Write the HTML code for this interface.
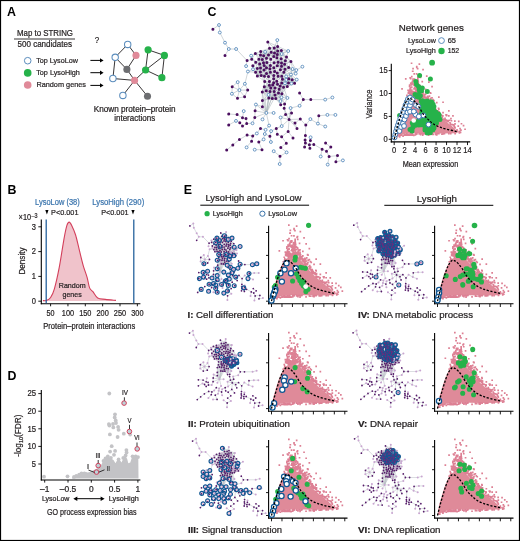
<!DOCTYPE html>
<html><head><meta charset="utf-8"><style>
html,body{margin:0;padding:0;background:#fff;overflow:hidden;width:520px;height:541px;}
svg{display:block;will-change:transform;}
text{font-family:"Liberation Sans", sans-serif;}
</style></head><body>
<svg width="520" height="541" viewBox="0 0 520 541">
<rect x="0" y="0" width="520" height="541" fill="#fff"/>
<defs><g id="pc"><path d="M0.00 0.00 L0.53 -4.58 L1.57 -10.53 L3.15 -16.03 L4.46 -20.61 L5.78 -24.73 L7.35 -29.31 L9.97 -35.72 L12.07 -39.39 L14.18 -42.14 L15.75 -43.05 L18.38 -43.97 L22.57 -44.88 L26.25 -43.51 L29.93 -40.30 L34.12 -35.27 L38.85 -29.77 L43.58 -24.73 L48.83 -20.15 L54.08 -16.03 L58.80 -12.37 L61.95 -8.70 L62.48 -5.95 L47.25 -5.72 L31.50 -5.95 L23.62 -6.18 L11.55 -5.50 L6.30 -4.12 L2.62 -2.06 Z" fill="#df8a99"/><path d="M41.7 -5.3h1.7v1.7h-1.7zM26.7 -52.0h1.7v1.7h-1.7zM19.0 -51.3h1.7v1.7h-1.7zM43.6 -27.3h1.7v1.7h-1.7zM26.3 -47.7h1.7v1.7h-1.7zM30.0 -41.9h1.7v1.7h-1.7zM53.0 -18.4h1.7v1.7h-1.7zM24.5 -54.7h1.7v1.7h-1.7zM22.4 -55.5h1.7v1.7h-1.7zM62.0 -10.2h1.7v1.7h-1.7zM32.7 -39.0h1.7v1.7h-1.7zM20.6 -50.4h1.7v1.7h-1.7zM39.1 -32.1h1.7v1.7h-1.7zM32.5 -43.7h1.7v1.7h-1.7zM39.9 -32.5h1.7v1.7h-1.7zM4.5 -4.4h1.7v1.7h-1.7zM44.1 -27.1h1.7v1.7h-1.7zM21.3 -52.3h1.7v1.7h-1.7zM1.4 -2.2h1.7v1.7h-1.7zM37.4 -33.6h1.7v1.7h-1.7zM35.6 -39.7h1.7v1.7h-1.7zM30.3 -43.1h1.7v1.7h-1.7zM41.1 -5.6h1.7v1.7h-1.7zM61.6 -9.0h1.7v1.7h-1.7zM19.5 -52.8h1.7v1.7h-1.7zM17.5 -58.7h1.7v1.7h-1.7zM18.3 -46.5h1.7v1.7h-1.7zM21.2 -6.5h1.7v1.7h-1.7zM62.6 -8.6h1.7v1.7h-1.7zM31.9 -39.8h1.7v1.7h-1.7zM33.2 -43.0h1.7v1.7h-1.7zM33.3 -36.9h1.7v1.7h-1.7zM31.6 -42.6h1.7v1.7h-1.7zM13.3 -47.9h1.7v1.7h-1.7zM18.1 -59.7h1.7v1.7h-1.7zM8.0 -4.1h1.7v1.7h-1.7zM61.8 -8.5h1.7v1.7h-1.7zM22.2 -51.6h1.7v1.7h-1.7zM23.3 -57.7h1.7v1.7h-1.7zM25.8 -51.0h1.7v1.7h-1.7zM16.0 -45.2h1.7v1.7h-1.7zM60.0 -12.2h1.7v1.7h-1.7zM15.0 -4.9h1.7v1.7h-1.7zM16.1 -6.0h1.7v1.7h-1.7zM15.8 -48.9h1.7v1.7h-1.7zM40.9 -6.5h1.7v1.7h-1.7zM19.0 -59.8h1.7v1.7h-1.7zM26.7 -51.6h1.7v1.7h-1.7zM25.4 -53.2h1.7v1.7h-1.7zM38.3 -34.9h1.7v1.7h-1.7zM40.7 -5.9h1.7v1.7h-1.7zM61.5 -9.3h1.7v1.7h-1.7zM22.5 -48.1h1.7v1.7h-1.7zM39.9 -30.2h1.7v1.7h-1.7zM41.3 -28.3h1.7v1.7h-1.7zM32.2 -40.5h1.7v1.7h-1.7zM20.8 -47.2h1.7v1.7h-1.7zM48.0 -21.1h1.7v1.7h-1.7zM27.5 -45.7h1.7v1.7h-1.7zM22.7 -51.4h1.7v1.7h-1.7zM17.3 -45.1h1.7v1.7h-1.7zM27.5 -48.6h1.7v1.7h-1.7zM55.7 -6.5h1.7v1.7h-1.7zM21.6 -52.3h1.7v1.7h-1.7zM23.7 -55.5h1.7v1.7h-1.7zM57.2 -15.6h1.7v1.7h-1.7zM25.0 -49.8h1.7v1.7h-1.7zM40.5 -29.5h1.7v1.7h-1.7zM25.4 -46.7h1.7v1.7h-1.7zM41.1 -28.9h1.7v1.7h-1.7zM32.5 -40.4h1.7v1.7h-1.7zM12.5 -43.2h1.7v1.7h-1.7zM24.6 -48.0h1.7v1.7h-1.7zM26.4 -44.0h1.7v1.7h-1.7zM13.5 -46.7h1.7v1.7h-1.7zM54.9 -17.4h1.7v1.7h-1.7zM14.1 -48.8h1.7v1.7h-1.7zM21.0 -54.1h1.7v1.7h-1.7zM53.3 -19.0h1.7v1.7h-1.7zM42.7 -29.2h1.7v1.7h-1.7zM46.9 -6.1h1.7v1.7h-1.7zM19.2 -46.0h1.7v1.7h-1.7zM27.6 -42.7h1.7v1.7h-1.7zM24.1 -49.5h1.7v1.7h-1.7zM52.0 -18.4h1.7v1.7h-1.7zM21.6 -6.1h1.7v1.7h-1.7zM15.5 -47.3h1.7v1.7h-1.7zM4.2 -4.0h1.7v1.7h-1.7zM19.7 -56.7h1.7v1.7h-1.7zM59.0 -14.3h1.7v1.7h-1.7zM38.9 -31.5h1.7v1.7h-1.7zM12.0 -4.9h1.7v1.7h-1.7zM23.9 -47.3h1.7v1.7h-1.7zM15.2 -51.4h1.7v1.7h-1.7zM36.8 -33.2h1.7v1.7h-1.7zM50.0 -21.8h1.7v1.7h-1.7zM33.7 -5.1h1.7v1.7h-1.7zM11.9 -44.8h1.7v1.7h-1.7zM39.2 -29.8h1.7v1.7h-1.7zM55.6 -15.6h1.7v1.7h-1.7zM18.2 -48.6h1.7v1.7h-1.7zM9.1 -5.0h1.7v1.7h-1.7zM27.7 -46.3h1.7v1.7h-1.7zM37.1 -6.3h1.7v1.7h-1.7zM44.0 -24.9h1.7v1.7h-1.7zM21.9 -59.5h1.7v1.7h-1.7zM25.8 -49.5h1.7v1.7h-1.7zM49.6 -20.8h1.7v1.7h-1.7zM19.4 -56.4h1.7v1.7h-1.7zM52.6 -19.6h1.7v1.7h-1.7zM19.1 -55.0h1.7v1.7h-1.7zM16.5 -48.6h1.7v1.7h-1.7zM24.4 -6.2h1.7v1.7h-1.7zM18.3 -4.9h1.7v1.7h-1.7zM27.4 -43.2h1.7v1.7h-1.7zM48.2 -6.2h1.7v1.7h-1.7zM44.6 -25.2h1.7v1.7h-1.7zM17.2 -6.4h1.7v1.7h-1.7zM40.2 -28.8h1.7v1.7h-1.7zM18.4 -55.6h1.7v1.7h-1.7zM20.7 -51.3h1.7v1.7h-1.7zM10.9 -40.3h1.7v1.7h-1.7zM23.1 -52.3h1.7v1.7h-1.7zM37.1 -5.8h1.7v1.7h-1.7zM4.6 -3.3h1.7v1.7h-1.7zM11.6 -6.1h1.7v1.7h-1.7zM21.3 -55.6h1.7v1.7h-1.7zM43.5 -28.5h1.7v1.7h-1.7zM37.6 -5.8h1.7v1.7h-1.7zM25.6 -5.4h1.7v1.7h-1.7zM21.2 -48.1h1.7v1.7h-1.7zM43.6 -25.1h1.7v1.7h-1.7zM18.7 -48.0h1.7v1.7h-1.7zM9.8 -5.0h1.7v1.7h-1.7zM22.2 -48.7h1.7v1.7h-1.7zM38.4 -5.8h1.7v1.7h-1.7zM20.2 -47.2h1.7v1.7h-1.7zM20.4 -6.6h1.7v1.7h-1.7zM49.4 -6.4h1.7v1.7h-1.7zM34.3 -37.2h1.7v1.7h-1.7zM50.0 -20.0h1.7v1.7h-1.7zM30.1 -41.4h1.7v1.7h-1.7zM48.7 -6.4h1.7v1.7h-1.7zM20.0 -56.7h1.7v1.7h-1.7zM25.2 -54.3h1.7v1.7h-1.7zM22.5 -49.1h1.7v1.7h-1.7zM43.8 -6.4h1.7v1.7h-1.7zM21.1 -57.6h1.7v1.7h-1.7zM14.1 -49.8h1.7v1.7h-1.7zM19.6 -55.2h1.7v1.7h-1.7zM16.1 -5.1h1.7v1.7h-1.7zM34.6 -34.8h1.7v1.7h-1.7zM19.5 -60.9h1.7v1.7h-1.7zM47.8 -24.3h1.7v1.7h-1.7zM45.7 -25.2h1.7v1.7h-1.7zM33.4 -38.7h1.7v1.7h-1.7zM16.2 -57.0h1.7v1.7h-1.7zM29.9 -45.5h1.7v1.7h-1.7zM23.8 -52.3h1.7v1.7h-1.7zM28.6 -6.3h1.7v1.7h-1.7zM53.8 -6.5h1.7v1.7h-1.7zM59.8 -12.7h1.7v1.7h-1.7zM20.4 -5.2h1.7v1.7h-1.7zM55.3 -16.7h1.7v1.7h-1.7zM16.7 -50.1h1.7v1.7h-1.7zM59.3 -13.6h1.7v1.7h-1.7zM15.7 -56.9h1.7v1.7h-1.7zM60.1 -6.6h1.7v1.7h-1.7zM38.2 -34.3h1.7v1.7h-1.7zM16.6 -56.1h1.7v1.7h-1.7zM21.4 -59.2h1.7v1.7h-1.7zM15.0 -46.7h1.7v1.7h-1.7zM18.4 -5.1h1.7v1.7h-1.7zM20.6 -52.9h1.7v1.7h-1.7zM13.8 -47.2h1.7v1.7h-1.7zM25.6 -6.3h1.7v1.7h-1.7zM14.8 -46.2h1.7v1.7h-1.7zM15.3 -52.7h1.7v1.7h-1.7zM24.6 -49.3h1.7v1.7h-1.7zM25.5 -6.2h1.7v1.7h-1.7zM22.0 -53.1h1.7v1.7h-1.7zM33.2 -42.7h1.7v1.7h-1.7zM28.2 -47.3h1.7v1.7h-1.7zM24.6 -47.1h1.7v1.7h-1.7zM22.6 -57.6h1.7v1.7h-1.7zM22.0 -59.0h1.7v1.7h-1.7zM25.9 -50.8h1.7v1.7h-1.7zM16.7 -53.1h1.7v1.7h-1.7zM16.8 -5.0h1.7v1.7h-1.7zM13.0 -49.9h1.7v1.7h-1.7zM32.5 -37.3h1.7v1.7h-1.7zM28.7 -43.1h1.7v1.7h-1.7zM22.1 -56.4h1.7v1.7h-1.7zM47.1 -24.6h1.7v1.7h-1.7zM30.7 -40.4h1.7v1.7h-1.7zM27.7 -5.0h1.7v1.7h-1.7zM31.9 -39.2h1.7v1.7h-1.7zM21.9 -6.7h1.7v1.7h-1.7zM27.8 -44.5h1.7v1.7h-1.7zM20.4 -48.5h1.7v1.7h-1.7zM33.7 -41.0h1.7v1.7h-1.7zM17.6 -56.9h1.7v1.7h-1.7zM18.7 -4.8h1.7v1.7h-1.7zM16.7 -48.4h1.7v1.7h-1.7zM44.2 -28.4h1.7v1.7h-1.7zM13.4 -4.9h1.7v1.7h-1.7zM22.7 -45.5h1.7v1.7h-1.7zM15.0 -50.1h1.7v1.7h-1.7zM41.1 -30.0h1.7v1.7h-1.7zM29.1 -44.8h1.7v1.7h-1.7zM6.5 -5.0h1.7v1.7h-1.7zM12.2 -41.8h1.7v1.7h-1.7zM33.2 -36.8h1.7v1.7h-1.7zM33.3 -42.7h1.7v1.7h-1.7zM39.9 -30.0h1.7v1.7h-1.7zM58.2 -15.2h1.7v1.7h-1.7zM47.3 -23.1h1.7v1.7h-1.7zM16.2 -44.8h1.7v1.7h-1.7zM16.0 -49.8h1.7v1.7h-1.7zM44.4 -24.7h1.7v1.7h-1.7zM51.2 -20.0h1.7v1.7h-1.7zM19.5 -45.4h1.7v1.7h-1.7zM4.5 -3.9h1.7v1.7h-1.7zM15.8 -46.6h1.7v1.7h-1.7zM29.4 -45.1h1.7v1.7h-1.7zM26.3 -51.7h1.7v1.7h-1.7zM21.1 -49.3h1.7v1.7h-1.7zM19.2 -54.9h1.7v1.7h-1.7zM27.2 -45.2h1.7v1.7h-1.7zM27.0 -6.6h1.7v1.7h-1.7zM13.3 -46.9h1.7v1.7h-1.7zM20.4 -46.1h1.7v1.7h-1.7zM31.7 -42.2h1.7v1.7h-1.7zM22.6 -58.0h1.7v1.7h-1.7zM29.6 -6.6h1.7v1.7h-1.7zM16.7 -52.7h1.7v1.7h-1.7zM20.9 -48.2h1.7v1.7h-1.7zM9.8 -5.4h1.7v1.7h-1.7zM44.3 -25.1h1.7v1.7h-1.7zM21.1 -59.3h1.7v1.7h-1.7zM22.7 -56.2h1.7v1.7h-1.7zM22.6 -57.3h1.7v1.7h-1.7zM20.6 -51.6h1.7v1.7h-1.7zM24.1 -6.6h1.7v1.7h-1.7zM21.8 -46.4h1.7v1.7h-1.7zM27.7 -49.8h1.7v1.7h-1.7zM19.7 -47.7h1.7v1.7h-1.7zM23.1 -57.7h1.7v1.7h-1.7zM15.1 -51.2h1.7v1.7h-1.7zM21.3 -58.5h1.7v1.7h-1.7zM59.0 -14.5h1.7v1.7h-1.7zM18.5 -60.8h1.7v1.7h-1.7zM16.3 -55.3h1.7v1.7h-1.7zM22.4 -56.5h1.7v1.7h-1.7zM36.6 -35.5h1.7v1.7h-1.7zM10.6 -5.1h1.7v1.7h-1.7zM42.9 -27.6h1.7v1.7h-1.7zM42.4 -6.5h1.7v1.7h-1.7zM11.7 -6.3h1.7v1.7h-1.7zM52.1 -18.9h1.7v1.7h-1.7zM22.0 -54.9h1.7v1.7h-1.7zM30.5 -46.1h1.7v1.7h-1.7zM22.4 -47.5h1.7v1.7h-1.7zM14.1 -49.3h1.7v1.7h-1.7zM19.4 -61.1h1.7v1.7h-1.7zM17.2 -57.9h1.7v1.7h-1.7zM23.2 -47.9h1.7v1.7h-1.7zM37.4 -36.4h1.7v1.7h-1.7zM38.4 -32.4h1.7v1.7h-1.7zM22.7 -56.6h1.7v1.7h-1.7zM14.5 -53.8h1.7v1.7h-1.7zM16.4 -48.8h1.7v1.7h-1.7zM15.8 -47.4h1.7v1.7h-1.7zM23.2 -54.1h1.7v1.7h-1.7zM17.4 -6.1h1.7v1.7h-1.7zM20.4 -53.1h1.7v1.7h-1.7zM14.0 -49.7h1.7v1.7h-1.7zM23.4 -46.2h1.7v1.7h-1.7zM27.7 -52.2h1.7v1.7h-1.7zM17.1 -57.7h1.7v1.7h-1.7zM35.2 -38.7h1.7v1.7h-1.7zM17.2 -46.9h1.7v1.7h-1.7zM44.6 -25.3h1.7v1.7h-1.7zM21.6 -46.1h1.7v1.7h-1.7zM22.0 -51.1h1.7v1.7h-1.7zM40.7 -30.7h1.7v1.7h-1.7zM15.4 -52.2h1.7v1.7h-1.7zM35.1 -38.0h1.7v1.7h-1.7zM50.3 -19.8h1.7v1.7h-1.7zM15.1 -6.0h1.7v1.7h-1.7zM15.3 -6.2h1.7v1.7h-1.7zM23.2 -49.6h1.7v1.7h-1.7zM27.5 -48.4h1.7v1.7h-1.7zM23.0 -55.3h1.7v1.7h-1.7zM50.9 -19.8h1.7v1.7h-1.7zM24.6 -47.6h1.7v1.7h-1.7zM27.8 -48.0h1.7v1.7h-1.7zM18.6 -45.1h1.7v1.7h-1.7zM13.3 -5.9h1.7v1.7h-1.7zM5.3 -4.8h1.7v1.7h-1.7zM16.7 -63.5h1.7v1.7h-1.7zM43.5 -31.8h1.7v1.7h-1.7zM38.0 -40.5h1.7v1.7h-1.7zM56.4 -19.4h1.7v1.7h-1.7zM21.6 -66.2h1.7v1.7h-1.7zM38.9 -39.6h1.7v1.7h-1.7zM51.0 -25.3h1.7v1.7h-1.7zM54.4 -19.9h1.7v1.7h-1.7zM18.0 -71.6h1.7v1.7h-1.7zM41.7 -37.6h1.7v1.7h-1.7zM14.6 -55.1h1.7v1.7h-1.7zM35.2 -47.4h1.7v1.7h-1.7zM22.8 -62.7h1.7v1.7h-1.7zM51.5 -24.4h1.7v1.7h-1.7zM15.7 -61.5h1.7v1.7h-1.7zM25.2 -65.4h1.7v1.7h-1.7zM65.0 -11.5h1.7v1.7h-1.7zM24.7 -64.6h1.7v1.7h-1.7zM22.8 -61.1h1.7v1.7h-1.7zM59.8 -19.0h1.7v1.7h-1.7zM35.8 -41.9h1.7v1.7h-1.7zM48.0 -27.6h1.7v1.7h-1.7zM43.8 -31.1h1.7v1.7h-1.7zM23.0 -59.4h1.7v1.7h-1.7zM51.7 -25.1h1.7v1.7h-1.7zM35.7 -46.9h1.7v1.7h-1.7zM17.6 -68.9h1.7v1.7h-1.7zM22.6 -71.5h1.7v1.7h-1.7zM60.0 -16.3h1.7v1.7h-1.7zM64.6 -8.7h1.7v1.7h-1.7zM27.2 -58.6h1.7v1.7h-1.7zM25.4 -62.7h1.7v1.7h-1.7zM64.4 -7.2h1.7v1.7h-1.7zM30.5 -50.7h1.7v1.7h-1.7zM65.9 -10.0h1.7v1.7h-1.7zM34.4 -44.1h1.7v1.7h-1.7zM65.5 -7.8h1.7v1.7h-1.7zM15.1 -62.3h1.7v1.7h-1.7zM21.7 -73.5h1.7v1.7h-1.7zM18.0 -61.0h1.7v1.7h-1.7zM19.2 -66.3h1.7v1.7h-1.7zM21.7 -72.7h1.7v1.7h-1.7zM17.8 -68.9h1.7v1.7h-1.7zM53.8 -24.3h1.7v1.7h-1.7zM37.0 -42.4h1.7v1.7h-1.7zM28.0 -70.5h1.7v1.7h-1.7zM31.7 -64.1h1.7v1.7h-1.7zM37.0 -53.5h1.7v1.7h-1.7zM43.8 -43.0h1.7v1.7h-1.7zM48.0 -37.9h1.7v1.7h-1.7zM53.8 -29.2h1.7v1.7h-1.7zM57.9 -24.2h1.7v1.7h-1.7zM63.7 -18.7h1.7v1.7h-1.7zM68.5 -14.6h1.7v1.7h-1.7zM63.2 -14.1h1.7v1.7h-1.7zM10.7 -61.3h1.7v1.7h-1.7zM7.0 -51.2h1.7v1.7h-1.7zM24.3 -76.0h1.7v1.7h-1.7zM16.5 -76.9h1.7v1.7h-1.7zM33.8 -58.1h1.7v1.7h-1.7zM55.9 -21.5h1.7v1.7h-1.7zM66.4 -16.4h1.7v1.7h-1.7zM70.0 -10.9h1.7v1.7h-1.7z" fill="#dd8094"/></g>
<path id="dl" d="M0.00 0.00 C0.44 -1.76 1.71 -7.10 2.62 -10.53 C3.54 -13.97 4.55 -17.40 5.51 -20.61 C6.48 -23.82 7.48 -27.17 8.40 -29.77 C9.32 -32.37 10.02 -34.35 11.03 -36.18 C12.03 -38.01 13.39 -40.08 14.44 -40.76 C15.49 -41.45 16.27 -40.84 17.32 -40.30 C18.38 -39.77 19.51 -38.85 20.74 -37.56 C21.96 -36.26 23.23 -34.66 24.68 -32.52 C26.12 -30.38 27.82 -26.87 29.40 -24.73 C30.97 -22.59 32.55 -21.22 34.12 -19.69 C35.70 -18.17 37.01 -16.79 38.85 -15.57 C40.69 -14.35 42.88 -13.28 45.15 -12.37 C47.42 -11.45 49.61 -10.84 52.50 -10.08 C55.39 -9.31 60.81 -8.17 62.48 -7.79" fill="none" stroke="#000" stroke-width="1.3" stroke-dasharray="2.2 1.6"/>
<path id="ee" d="M3.4 0.0L0.0 2.3M3.4 0.0L3.9 4.1M3.9 4.1L6.8 9.7M6.8 9.7L8.9 13.2M8.9 13.2L13.0 13.2M8.9 13.2L6.8 16.7M13.0 13.2L19.2 19.6M19.2 19.6L21.8 18.8M19.2 19.6L18.7 22.6M21.5 16.9L23.9 15.6M21.5 16.9L21.8 18.8M21.5 16.9L24.1 20.5M23.9 15.6L21.8 18.8M23.9 15.6L26.9 14.5M23.9 15.6L28.5 16.9M23.9 15.6L25.8 18.8M23.9 15.6L27.8 19.0M23.9 15.6L26.7 16.5M21.8 18.8L24.1 20.5M24.1 20.5L22.4 22.4M24.1 20.5L22.5 24.3M24.1 20.5L25.8 18.8M24.1 20.5L27.8 19.0M24.1 20.5L26.2 21.5M24.1 20.5L28.4 20.8M24.1 20.5L25.0 23.9M24.1 20.5L26.8 23.7M22.4 22.4L22.5 24.3M22.4 22.4L25.0 23.9M22.5 24.3L19.7 25.6M22.5 24.3L25.0 28.1M22.5 24.3L25.0 23.9M22.5 24.3L24.0 26.0M22.5 24.3L26.7 25.8M19.7 25.6L18.0 32.3M19.7 25.6L24.0 26.0M30.9 9.4L31.8 12.7M30.9 9.4L34.5 12.6M30.9 9.4L36.4 11.8M36.2 8.3L34.5 12.6M36.2 8.3L36.4 11.8M31.8 12.7L34.5 12.6M31.8 12.7L36.4 11.8M31.8 12.7L26.9 14.5M31.8 12.7L29.3 14.8M31.8 12.7L32.8 15.0M31.8 12.7L36.4 14.3M31.8 12.7L28.5 16.9M31.8 12.7L31.2 16.5M31.8 12.7L34.2 17.3M31.8 12.7L34.6 15.4M34.5 12.6L36.4 11.8M34.5 12.6L38.7 16.0M34.5 12.6L32.8 15.0M34.5 12.6L36.4 14.3M34.5 12.6L31.2 16.5M34.5 12.6L36.2 16.3M34.5 12.6L34.6 15.4M36.4 11.8L38.5 14.0M36.4 11.8L42.3 14.3M36.4 11.8L38.7 16.0M36.4 11.8L36.4 14.3M36.4 11.8L34.2 17.3M36.4 11.8L36.2 16.3M36.4 11.8L34.6 15.4M26.9 14.5L29.3 14.8M26.9 14.5L28.5 16.9M26.9 14.5L31.2 16.5M26.9 14.5L25.8 18.8M26.9 14.5L27.8 19.0M26.9 14.5L26.7 16.5M29.3 14.8L32.8 15.0M29.3 14.8L28.5 16.9M29.3 14.8L31.2 16.5M29.3 14.8L34.2 17.3M29.3 14.8L25.8 18.8M29.3 14.8L27.8 19.0M29.3 14.8L30.1 18.3M29.3 14.8L32.5 18.8M29.3 14.8L26.7 16.5M38.5 14.0L42.3 14.3M38.5 14.0L38.7 16.0M38.5 14.0L41.4 17.6M38.5 14.0L36.4 14.3M38.5 14.0L34.2 17.3M38.5 14.0L36.2 16.3M38.5 14.0L36.0 18.0M38.5 14.0L34.6 15.4M42.3 14.3L38.7 16.0M42.3 14.3L41.4 17.6M42.3 14.3L36.2 16.3M38.7 16.0L41.4 17.6M38.7 16.0L43.9 20.0M38.7 16.0L36.4 14.3M38.7 16.0L34.2 17.3M38.7 16.0L36.2 16.3M38.7 16.0L36.0 18.0M38.7 16.0L38.4 18.6M38.7 16.0L36.6 20.5M38.7 16.0L34.6 15.4M41.4 17.6L43.9 20.0M41.4 17.6L36.2 16.3M41.4 17.6L38.4 18.6M41.4 17.6L40.7 19.7M41.4 17.6L38.6 21.0M41.4 17.6L40.3 21.6M43.9 20.0L42.6 23.4M43.9 20.0L44.8 24.2M43.9 20.0L46.9 24.8M43.9 20.0L40.7 19.7M43.9 20.0L40.3 21.6M43.9 20.0L38.6 22.7M25.0 28.1L29.1 31.0M25.0 28.1L25.0 23.9M25.0 28.1L26.8 23.7M25.0 28.1L24.0 26.0M25.0 28.1L26.7 25.8M25.0 28.1L28.8 24.8M25.0 28.1L27.1 27.8M25.0 28.1L30.1 26.7M25.0 28.1L29.0 28.2M42.6 23.4L44.8 24.2M42.6 23.4L46.9 24.8M42.6 23.4L40.7 19.7M42.6 23.4L38.6 21.0M42.6 23.4L40.3 21.6M42.6 23.4L38.6 22.7M42.6 23.4L37.9 24.6M42.6 23.4L40.5 24.3M42.6 23.4L39.8 26.0M44.8 24.2L46.9 24.8M44.8 24.2L46.5 26.7M44.8 24.2L43.9 27.3M44.8 24.2L41.2 28.3M44.8 24.2L42.7 29.6M44.8 24.2L40.3 21.6M44.8 24.2L40.5 24.3M44.8 24.2L39.8 26.0M46.9 24.8L50.3 22.9M46.9 24.8L46.5 26.7M46.9 24.8L43.9 27.3M46.5 26.7L43.9 27.3M43.9 27.3L41.2 28.3M43.9 27.3L41.3 30.2M43.9 27.3L47.1 30.0M43.9 27.3L44.2 32.2M43.9 27.3L45.9 32.1M43.9 27.3L42.7 29.6M43.9 27.3L44.6 30.1M43.9 27.3L40.5 24.3M43.9 27.3L39.8 26.0M43.9 27.3L42.5 32.0M41.2 28.3L41.3 30.2M41.2 28.3L40.5 32.0M41.2 28.3L45.9 32.1M41.2 28.3L42.7 29.6M41.2 28.3L40.5 24.3M41.2 28.3L38.7 28.2M41.2 28.3L39.8 26.0M41.2 28.3L42.5 32.0M41.2 28.3L39.1 29.9M41.3 30.2L40.5 32.0M41.3 30.2L44.2 32.2M41.3 30.2L42.7 29.6M41.3 30.2L44.6 30.1M41.3 30.2L39.7 34.2M41.3 30.2L38.7 28.2M41.3 30.2L38.7 31.8M41.3 30.2L41.8 33.8M41.3 30.2L42.5 32.0M41.3 30.2L39.1 29.9M47.1 30.0L44.2 32.2M47.1 30.0L45.9 32.1M47.1 30.0L42.7 29.6M47.1 30.0L44.6 30.1M40.5 32.0L44.2 32.2M40.5 32.0L42.7 29.6M40.5 32.0L44.6 30.1M40.5 32.0L39.7 34.2M40.5 32.0L38.7 28.2M40.5 32.0L36.3 32.6M40.5 32.0L38.7 31.8M40.5 32.0L41.8 33.8M40.5 32.0L42.5 32.0M40.5 32.0L39.1 29.9M40.5 32.0L37.8 33.5M44.2 32.2L45.9 32.1M44.2 32.2L42.7 29.6M44.2 32.2L44.6 30.1M44.2 32.2L41.8 33.8M44.2 32.2L42.5 32.0M45.9 32.1L42.7 29.6M45.9 32.1L44.6 30.1M45.9 32.1L41.8 33.8M45.9 32.1L42.5 32.0M42.7 29.6L44.6 30.1M42.7 29.6L42.5 32.0M42.7 29.6L39.1 29.9M44.6 30.1L42.5 32.0M44.6 30.1L39.1 29.9M18.0 32.3L14.9 35.8M18.0 32.3L19.6 35.8M29.1 31.0L28.9 34.0M29.1 31.0L27.1 27.8M29.1 31.0L31.2 28.4M29.1 31.0L31.8 31.1M29.1 31.0L33.6 33.0M29.1 31.0L32.5 34.7M29.1 31.0L27.8 36.8M29.1 31.0L31.7 33.1M29.1 31.0L29.0 28.2M28.9 34.0L30.0 48.4M28.9 34.0L31.3 38.4M28.9 34.0L31.8 31.1M28.9 34.0L34.1 31.8M28.9 34.0L33.6 33.0M28.9 34.0L32.5 34.7M28.9 34.0L34.9 34.7M28.9 34.0L27.8 36.8M28.9 34.0L32.1 36.6M28.9 34.0L31.7 33.1M28.9 34.0L30.0 36.2M39.7 34.2L38.6 39.8M39.7 34.2L41.9 40.1M39.7 34.2L38.7 31.8M39.7 34.2L34.9 34.7M39.7 34.2L37.3 35.3M39.7 34.2L41.8 33.8M39.7 34.2L36.9 37.5M39.7 34.2L38.8 37.8M39.7 34.2L42.5 32.0M39.7 34.2L39.1 29.9M39.7 34.2L37.8 33.5M13.9 31.4L10.8 33.9M13.9 31.4L14.9 35.8M10.8 33.9L14.9 35.8M10.8 33.9L10.7 37.8M14.9 35.8L19.6 35.8M14.9 35.8L10.7 37.8M14.9 35.8L13.8 40.3M14.9 35.8L17.8 39.4M19.6 35.8L17.8 39.4M10.7 37.8L13.8 40.3M13.8 40.3L17.8 39.4M24.2 43.8L27.8 44.9M24.2 43.8L23.7 47.2M24.2 43.8L30.0 48.4M27.8 41.6L27.8 44.9M27.8 41.6L30.0 48.4M27.8 41.6L31.3 38.4M27.8 41.6L27.8 36.8M27.8 41.6L31.4 40.2M27.8 41.6L33.4 40.4M27.8 44.9L30.0 48.4M23.7 47.2L30.0 48.4M23.7 47.2L23.5 50.9M17.3 47.4L16.6 51.0M30.0 48.4L30.0 48.4M30.0 48.4L34.1 48.4M30.0 48.4L23.5 50.9M30.0 48.4L27.9 51.9M30.0 48.4L31.6 55.3M30.0 48.4L31.3 38.4M30.0 48.4L32.5 34.7M30.0 48.4L34.9 34.7M30.0 48.4L37.3 35.3M30.0 48.4L27.8 36.8M30.0 48.4L32.1 36.6M30.0 48.4L34.5 36.6M8.9 49.0L13.6 49.3M13.6 49.3L16.6 51.0M16.6 51.0L18.6 51.5M18.6 51.5L19.0 54.2M23.5 50.9L22.3 54.1M13.0 52.7L15.1 53.7M13.0 52.7L8.9 55.0M15.1 53.7L16.6 55.6M19.0 54.2L22.3 54.1M19.0 54.2L16.6 55.6M38.0 50.9L38.7 55.6M38.0 50.9L40.9 49.3M38.0 50.9L42.8 52.0M31.6 55.3L29.6 57.6M38.7 55.6L35.6 56.9M38.7 55.6L42.8 52.0M26.8 56.9L29.6 57.6M26.8 56.9L24.7 59.6M29.6 57.6L29.2 60.0M32.7 58.4L35.6 56.9M32.7 58.4L32.0 61.2M35.6 56.9L36.2 60.0M24.7 59.6L22.4 61.1M29.2 60.0L32.0 61.2M29.2 60.0L28.5 62.9M36.2 60.0L38.6 61.4M19.2 60.6L22.4 61.1M19.2 60.6L14.9 63.0M22.4 61.1L21.7 63.9M32.0 61.2L32.6 64.4M38.6 61.4L42.3 58.6M38.6 61.4L41.3 65.0M14.9 63.0L11.2 66.0M28.5 62.9L25.8 64.4M31.3 38.4L32.5 34.7M31.3 38.4L34.9 34.7M31.3 38.4L27.8 36.8M31.3 38.4L32.1 36.6M31.3 38.4L34.5 36.6M31.3 38.4L34.9 38.5M31.3 38.4L31.4 40.2M31.3 38.4L33.4 40.4M31.3 38.4L35.3 40.4M31.3 38.4L30.0 36.2M38.6 39.8L38.0 41.9M38.6 39.8L38.1 43.8M38.6 39.8L41.9 40.1M38.6 39.8L37.3 35.3M38.6 39.8L36.9 37.5M38.6 39.8L38.8 37.8M38.6 39.8L34.9 38.5M38.6 39.8L33.4 40.4M38.6 39.8L35.3 40.4M38.6 39.8L40.3 43.5M38.0 41.9L38.1 43.8M38.0 41.9L41.9 40.1M38.0 41.9L36.9 37.5M38.0 41.9L38.8 37.8M38.0 41.9L33.4 40.4M38.0 41.9L35.3 40.4M38.1 43.8L35.3 40.4M38.1 43.8L40.3 43.5M40.0 45.8L40.9 49.3M40.0 45.8L42.8 52.0M40.0 45.8L40.3 43.5M48.7 37.4L50.8 41.0M50.8 41.0L55.0 41.0M50.8 41.0L48.7 44.4M55.0 41.0L63.1 41.0M63.1 41.0L67.2 39.9M48.7 44.4L43.7 45.7M41.9 40.1L37.3 35.3M41.9 40.1L38.8 37.8M41.9 40.1L40.3 43.5M43.7 45.7L44.2 48.4M43.7 45.7L42.8 52.0M40.9 49.3L44.2 48.4M40.9 49.3L42.8 52.0M44.2 48.4L42.8 52.0M42.8 52.0L42.8 52.0M42.8 52.0L49.1 51.8M42.8 52.0L46.1 53.8M42.8 52.0L47.3 57.0M42.8 52.0L42.3 58.6M49.1 51.8L46.1 53.8M49.1 51.8L52.2 55.0M54.8 51.8L52.2 55.0M54.8 51.8L59.0 54.2M59.5 49.9L64.3 49.4M59.5 49.9L59.0 54.2M64.3 49.4L68.8 49.4M46.1 53.8L47.3 57.0M52.2 55.0L52.0 60.8M59.0 54.2L63.1 55.8M42.3 58.6L45.0 62.1M41.3 65.0L38.2 67.3M38.2 67.3L41.4 70.1M34.2 69.4L37.7 72.2M41.4 70.1L37.7 72.2M37.7 72.2L37.5 76.5M21.7 63.9L18.9 67.3M25.8 64.4L27.6 68.6M11.2 66.0L7.8 68.8M23.5 68.6L27.6 68.6M52.0 60.8L51.8 63.2M54.9 61.8L54.8 63.5M51.8 63.2L52.0 65.0M54.8 63.5L54.2 65.8M52.0 65.0L54.2 65.8M52.0 65.0L51.5 67.2M54.2 65.8L56.7 65.7M54.2 65.8L54.5 67.8M56.7 65.7L61.4 68.3M63.3 65.0L66.3 67.2M66.3 67.2L63.8 69.4M61.4 68.3L63.8 69.4M61.4 68.3L60.6 72.3M63.8 69.4L65.3 72.3M65.3 72.3L70.0 71.8M65.3 72.3L64.5 76.8M70.0 71.8L69.1 75.2M69.1 75.2L73.1 74.5M32.8 15.0L36.4 14.3M32.8 15.0L28.5 16.9M32.8 15.0L31.2 16.5M32.8 15.0L34.2 17.3M32.8 15.0L36.2 16.3M32.8 15.0L30.1 18.3M32.8 15.0L34.6 15.4M36.4 14.3L31.2 16.5M36.4 14.3L34.2 17.3M36.4 14.3L36.2 16.3M36.4 14.3L36.0 18.0M36.4 14.3L38.4 18.6M36.4 14.3L34.6 15.4M28.5 16.9L31.2 16.5M28.5 16.9L25.8 18.8M28.5 16.9L27.8 19.0M28.5 16.9L30.1 18.3M28.5 16.9L32.5 18.8M28.5 16.9L28.4 20.8M28.5 16.9L30.3 20.6M28.5 16.9L26.7 16.5M31.2 16.5L34.2 17.3M31.2 16.5L27.8 19.0M31.2 16.5L30.1 18.3M31.2 16.5L32.5 18.8M31.2 16.5L26.7 16.5M31.2 16.5L34.6 15.4M34.2 17.3L36.2 16.3M34.2 17.3L30.1 18.3M34.2 17.3L32.5 18.8M34.2 17.3L36.0 18.0M34.2 17.3L34.4 20.8M34.2 17.3L36.6 20.5M34.2 17.3L34.6 15.4M36.2 16.3L32.5 18.8M36.2 16.3L36.0 18.0M36.2 16.3L38.4 18.6M36.2 16.3L36.6 20.5M36.2 16.3L34.6 15.4M25.8 18.8L27.8 19.0M25.8 18.8L26.2 21.5M25.8 18.8L28.4 20.8M25.8 18.8L26.7 16.5M27.8 19.0L30.1 18.3M27.8 19.0L26.2 21.5M27.8 19.0L28.4 20.8M27.8 19.0L30.3 20.6M27.8 19.0L26.7 16.5M30.1 18.3L32.5 18.8M30.1 18.3L28.4 20.8M30.1 18.3L30.3 20.6M30.1 18.3L28.8 22.3M32.5 18.8L30.3 20.6M32.5 18.8L34.4 20.8M32.5 18.8L32.3 22.2M32.5 18.8L34.6 15.4M36.0 18.0L38.4 18.6M36.0 18.0L34.4 20.8M36.0 18.0L36.6 20.5M36.0 18.0L38.6 21.0M36.0 18.0L34.6 15.4M38.4 18.6L40.7 19.7M38.4 18.6L34.4 20.8M38.4 18.6L36.6 20.5M38.4 18.6L38.6 21.0M38.4 18.6L40.3 21.6M38.4 18.6L36.2 22.4M38.4 18.6L38.6 22.7M40.7 19.7L36.6 20.5M40.7 19.7L38.6 21.0M40.7 19.7L40.3 21.6M40.7 19.7L38.6 22.7M26.2 21.5L28.4 20.8M26.2 21.5L30.3 20.6M26.2 21.5L28.8 22.3M26.2 21.5L25.0 23.9M26.2 21.5L26.8 23.7M26.2 21.5L30.1 23.5M26.2 21.5L26.7 25.8M26.2 21.5L28.8 24.8M26.2 21.5L26.7 16.5M28.4 20.8L30.3 20.6M28.4 20.8L28.8 22.3M28.4 20.8L32.3 22.2M28.4 20.8L25.0 23.9M28.4 20.8L26.8 23.7M28.4 20.8L30.1 23.5M28.4 20.8L28.8 24.8M28.4 20.8L26.7 16.5M30.3 20.6L34.4 20.8M30.3 20.6L28.8 22.3M30.3 20.6L32.3 22.2M30.3 20.6L30.1 23.5M30.3 20.6L32.0 24.1M34.4 20.8L36.6 20.5M34.4 20.8L38.6 21.0M34.4 20.8L32.3 22.2M34.4 20.8L36.2 22.4M34.4 20.8L34.2 23.5M34.4 20.8L32.0 24.1M36.6 20.5L38.6 21.0M36.6 20.5L36.2 22.4M36.6 20.5L38.6 22.7M36.6 20.5L34.2 23.5M36.6 20.5L37.9 24.6M38.6 21.0L40.3 21.6M38.6 21.0L36.2 22.4M38.6 21.0L38.6 22.7M38.6 21.0L37.9 24.6M38.6 21.0L40.5 24.3M40.3 21.6L36.2 22.4M40.3 21.6L38.6 22.7M40.3 21.6L37.9 24.6M40.3 21.6L40.5 24.3M40.3 21.6L39.8 26.0M28.8 22.3L32.3 22.2M28.8 22.3L25.0 23.9M28.8 22.3L26.8 23.7M28.8 22.3L30.1 23.5M28.8 22.3L28.8 24.8M28.8 22.3L32.0 24.1M32.3 22.2L30.1 23.5M32.3 22.2L34.2 23.5M32.3 22.2L28.8 24.8M32.3 22.2L32.3 26.0M32.3 22.2L32.0 24.1M36.2 22.4L38.6 22.7M36.2 22.4L34.2 23.5M36.2 22.4L37.9 24.6M36.2 22.4L40.5 24.3M36.2 22.4L34.7 25.6M36.2 22.4L32.0 24.1M38.6 22.7L37.9 24.6M38.6 22.7L40.5 24.3M38.6 22.7L39.8 26.0M25.0 23.9L26.8 23.7M25.0 23.9L24.0 26.0M25.0 23.9L26.7 25.8M25.0 23.9L28.8 24.8M26.8 23.7L30.1 23.5M26.8 23.7L24.0 26.0M26.8 23.7L26.7 25.8M26.8 23.7L28.8 24.8M26.8 23.7L30.1 26.7M30.1 23.5L26.7 25.8M30.1 23.5L28.8 24.8M30.1 23.5L32.3 26.0M30.1 23.5L30.1 26.7M30.1 23.5L32.0 24.1M34.2 23.5L37.9 24.6M34.2 23.5L32.3 26.0M34.2 23.5L34.7 25.6M34.2 23.5L36.2 26.5M34.2 23.5L34.2 27.7M34.2 23.5L32.0 24.1M37.9 24.6L40.5 24.3M37.9 24.6L34.7 25.6M37.9 24.6L36.2 26.5M37.9 24.6L36.6 28.2M37.9 24.6L38.7 28.2M37.9 24.6L39.8 26.0M40.5 24.3L38.7 28.2M40.5 24.3L39.8 26.0M24.0 26.0L26.7 25.8M24.0 26.0L28.8 24.8M24.0 26.0L27.1 27.8M26.7 25.8L28.8 24.8M26.7 25.8L27.1 27.8M26.7 25.8L30.1 26.7M26.7 25.8L29.0 28.2M28.8 24.8L32.3 26.0M28.8 24.8L27.1 27.8M28.8 24.8L30.1 26.7M28.8 24.8L32.0 24.1M28.8 24.8L29.0 28.2M32.3 26.0L34.7 25.6M32.3 26.0L27.1 27.8M32.3 26.0L30.1 26.7M32.3 26.0L31.2 28.4M32.3 26.0L34.2 27.7M32.3 26.0L34.1 29.5M32.3 26.0L32.0 24.1M32.3 26.0L29.0 28.2M34.7 25.6L36.2 26.5M34.7 25.6L30.1 26.7M34.7 25.6L31.2 28.4M34.7 25.6L34.2 27.7M34.7 25.6L36.6 28.2M34.7 25.6L32.0 24.1M36.2 26.5L34.2 27.7M36.2 26.5L36.6 28.2M36.2 26.5L38.7 28.2M36.2 26.5L39.8 26.0M36.2 26.5L34.1 29.5M27.1 27.8L30.1 26.7M27.1 27.8L31.2 28.4M27.1 27.8L29.0 28.2M30.1 26.7L31.2 28.4M30.1 26.7L34.2 27.7M30.1 26.7L31.8 31.1M30.1 26.7L32.0 24.1M30.1 26.7L29.0 28.2M31.2 28.4L34.2 27.7M31.2 28.4L31.8 31.1M31.2 28.4L34.1 29.5M31.2 28.4L34.1 31.8M31.2 28.4L32.0 24.1M31.2 28.4L29.0 28.2M34.2 27.7L36.6 28.2M34.2 27.7L34.1 29.5M34.2 27.7L35.9 31.0M36.6 28.2L38.7 28.2M36.6 28.2L39.8 26.0M36.6 28.2L34.1 29.5M36.6 28.2L35.9 31.0M36.6 28.2L34.1 31.8M36.6 28.2L38.7 31.8M36.6 28.2L39.1 29.9M38.7 28.2L39.8 26.0M38.7 28.2L35.9 31.0M38.7 28.2L39.1 29.9M39.8 26.0L39.1 29.9M31.8 31.1L34.1 29.5M31.8 31.1L34.1 31.8M31.8 31.1L33.6 33.0M31.8 31.1L32.5 34.7M31.8 31.1L31.7 33.1M31.8 31.1L29.0 28.2M34.1 29.5L35.9 31.0M34.1 29.5L34.1 31.8M34.1 29.5L36.3 32.6M34.1 29.5L33.6 33.0M35.9 31.0L34.1 31.8M35.9 31.0L36.3 32.6M35.9 31.0L38.7 31.8M35.9 31.0L33.6 33.0M35.9 31.0L37.3 35.3M34.1 31.8L36.3 32.6M34.1 31.8L33.6 33.0M34.1 31.8L32.5 34.7M34.1 31.8L34.9 34.7M34.1 31.8L31.7 33.1M34.1 31.8L37.8 33.5M36.3 32.6L38.7 31.8M36.3 32.6L33.6 33.0M36.3 32.6L32.5 34.7M36.3 32.6L34.9 34.7M36.3 32.6L37.3 35.3M36.3 32.6L31.7 33.1M36.3 32.6L39.1 29.9M36.3 32.6L37.8 33.5M38.7 31.8L37.3 35.3M38.7 31.8L41.8 33.8M38.7 31.8L39.1 29.9M38.7 31.8L37.8 33.5M33.6 33.0L32.5 34.7M33.6 33.0L34.9 34.7M33.6 33.0L37.3 35.3M33.6 33.0L34.5 36.6M33.6 33.0L31.7 33.1M33.6 33.0L30.0 36.2M32.5 34.7L34.9 34.7M32.5 34.7L32.1 36.6M32.5 34.7L34.5 36.6M32.5 34.7L34.9 38.5M32.5 34.7L31.4 40.2M32.5 34.7L31.7 33.1M32.5 34.7L30.0 36.2M34.9 34.7L37.3 35.3M34.9 34.7L32.1 36.6M34.9 34.7L34.5 36.6M34.9 34.7L36.9 37.5M34.9 34.7L34.9 38.5M34.9 34.7L31.7 33.1M34.9 34.7L37.8 33.5M37.3 35.3L41.8 33.8M37.3 35.3L34.5 36.6M37.3 35.3L36.9 37.5M37.3 35.3L38.8 37.8M37.3 35.3L34.9 38.5M37.3 35.3L35.3 40.4M37.3 35.3L37.8 33.5M41.8 33.8L38.8 37.8M41.8 33.8L42.5 32.0M27.8 36.8L32.1 36.6M27.8 36.8L31.4 40.2M27.8 36.8L31.7 33.1M27.8 36.8L30.0 36.2M32.1 36.6L34.5 36.6M32.1 36.6L34.9 38.5M32.1 36.6L31.4 40.2M32.1 36.6L33.4 40.4M32.1 36.6L31.7 33.1M32.1 36.6L30.0 36.2M34.5 36.6L36.9 37.5M34.5 36.6L34.9 38.5M34.5 36.6L33.4 40.4M34.5 36.6L35.3 40.4M34.5 36.6L31.7 33.1M36.9 37.5L38.8 37.8M36.9 37.5L34.9 38.5M36.9 37.5L31.4 40.2M36.9 37.5L33.4 40.4M36.9 37.5L35.3 40.4M36.9 37.5L37.8 33.5M38.8 37.8L34.9 38.5M38.8 37.8L35.3 40.4M38.8 37.8L37.8 33.5M34.9 38.5L31.4 40.2M34.9 38.5L33.4 40.4M34.9 38.5L35.3 40.4M31.4 40.2L33.4 40.4M31.4 40.2L35.3 40.4M31.4 40.2L30.0 36.2M33.4 40.4L35.3 40.4M33.4 40.4L30.0 36.2M42.5 32.0L39.1 29.9M31.7 33.1L30.0 36.2M39.1 29.9L37.8 33.5M32.0 24.1L29.0 28.2" stroke="#b6bdc2" stroke-width="0.5" fill="none"/>
<g id="en"><path d="M2.4 0.0a1.02 1.02 0 1 0 2.04 0a1.02 1.02 0 1 0 -2.04 0zM2.9 4.1a1.02 1.02 0 1 0 2.04 0a1.02 1.02 0 1 0 -2.04 0zM5.8 9.7a1.02 1.02 0 1 0 2.04 0a1.02 1.02 0 1 0 -2.04 0zM7.9 13.2a1.02 1.02 0 1 0 2.04 0a1.02 1.02 0 1 0 -2.04 0zM12.0 13.2a1.02 1.02 0 1 0 2.04 0a1.02 1.02 0 1 0 -2.04 0zM20.4 16.9a1.02 1.02 0 1 0 2.04 0a1.02 1.02 0 1 0 -2.04 0zM17.6 22.6a1.02 1.02 0 1 0 2.04 0a1.02 1.02 0 1 0 -2.04 0zM21.5 24.3a1.02 1.02 0 1 0 2.04 0a1.02 1.02 0 1 0 -2.04 0zM18.7 25.6a1.02 1.02 0 1 0 2.04 0a1.02 1.02 0 1 0 -2.04 0zM35.2 8.3a1.02 1.02 0 1 0 2.04 0a1.02 1.02 0 1 0 -2.04 0zM28.3 14.8a1.02 1.02 0 1 0 2.04 0a1.02 1.02 0 1 0 -2.04 0zM41.3 14.3a1.02 1.02 0 1 0 2.04 0a1.02 1.02 0 1 0 -2.04 0zM37.6 16.0a1.02 1.02 0 1 0 2.04 0a1.02 1.02 0 1 0 -2.04 0zM43.8 24.2a1.02 1.02 0 1 0 2.04 0a1.02 1.02 0 1 0 -2.04 0zM45.9 24.8a1.02 1.02 0 1 0 2.04 0a1.02 1.02 0 1 0 -2.04 0zM49.3 22.9a1.02 1.02 0 1 0 2.04 0a1.02 1.02 0 1 0 -2.04 0zM45.5 26.7a1.02 1.02 0 1 0 2.04 0a1.02 1.02 0 1 0 -2.04 0zM42.8 27.3a1.02 1.02 0 1 0 2.04 0a1.02 1.02 0 1 0 -2.04 0zM40.2 28.3a1.02 1.02 0 1 0 2.04 0a1.02 1.02 0 1 0 -2.04 0zM40.2 30.2a1.02 1.02 0 1 0 2.04 0a1.02 1.02 0 1 0 -2.04 0zM46.1 30.0a1.02 1.02 0 1 0 2.04 0a1.02 1.02 0 1 0 -2.04 0zM39.5 32.0a1.02 1.02 0 1 0 2.04 0a1.02 1.02 0 1 0 -2.04 0zM43.1 32.2a1.02 1.02 0 1 0 2.04 0a1.02 1.02 0 1 0 -2.04 0zM17.0 32.3a1.02 1.02 0 1 0 2.04 0a1.02 1.02 0 1 0 -2.04 0zM12.9 31.4a1.02 1.02 0 1 0 2.04 0a1.02 1.02 0 1 0 -2.04 0zM13.9 35.8a1.02 1.02 0 1 0 2.04 0a1.02 1.02 0 1 0 -2.04 0zM9.7 37.8a1.02 1.02 0 1 0 2.04 0a1.02 1.02 0 1 0 -2.04 0zM23.1 43.8a1.02 1.02 0 1 0 2.04 0a1.02 1.02 0 1 0 -2.04 0zM16.3 47.4a1.02 1.02 0 1 0 2.04 0a1.02 1.02 0 1 0 -2.04 0zM29.0 48.4a1.02 1.02 0 1 0 2.04 0a1.02 1.02 0 1 0 -2.04 0zM33.1 48.4a1.02 1.02 0 1 0 2.04 0a1.02 1.02 0 1 0 -2.04 0zM12.0 52.7a1.02 1.02 0 1 0 2.04 0a1.02 1.02 0 1 0 -2.04 0zM21.2 54.1a1.02 1.02 0 1 0 2.04 0a1.02 1.02 0 1 0 -2.04 0zM26.9 51.9a1.02 1.02 0 1 0 2.04 0a1.02 1.02 0 1 0 -2.04 0zM37.0 50.9a1.02 1.02 0 1 0 2.04 0a1.02 1.02 0 1 0 -2.04 0zM30.6 55.3a1.02 1.02 0 1 0 2.04 0a1.02 1.02 0 1 0 -2.04 0zM37.6 55.6a1.02 1.02 0 1 0 2.04 0a1.02 1.02 0 1 0 -2.04 0zM28.6 57.6a1.02 1.02 0 1 0 2.04 0a1.02 1.02 0 1 0 -2.04 0zM31.7 58.4a1.02 1.02 0 1 0 2.04 0a1.02 1.02 0 1 0 -2.04 0zM23.7 59.6a1.02 1.02 0 1 0 2.04 0a1.02 1.02 0 1 0 -2.04 0zM28.1 60.0a1.02 1.02 0 1 0 2.04 0a1.02 1.02 0 1 0 -2.04 0zM27.5 62.9a1.02 1.02 0 1 0 2.04 0a1.02 1.02 0 1 0 -2.04 0zM30.3 38.4a1.02 1.02 0 1 0 2.04 0a1.02 1.02 0 1 0 -2.04 0zM37.5 39.8a1.02 1.02 0 1 0 2.04 0a1.02 1.02 0 1 0 -2.04 0zM37.0 41.9a1.02 1.02 0 1 0 2.04 0a1.02 1.02 0 1 0 -2.04 0zM62.1 41.0a1.02 1.02 0 1 0 2.04 0a1.02 1.02 0 1 0 -2.04 0zM66.1 39.9a1.02 1.02 0 1 0 2.04 0a1.02 1.02 0 1 0 -2.04 0zM47.7 44.4a1.02 1.02 0 1 0 2.04 0a1.02 1.02 0 1 0 -2.04 0zM40.8 40.1a1.02 1.02 0 1 0 2.04 0a1.02 1.02 0 1 0 -2.04 0zM42.6 45.7a1.02 1.02 0 1 0 2.04 0a1.02 1.02 0 1 0 -2.04 0zM53.8 51.8a1.02 1.02 0 1 0 2.04 0a1.02 1.02 0 1 0 -2.04 0zM63.3 49.4a1.02 1.02 0 1 0 2.04 0a1.02 1.02 0 1 0 -2.04 0zM67.8 49.4a1.02 1.02 0 1 0 2.04 0a1.02 1.02 0 1 0 -2.04 0zM58.0 54.2a1.02 1.02 0 1 0 2.04 0a1.02 1.02 0 1 0 -2.04 0zM62.1 55.8a1.02 1.02 0 1 0 2.04 0a1.02 1.02 0 1 0 -2.04 0zM33.1 69.4a1.02 1.02 0 1 0 2.04 0a1.02 1.02 0 1 0 -2.04 0zM40.4 70.1a1.02 1.02 0 1 0 2.04 0a1.02 1.02 0 1 0 -2.04 0zM36.5 76.5a1.02 1.02 0 1 0 2.04 0a1.02 1.02 0 1 0 -2.04 0zM31.6 64.4a1.02 1.02 0 1 0 2.04 0a1.02 1.02 0 1 0 -2.04 0zM17.9 67.3a1.02 1.02 0 1 0 2.04 0a1.02 1.02 0 1 0 -2.04 0zM22.5 68.6a1.02 1.02 0 1 0 2.04 0a1.02 1.02 0 1 0 -2.04 0zM53.9 61.8a1.02 1.02 0 1 0 2.04 0a1.02 1.02 0 1 0 -2.04 0zM59.6 72.3a1.02 1.02 0 1 0 2.04 0a1.02 1.02 0 1 0 -2.04 0zM72.0 74.5a1.02 1.02 0 1 0 2.04 0a1.02 1.02 0 1 0 -2.04 0zM63.5 76.8a1.02 1.02 0 1 0 2.04 0a1.02 1.02 0 1 0 -2.04 0z" fill="#c9a6d1"/><path d="M-0.9 2.3a0.88 0.88 0 1 0 1.76 0a0.88 0.88 0 1 0 -1.76 0zM5.9 16.7a0.88 0.88 0 1 0 1.76 0a0.88 0.88 0 1 0 -1.76 0zM18.3 19.6a0.88 0.88 0 1 0 1.76 0a0.88 0.88 0 1 0 -1.76 0zM23.0 15.6a0.88 0.88 0 1 0 1.76 0a0.88 0.88 0 1 0 -1.76 0zM20.9 18.8a0.88 0.88 0 1 0 1.76 0a0.88 0.88 0 1 0 -1.76 0zM23.2 20.5a0.88 0.88 0 1 0 1.76 0a0.88 0.88 0 1 0 -1.76 0zM21.5 22.4a0.88 0.88 0 1 0 1.76 0a0.88 0.88 0 1 0 -1.76 0zM30.0 9.4a0.88 0.88 0 1 0 1.76 0a0.88 0.88 0 1 0 -1.76 0zM31.0 12.7a0.88 0.88 0 1 0 1.76 0a0.88 0.88 0 1 0 -1.76 0zM33.6 12.6a0.88 0.88 0 1 0 1.76 0a0.88 0.88 0 1 0 -1.76 0zM35.5 11.8a0.88 0.88 0 1 0 1.76 0a0.88 0.88 0 1 0 -1.76 0zM26.0 14.5a0.88 0.88 0 1 0 1.76 0a0.88 0.88 0 1 0 -1.76 0zM37.6 14.0a0.88 0.88 0 1 0 1.76 0a0.88 0.88 0 1 0 -1.76 0zM40.5 17.6a0.88 0.88 0 1 0 1.76 0a0.88 0.88 0 1 0 -1.76 0zM43.0 20.0a0.88 0.88 0 1 0 1.76 0a0.88 0.88 0 1 0 -1.76 0zM24.1 28.1a0.88 0.88 0 1 0 1.76 0a0.88 0.88 0 1 0 -1.76 0zM41.7 23.4a0.88 0.88 0 1 0 1.76 0a0.88 0.88 0 1 0 -1.76 0zM45.0 32.1a0.88 0.88 0 1 0 1.76 0a0.88 0.88 0 1 0 -1.76 0zM41.8 29.6a0.88 0.88 0 1 0 1.76 0a0.88 0.88 0 1 0 -1.76 0zM43.7 30.1a0.88 0.88 0 1 0 1.76 0a0.88 0.88 0 1 0 -1.76 0zM28.2 31.0a0.88 0.88 0 1 0 1.76 0a0.88 0.88 0 1 0 -1.76 0zM28.0 34.0a0.88 0.88 0 1 0 1.76 0a0.88 0.88 0 1 0 -1.76 0zM38.8 34.2a0.88 0.88 0 1 0 1.76 0a0.88 0.88 0 1 0 -1.76 0zM10.0 33.9a0.88 0.88 0 1 0 1.76 0a0.88 0.88 0 1 0 -1.76 0zM18.7 35.8a0.88 0.88 0 1 0 1.76 0a0.88 0.88 0 1 0 -1.76 0zM12.9 40.3a0.88 0.88 0 1 0 1.76 0a0.88 0.88 0 1 0 -1.76 0zM16.9 39.4a0.88 0.88 0 1 0 1.76 0a0.88 0.88 0 1 0 -1.76 0zM26.9 41.6a0.88 0.88 0 1 0 1.76 0a0.88 0.88 0 1 0 -1.76 0zM26.9 44.9a0.88 0.88 0 1 0 1.76 0a0.88 0.88 0 1 0 -1.76 0zM22.8 47.2a0.88 0.88 0 1 0 1.76 0a0.88 0.88 0 1 0 -1.76 0zM8.0 49.0a0.88 0.88 0 1 0 1.76 0a0.88 0.88 0 1 0 -1.76 0zM12.7 49.3a0.88 0.88 0 1 0 1.76 0a0.88 0.88 0 1 0 -1.76 0zM15.8 51.0a0.88 0.88 0 1 0 1.76 0a0.88 0.88 0 1 0 -1.76 0zM17.7 51.5a0.88 0.88 0 1 0 1.76 0a0.88 0.88 0 1 0 -1.76 0zM22.7 50.9a0.88 0.88 0 1 0 1.76 0a0.88 0.88 0 1 0 -1.76 0zM14.2 53.7a0.88 0.88 0 1 0 1.76 0a0.88 0.88 0 1 0 -1.76 0zM18.1 54.2a0.88 0.88 0 1 0 1.76 0a0.88 0.88 0 1 0 -1.76 0zM8.0 55.0a0.88 0.88 0 1 0 1.76 0a0.88 0.88 0 1 0 -1.76 0zM15.8 55.6a0.88 0.88 0 1 0 1.76 0a0.88 0.88 0 1 0 -1.76 0zM25.9 56.9a0.88 0.88 0 1 0 1.76 0a0.88 0.88 0 1 0 -1.76 0zM34.8 56.9a0.88 0.88 0 1 0 1.76 0a0.88 0.88 0 1 0 -1.76 0zM35.3 60.0a0.88 0.88 0 1 0 1.76 0a0.88 0.88 0 1 0 -1.76 0zM18.3 60.6a0.88 0.88 0 1 0 1.76 0a0.88 0.88 0 1 0 -1.76 0zM21.5 61.1a0.88 0.88 0 1 0 1.76 0a0.88 0.88 0 1 0 -1.76 0zM31.2 61.2a0.88 0.88 0 1 0 1.76 0a0.88 0.88 0 1 0 -1.76 0zM37.8 61.4a0.88 0.88 0 1 0 1.76 0a0.88 0.88 0 1 0 -1.76 0zM14.0 63.0a0.88 0.88 0 1 0 1.76 0a0.88 0.88 0 1 0 -1.76 0zM37.2 43.8a0.88 0.88 0 1 0 1.76 0a0.88 0.88 0 1 0 -1.76 0zM39.2 45.8a0.88 0.88 0 1 0 1.76 0a0.88 0.88 0 1 0 -1.76 0zM47.8 37.4a0.88 0.88 0 1 0 1.76 0a0.88 0.88 0 1 0 -1.76 0zM49.9 41.0a0.88 0.88 0 1 0 1.76 0a0.88 0.88 0 1 0 -1.76 0zM54.1 41.0a0.88 0.88 0 1 0 1.76 0a0.88 0.88 0 1 0 -1.76 0zM40.0 49.3a0.88 0.88 0 1 0 1.76 0a0.88 0.88 0 1 0 -1.76 0zM43.3 48.4a0.88 0.88 0 1 0 1.76 0a0.88 0.88 0 1 0 -1.76 0zM41.9 52.0a0.88 0.88 0 1 0 1.76 0a0.88 0.88 0 1 0 -1.76 0zM48.2 51.8a0.88 0.88 0 1 0 1.76 0a0.88 0.88 0 1 0 -1.76 0zM58.6 49.9a0.88 0.88 0 1 0 1.76 0a0.88 0.88 0 1 0 -1.76 0zM45.3 53.8a0.88 0.88 0 1 0 1.76 0a0.88 0.88 0 1 0 -1.76 0zM51.3 55.0a0.88 0.88 0 1 0 1.76 0a0.88 0.88 0 1 0 -1.76 0zM46.4 57.0a0.88 0.88 0 1 0 1.76 0a0.88 0.88 0 1 0 -1.76 0zM41.4 58.6a0.88 0.88 0 1 0 1.76 0a0.88 0.88 0 1 0 -1.76 0zM44.1 62.1a0.88 0.88 0 1 0 1.76 0a0.88 0.88 0 1 0 -1.76 0zM40.4 65.0a0.88 0.88 0 1 0 1.76 0a0.88 0.88 0 1 0 -1.76 0zM37.3 67.3a0.88 0.88 0 1 0 1.76 0a0.88 0.88 0 1 0 -1.76 0zM36.8 72.2a0.88 0.88 0 1 0 1.76 0a0.88 0.88 0 1 0 -1.76 0zM20.9 63.9a0.88 0.88 0 1 0 1.76 0a0.88 0.88 0 1 0 -1.76 0zM24.9 64.4a0.88 0.88 0 1 0 1.76 0a0.88 0.88 0 1 0 -1.76 0zM10.3 66.0a0.88 0.88 0 1 0 1.76 0a0.88 0.88 0 1 0 -1.76 0zM6.9 68.8a0.88 0.88 0 1 0 1.76 0a0.88 0.88 0 1 0 -1.76 0zM26.7 68.6a0.88 0.88 0 1 0 1.76 0a0.88 0.88 0 1 0 -1.76 0zM51.1 60.8a0.88 0.88 0 1 0 1.76 0a0.88 0.88 0 1 0 -1.76 0zM50.9 63.2a0.88 0.88 0 1 0 1.76 0a0.88 0.88 0 1 0 -1.76 0zM53.9 63.5a0.88 0.88 0 1 0 1.76 0a0.88 0.88 0 1 0 -1.76 0zM51.1 65.0a0.88 0.88 0 1 0 1.76 0a0.88 0.88 0 1 0 -1.76 0zM53.4 65.8a0.88 0.88 0 1 0 1.76 0a0.88 0.88 0 1 0 -1.76 0zM55.8 65.7a0.88 0.88 0 1 0 1.76 0a0.88 0.88 0 1 0 -1.76 0zM50.7 67.2a0.88 0.88 0 1 0 1.76 0a0.88 0.88 0 1 0 -1.76 0zM53.6 67.8a0.88 0.88 0 1 0 1.76 0a0.88 0.88 0 1 0 -1.76 0zM62.5 65.0a0.88 0.88 0 1 0 1.76 0a0.88 0.88 0 1 0 -1.76 0zM65.4 67.2a0.88 0.88 0 1 0 1.76 0a0.88 0.88 0 1 0 -1.76 0zM60.5 68.3a0.88 0.88 0 1 0 1.76 0a0.88 0.88 0 1 0 -1.76 0zM63.0 69.4a0.88 0.88 0 1 0 1.76 0a0.88 0.88 0 1 0 -1.76 0zM64.4 72.3a0.88 0.88 0 1 0 1.76 0a0.88 0.88 0 1 0 -1.76 0zM69.1 71.8a0.88 0.88 0 1 0 1.76 0a0.88 0.88 0 1 0 -1.76 0zM68.2 75.2a0.88 0.88 0 1 0 1.76 0a0.88 0.88 0 1 0 -1.76 0zM31.9 15.0a0.88 0.88 0 1 0 1.76 0a0.88 0.88 0 1 0 -1.76 0zM35.5 14.3a0.88 0.88 0 1 0 1.76 0a0.88 0.88 0 1 0 -1.76 0zM27.6 16.9a0.88 0.88 0 1 0 1.76 0a0.88 0.88 0 1 0 -1.76 0zM30.4 16.5a0.88 0.88 0 1 0 1.76 0a0.88 0.88 0 1 0 -1.76 0zM33.3 17.3a0.88 0.88 0 1 0 1.76 0a0.88 0.88 0 1 0 -1.76 0zM35.3 16.3a0.88 0.88 0 1 0 1.76 0a0.88 0.88 0 1 0 -1.76 0zM24.9 18.8a0.88 0.88 0 1 0 1.76 0a0.88 0.88 0 1 0 -1.76 0zM26.9 19.0a0.88 0.88 0 1 0 1.76 0a0.88 0.88 0 1 0 -1.76 0zM29.2 18.3a0.88 0.88 0 1 0 1.76 0a0.88 0.88 0 1 0 -1.76 0zM31.7 18.8a0.88 0.88 0 1 0 1.76 0a0.88 0.88 0 1 0 -1.76 0zM35.1 18.0a0.88 0.88 0 1 0 1.76 0a0.88 0.88 0 1 0 -1.76 0zM37.5 18.6a0.88 0.88 0 1 0 1.76 0a0.88 0.88 0 1 0 -1.76 0zM39.9 19.7a0.88 0.88 0 1 0 1.76 0a0.88 0.88 0 1 0 -1.76 0zM25.4 21.5a0.88 0.88 0 1 0 1.76 0a0.88 0.88 0 1 0 -1.76 0zM27.6 20.8a0.88 0.88 0 1 0 1.76 0a0.88 0.88 0 1 0 -1.76 0zM29.5 20.6a0.88 0.88 0 1 0 1.76 0a0.88 0.88 0 1 0 -1.76 0zM33.5 20.8a0.88 0.88 0 1 0 1.76 0a0.88 0.88 0 1 0 -1.76 0zM35.8 20.5a0.88 0.88 0 1 0 1.76 0a0.88 0.88 0 1 0 -1.76 0zM37.7 21.0a0.88 0.88 0 1 0 1.76 0a0.88 0.88 0 1 0 -1.76 0zM39.4 21.6a0.88 0.88 0 1 0 1.76 0a0.88 0.88 0 1 0 -1.76 0zM28.0 22.3a0.88 0.88 0 1 0 1.76 0a0.88 0.88 0 1 0 -1.76 0zM31.4 22.2a0.88 0.88 0 1 0 1.76 0a0.88 0.88 0 1 0 -1.76 0zM35.3 22.4a0.88 0.88 0 1 0 1.76 0a0.88 0.88 0 1 0 -1.76 0zM37.7 22.7a0.88 0.88 0 1 0 1.76 0a0.88 0.88 0 1 0 -1.76 0zM24.1 23.9a0.88 0.88 0 1 0 1.76 0a0.88 0.88 0 1 0 -1.76 0zM25.9 23.7a0.88 0.88 0 1 0 1.76 0a0.88 0.88 0 1 0 -1.76 0zM29.2 23.5a0.88 0.88 0 1 0 1.76 0a0.88 0.88 0 1 0 -1.76 0zM33.3 23.5a0.88 0.88 0 1 0 1.76 0a0.88 0.88 0 1 0 -1.76 0zM37.1 24.6a0.88 0.88 0 1 0 1.76 0a0.88 0.88 0 1 0 -1.76 0zM39.6 24.3a0.88 0.88 0 1 0 1.76 0a0.88 0.88 0 1 0 -1.76 0zM23.1 26.0a0.88 0.88 0 1 0 1.76 0a0.88 0.88 0 1 0 -1.76 0zM25.8 25.8a0.88 0.88 0 1 0 1.76 0a0.88 0.88 0 1 0 -1.76 0zM27.9 24.8a0.88 0.88 0 1 0 1.76 0a0.88 0.88 0 1 0 -1.76 0zM31.4 26.0a0.88 0.88 0 1 0 1.76 0a0.88 0.88 0 1 0 -1.76 0zM33.8 25.6a0.88 0.88 0 1 0 1.76 0a0.88 0.88 0 1 0 -1.76 0zM35.3 26.5a0.88 0.88 0 1 0 1.76 0a0.88 0.88 0 1 0 -1.76 0zM26.3 27.8a0.88 0.88 0 1 0 1.76 0a0.88 0.88 0 1 0 -1.76 0zM29.2 26.7a0.88 0.88 0 1 0 1.76 0a0.88 0.88 0 1 0 -1.76 0zM30.4 28.4a0.88 0.88 0 1 0 1.76 0a0.88 0.88 0 1 0 -1.76 0zM33.3 27.7a0.88 0.88 0 1 0 1.76 0a0.88 0.88 0 1 0 -1.76 0zM35.8 28.2a0.88 0.88 0 1 0 1.76 0a0.88 0.88 0 1 0 -1.76 0zM37.8 28.2a0.88 0.88 0 1 0 1.76 0a0.88 0.88 0 1 0 -1.76 0zM39.0 26.0a0.88 0.88 0 1 0 1.76 0a0.88 0.88 0 1 0 -1.76 0zM30.9 31.1a0.88 0.88 0 1 0 1.76 0a0.88 0.88 0 1 0 -1.76 0zM33.3 29.5a0.88 0.88 0 1 0 1.76 0a0.88 0.88 0 1 0 -1.76 0zM35.0 31.0a0.88 0.88 0 1 0 1.76 0a0.88 0.88 0 1 0 -1.76 0zM33.3 31.8a0.88 0.88 0 1 0 1.76 0a0.88 0.88 0 1 0 -1.76 0zM35.4 32.6a0.88 0.88 0 1 0 1.76 0a0.88 0.88 0 1 0 -1.76 0zM37.8 31.8a0.88 0.88 0 1 0 1.76 0a0.88 0.88 0 1 0 -1.76 0zM32.7 33.0a0.88 0.88 0 1 0 1.76 0a0.88 0.88 0 1 0 -1.76 0zM31.7 34.7a0.88 0.88 0 1 0 1.76 0a0.88 0.88 0 1 0 -1.76 0zM34.0 34.7a0.88 0.88 0 1 0 1.76 0a0.88 0.88 0 1 0 -1.76 0zM36.4 35.3a0.88 0.88 0 1 0 1.76 0a0.88 0.88 0 1 0 -1.76 0zM40.9 33.8a0.88 0.88 0 1 0 1.76 0a0.88 0.88 0 1 0 -1.76 0zM26.9 36.8a0.88 0.88 0 1 0 1.76 0a0.88 0.88 0 1 0 -1.76 0zM31.2 36.6a0.88 0.88 0 1 0 1.76 0a0.88 0.88 0 1 0 -1.76 0zM33.6 36.6a0.88 0.88 0 1 0 1.76 0a0.88 0.88 0 1 0 -1.76 0zM36.0 37.5a0.88 0.88 0 1 0 1.76 0a0.88 0.88 0 1 0 -1.76 0zM37.9 37.8a0.88 0.88 0 1 0 1.76 0a0.88 0.88 0 1 0 -1.76 0zM34.0 38.5a0.88 0.88 0 1 0 1.76 0a0.88 0.88 0 1 0 -1.76 0zM30.5 40.2a0.88 0.88 0 1 0 1.76 0a0.88 0.88 0 1 0 -1.76 0zM32.5 40.4a0.88 0.88 0 1 0 1.76 0a0.88 0.88 0 1 0 -1.76 0zM34.5 40.4a0.88 0.88 0 1 0 1.76 0a0.88 0.88 0 1 0 -1.76 0zM39.4 43.5a0.88 0.88 0 1 0 1.76 0a0.88 0.88 0 1 0 -1.76 0zM41.6 32.0a0.88 0.88 0 1 0 1.76 0a0.88 0.88 0 1 0 -1.76 0zM30.8 33.1a0.88 0.88 0 1 0 1.76 0a0.88 0.88 0 1 0 -1.76 0zM29.1 36.2a0.88 0.88 0 1 0 1.76 0a0.88 0.88 0 1 0 -1.76 0zM25.9 16.5a0.88 0.88 0 1 0 1.76 0a0.88 0.88 0 1 0 -1.76 0zM38.2 29.9a0.88 0.88 0 1 0 1.76 0a0.88 0.88 0 1 0 -1.76 0zM31.2 24.1a0.88 0.88 0 1 0 1.76 0a0.88 0.88 0 1 0 -1.76 0zM37.0 33.5a0.88 0.88 0 1 0 1.76 0a0.88 0.88 0 1 0 -1.76 0zM28.1 28.2a0.88 0.88 0 1 0 1.76 0a0.88 0.88 0 1 0 -1.76 0zM33.7 15.4a0.88 0.88 0 1 0 1.76 0a0.88 0.88 0 1 0 -1.76 0z" fill="#561b6a"/></g>
<g id="enp"><path d="M2.4 0.0a1.02 1.02 0 1 0 2.04 0a1.02 1.02 0 1 0 -2.04 0zM2.9 4.1a1.02 1.02 0 1 0 2.04 0a1.02 1.02 0 1 0 -2.04 0zM5.8 9.7a1.02 1.02 0 1 0 2.04 0a1.02 1.02 0 1 0 -2.04 0zM7.9 13.2a1.02 1.02 0 1 0 2.04 0a1.02 1.02 0 1 0 -2.04 0zM12.0 13.2a1.02 1.02 0 1 0 2.04 0a1.02 1.02 0 1 0 -2.04 0zM20.4 16.9a1.02 1.02 0 1 0 2.04 0a1.02 1.02 0 1 0 -2.04 0zM17.6 22.6a1.02 1.02 0 1 0 2.04 0a1.02 1.02 0 1 0 -2.04 0zM21.5 24.3a1.02 1.02 0 1 0 2.04 0a1.02 1.02 0 1 0 -2.04 0zM18.7 25.6a1.02 1.02 0 1 0 2.04 0a1.02 1.02 0 1 0 -2.04 0zM35.2 8.3a1.02 1.02 0 1 0 2.04 0a1.02 1.02 0 1 0 -2.04 0zM28.3 14.8a1.02 1.02 0 1 0 2.04 0a1.02 1.02 0 1 0 -2.04 0zM41.3 14.3a1.02 1.02 0 1 0 2.04 0a1.02 1.02 0 1 0 -2.04 0zM37.6 16.0a1.02 1.02 0 1 0 2.04 0a1.02 1.02 0 1 0 -2.04 0zM43.8 24.2a1.02 1.02 0 1 0 2.04 0a1.02 1.02 0 1 0 -2.04 0zM45.9 24.8a1.02 1.02 0 1 0 2.04 0a1.02 1.02 0 1 0 -2.04 0zM49.3 22.9a1.02 1.02 0 1 0 2.04 0a1.02 1.02 0 1 0 -2.04 0zM45.5 26.7a1.02 1.02 0 1 0 2.04 0a1.02 1.02 0 1 0 -2.04 0zM42.8 27.3a1.02 1.02 0 1 0 2.04 0a1.02 1.02 0 1 0 -2.04 0zM40.2 28.3a1.02 1.02 0 1 0 2.04 0a1.02 1.02 0 1 0 -2.04 0zM40.2 30.2a1.02 1.02 0 1 0 2.04 0a1.02 1.02 0 1 0 -2.04 0zM46.1 30.0a1.02 1.02 0 1 0 2.04 0a1.02 1.02 0 1 0 -2.04 0zM39.5 32.0a1.02 1.02 0 1 0 2.04 0a1.02 1.02 0 1 0 -2.04 0zM43.1 32.2a1.02 1.02 0 1 0 2.04 0a1.02 1.02 0 1 0 -2.04 0zM17.0 32.3a1.02 1.02 0 1 0 2.04 0a1.02 1.02 0 1 0 -2.04 0zM12.9 31.4a1.02 1.02 0 1 0 2.04 0a1.02 1.02 0 1 0 -2.04 0zM13.9 35.8a1.02 1.02 0 1 0 2.04 0a1.02 1.02 0 1 0 -2.04 0zM9.7 37.8a1.02 1.02 0 1 0 2.04 0a1.02 1.02 0 1 0 -2.04 0zM23.1 43.8a1.02 1.02 0 1 0 2.04 0a1.02 1.02 0 1 0 -2.04 0zM16.3 47.4a1.02 1.02 0 1 0 2.04 0a1.02 1.02 0 1 0 -2.04 0zM29.0 48.4a1.02 1.02 0 1 0 2.04 0a1.02 1.02 0 1 0 -2.04 0zM33.1 48.4a1.02 1.02 0 1 0 2.04 0a1.02 1.02 0 1 0 -2.04 0zM12.0 52.7a1.02 1.02 0 1 0 2.04 0a1.02 1.02 0 1 0 -2.04 0zM21.2 54.1a1.02 1.02 0 1 0 2.04 0a1.02 1.02 0 1 0 -2.04 0zM26.9 51.9a1.02 1.02 0 1 0 2.04 0a1.02 1.02 0 1 0 -2.04 0zM37.0 50.9a1.02 1.02 0 1 0 2.04 0a1.02 1.02 0 1 0 -2.04 0zM30.6 55.3a1.02 1.02 0 1 0 2.04 0a1.02 1.02 0 1 0 -2.04 0zM37.6 55.6a1.02 1.02 0 1 0 2.04 0a1.02 1.02 0 1 0 -2.04 0zM28.6 57.6a1.02 1.02 0 1 0 2.04 0a1.02 1.02 0 1 0 -2.04 0zM31.7 58.4a1.02 1.02 0 1 0 2.04 0a1.02 1.02 0 1 0 -2.04 0zM23.7 59.6a1.02 1.02 0 1 0 2.04 0a1.02 1.02 0 1 0 -2.04 0zM28.1 60.0a1.02 1.02 0 1 0 2.04 0a1.02 1.02 0 1 0 -2.04 0zM27.5 62.9a1.02 1.02 0 1 0 2.04 0a1.02 1.02 0 1 0 -2.04 0zM30.3 38.4a1.02 1.02 0 1 0 2.04 0a1.02 1.02 0 1 0 -2.04 0zM37.5 39.8a1.02 1.02 0 1 0 2.04 0a1.02 1.02 0 1 0 -2.04 0zM37.0 41.9a1.02 1.02 0 1 0 2.04 0a1.02 1.02 0 1 0 -2.04 0zM62.1 41.0a1.02 1.02 0 1 0 2.04 0a1.02 1.02 0 1 0 -2.04 0zM66.1 39.9a1.02 1.02 0 1 0 2.04 0a1.02 1.02 0 1 0 -2.04 0zM47.7 44.4a1.02 1.02 0 1 0 2.04 0a1.02 1.02 0 1 0 -2.04 0zM40.8 40.1a1.02 1.02 0 1 0 2.04 0a1.02 1.02 0 1 0 -2.04 0zM42.6 45.7a1.02 1.02 0 1 0 2.04 0a1.02 1.02 0 1 0 -2.04 0zM53.8 51.8a1.02 1.02 0 1 0 2.04 0a1.02 1.02 0 1 0 -2.04 0zM63.3 49.4a1.02 1.02 0 1 0 2.04 0a1.02 1.02 0 1 0 -2.04 0zM67.8 49.4a1.02 1.02 0 1 0 2.04 0a1.02 1.02 0 1 0 -2.04 0zM58.0 54.2a1.02 1.02 0 1 0 2.04 0a1.02 1.02 0 1 0 -2.04 0zM62.1 55.8a1.02 1.02 0 1 0 2.04 0a1.02 1.02 0 1 0 -2.04 0zM33.1 69.4a1.02 1.02 0 1 0 2.04 0a1.02 1.02 0 1 0 -2.04 0zM40.4 70.1a1.02 1.02 0 1 0 2.04 0a1.02 1.02 0 1 0 -2.04 0zM36.5 76.5a1.02 1.02 0 1 0 2.04 0a1.02 1.02 0 1 0 -2.04 0zM31.6 64.4a1.02 1.02 0 1 0 2.04 0a1.02 1.02 0 1 0 -2.04 0zM17.9 67.3a1.02 1.02 0 1 0 2.04 0a1.02 1.02 0 1 0 -2.04 0zM22.5 68.6a1.02 1.02 0 1 0 2.04 0a1.02 1.02 0 1 0 -2.04 0zM53.9 61.8a1.02 1.02 0 1 0 2.04 0a1.02 1.02 0 1 0 -2.04 0zM59.6 72.3a1.02 1.02 0 1 0 2.04 0a1.02 1.02 0 1 0 -2.04 0zM72.0 74.5a1.02 1.02 0 1 0 2.04 0a1.02 1.02 0 1 0 -2.04 0zM63.5 76.8a1.02 1.02 0 1 0 2.04 0a1.02 1.02 0 1 0 -2.04 0z" fill="#e4b8d8"/><path d="M-0.9 2.3a0.88 0.88 0 1 0 1.76 0a0.88 0.88 0 1 0 -1.76 0zM5.9 16.7a0.88 0.88 0 1 0 1.76 0a0.88 0.88 0 1 0 -1.76 0zM18.3 19.6a0.88 0.88 0 1 0 1.76 0a0.88 0.88 0 1 0 -1.76 0zM23.0 15.6a0.88 0.88 0 1 0 1.76 0a0.88 0.88 0 1 0 -1.76 0zM20.9 18.8a0.88 0.88 0 1 0 1.76 0a0.88 0.88 0 1 0 -1.76 0zM23.2 20.5a0.88 0.88 0 1 0 1.76 0a0.88 0.88 0 1 0 -1.76 0zM21.5 22.4a0.88 0.88 0 1 0 1.76 0a0.88 0.88 0 1 0 -1.76 0zM30.0 9.4a0.88 0.88 0 1 0 1.76 0a0.88 0.88 0 1 0 -1.76 0zM31.0 12.7a0.88 0.88 0 1 0 1.76 0a0.88 0.88 0 1 0 -1.76 0zM33.6 12.6a0.88 0.88 0 1 0 1.76 0a0.88 0.88 0 1 0 -1.76 0zM35.5 11.8a0.88 0.88 0 1 0 1.76 0a0.88 0.88 0 1 0 -1.76 0zM26.0 14.5a0.88 0.88 0 1 0 1.76 0a0.88 0.88 0 1 0 -1.76 0zM37.6 14.0a0.88 0.88 0 1 0 1.76 0a0.88 0.88 0 1 0 -1.76 0zM40.5 17.6a0.88 0.88 0 1 0 1.76 0a0.88 0.88 0 1 0 -1.76 0zM43.0 20.0a0.88 0.88 0 1 0 1.76 0a0.88 0.88 0 1 0 -1.76 0zM24.1 28.1a0.88 0.88 0 1 0 1.76 0a0.88 0.88 0 1 0 -1.76 0zM41.7 23.4a0.88 0.88 0 1 0 1.76 0a0.88 0.88 0 1 0 -1.76 0zM45.0 32.1a0.88 0.88 0 1 0 1.76 0a0.88 0.88 0 1 0 -1.76 0zM41.8 29.6a0.88 0.88 0 1 0 1.76 0a0.88 0.88 0 1 0 -1.76 0zM43.7 30.1a0.88 0.88 0 1 0 1.76 0a0.88 0.88 0 1 0 -1.76 0zM28.2 31.0a0.88 0.88 0 1 0 1.76 0a0.88 0.88 0 1 0 -1.76 0zM28.0 34.0a0.88 0.88 0 1 0 1.76 0a0.88 0.88 0 1 0 -1.76 0zM38.8 34.2a0.88 0.88 0 1 0 1.76 0a0.88 0.88 0 1 0 -1.76 0zM10.0 33.9a0.88 0.88 0 1 0 1.76 0a0.88 0.88 0 1 0 -1.76 0zM18.7 35.8a0.88 0.88 0 1 0 1.76 0a0.88 0.88 0 1 0 -1.76 0zM12.9 40.3a0.88 0.88 0 1 0 1.76 0a0.88 0.88 0 1 0 -1.76 0zM16.9 39.4a0.88 0.88 0 1 0 1.76 0a0.88 0.88 0 1 0 -1.76 0zM26.9 41.6a0.88 0.88 0 1 0 1.76 0a0.88 0.88 0 1 0 -1.76 0zM26.9 44.9a0.88 0.88 0 1 0 1.76 0a0.88 0.88 0 1 0 -1.76 0zM22.8 47.2a0.88 0.88 0 1 0 1.76 0a0.88 0.88 0 1 0 -1.76 0zM8.0 49.0a0.88 0.88 0 1 0 1.76 0a0.88 0.88 0 1 0 -1.76 0zM12.7 49.3a0.88 0.88 0 1 0 1.76 0a0.88 0.88 0 1 0 -1.76 0zM15.8 51.0a0.88 0.88 0 1 0 1.76 0a0.88 0.88 0 1 0 -1.76 0zM17.7 51.5a0.88 0.88 0 1 0 1.76 0a0.88 0.88 0 1 0 -1.76 0zM22.7 50.9a0.88 0.88 0 1 0 1.76 0a0.88 0.88 0 1 0 -1.76 0zM14.2 53.7a0.88 0.88 0 1 0 1.76 0a0.88 0.88 0 1 0 -1.76 0zM18.1 54.2a0.88 0.88 0 1 0 1.76 0a0.88 0.88 0 1 0 -1.76 0zM8.0 55.0a0.88 0.88 0 1 0 1.76 0a0.88 0.88 0 1 0 -1.76 0zM15.8 55.6a0.88 0.88 0 1 0 1.76 0a0.88 0.88 0 1 0 -1.76 0zM25.9 56.9a0.88 0.88 0 1 0 1.76 0a0.88 0.88 0 1 0 -1.76 0zM34.8 56.9a0.88 0.88 0 1 0 1.76 0a0.88 0.88 0 1 0 -1.76 0zM35.3 60.0a0.88 0.88 0 1 0 1.76 0a0.88 0.88 0 1 0 -1.76 0zM18.3 60.6a0.88 0.88 0 1 0 1.76 0a0.88 0.88 0 1 0 -1.76 0zM21.5 61.1a0.88 0.88 0 1 0 1.76 0a0.88 0.88 0 1 0 -1.76 0zM31.2 61.2a0.88 0.88 0 1 0 1.76 0a0.88 0.88 0 1 0 -1.76 0zM37.8 61.4a0.88 0.88 0 1 0 1.76 0a0.88 0.88 0 1 0 -1.76 0zM14.0 63.0a0.88 0.88 0 1 0 1.76 0a0.88 0.88 0 1 0 -1.76 0zM37.2 43.8a0.88 0.88 0 1 0 1.76 0a0.88 0.88 0 1 0 -1.76 0zM39.2 45.8a0.88 0.88 0 1 0 1.76 0a0.88 0.88 0 1 0 -1.76 0zM47.8 37.4a0.88 0.88 0 1 0 1.76 0a0.88 0.88 0 1 0 -1.76 0zM49.9 41.0a0.88 0.88 0 1 0 1.76 0a0.88 0.88 0 1 0 -1.76 0zM54.1 41.0a0.88 0.88 0 1 0 1.76 0a0.88 0.88 0 1 0 -1.76 0zM40.0 49.3a0.88 0.88 0 1 0 1.76 0a0.88 0.88 0 1 0 -1.76 0zM43.3 48.4a0.88 0.88 0 1 0 1.76 0a0.88 0.88 0 1 0 -1.76 0zM41.9 52.0a0.88 0.88 0 1 0 1.76 0a0.88 0.88 0 1 0 -1.76 0zM48.2 51.8a0.88 0.88 0 1 0 1.76 0a0.88 0.88 0 1 0 -1.76 0zM58.6 49.9a0.88 0.88 0 1 0 1.76 0a0.88 0.88 0 1 0 -1.76 0zM45.3 53.8a0.88 0.88 0 1 0 1.76 0a0.88 0.88 0 1 0 -1.76 0zM51.3 55.0a0.88 0.88 0 1 0 1.76 0a0.88 0.88 0 1 0 -1.76 0zM46.4 57.0a0.88 0.88 0 1 0 1.76 0a0.88 0.88 0 1 0 -1.76 0zM41.4 58.6a0.88 0.88 0 1 0 1.76 0a0.88 0.88 0 1 0 -1.76 0zM44.1 62.1a0.88 0.88 0 1 0 1.76 0a0.88 0.88 0 1 0 -1.76 0zM40.4 65.0a0.88 0.88 0 1 0 1.76 0a0.88 0.88 0 1 0 -1.76 0zM37.3 67.3a0.88 0.88 0 1 0 1.76 0a0.88 0.88 0 1 0 -1.76 0zM36.8 72.2a0.88 0.88 0 1 0 1.76 0a0.88 0.88 0 1 0 -1.76 0zM20.9 63.9a0.88 0.88 0 1 0 1.76 0a0.88 0.88 0 1 0 -1.76 0zM24.9 64.4a0.88 0.88 0 1 0 1.76 0a0.88 0.88 0 1 0 -1.76 0zM10.3 66.0a0.88 0.88 0 1 0 1.76 0a0.88 0.88 0 1 0 -1.76 0zM6.9 68.8a0.88 0.88 0 1 0 1.76 0a0.88 0.88 0 1 0 -1.76 0zM26.7 68.6a0.88 0.88 0 1 0 1.76 0a0.88 0.88 0 1 0 -1.76 0zM51.1 60.8a0.88 0.88 0 1 0 1.76 0a0.88 0.88 0 1 0 -1.76 0zM50.9 63.2a0.88 0.88 0 1 0 1.76 0a0.88 0.88 0 1 0 -1.76 0zM53.9 63.5a0.88 0.88 0 1 0 1.76 0a0.88 0.88 0 1 0 -1.76 0zM51.1 65.0a0.88 0.88 0 1 0 1.76 0a0.88 0.88 0 1 0 -1.76 0zM53.4 65.8a0.88 0.88 0 1 0 1.76 0a0.88 0.88 0 1 0 -1.76 0zM55.8 65.7a0.88 0.88 0 1 0 1.76 0a0.88 0.88 0 1 0 -1.76 0zM50.7 67.2a0.88 0.88 0 1 0 1.76 0a0.88 0.88 0 1 0 -1.76 0zM53.6 67.8a0.88 0.88 0 1 0 1.76 0a0.88 0.88 0 1 0 -1.76 0zM62.5 65.0a0.88 0.88 0 1 0 1.76 0a0.88 0.88 0 1 0 -1.76 0zM65.4 67.2a0.88 0.88 0 1 0 1.76 0a0.88 0.88 0 1 0 -1.76 0zM60.5 68.3a0.88 0.88 0 1 0 1.76 0a0.88 0.88 0 1 0 -1.76 0zM63.0 69.4a0.88 0.88 0 1 0 1.76 0a0.88 0.88 0 1 0 -1.76 0zM64.4 72.3a0.88 0.88 0 1 0 1.76 0a0.88 0.88 0 1 0 -1.76 0zM69.1 71.8a0.88 0.88 0 1 0 1.76 0a0.88 0.88 0 1 0 -1.76 0zM68.2 75.2a0.88 0.88 0 1 0 1.76 0a0.88 0.88 0 1 0 -1.76 0zM31.9 15.0a0.88 0.88 0 1 0 1.76 0a0.88 0.88 0 1 0 -1.76 0zM35.5 14.3a0.88 0.88 0 1 0 1.76 0a0.88 0.88 0 1 0 -1.76 0zM27.6 16.9a0.88 0.88 0 1 0 1.76 0a0.88 0.88 0 1 0 -1.76 0zM30.4 16.5a0.88 0.88 0 1 0 1.76 0a0.88 0.88 0 1 0 -1.76 0zM33.3 17.3a0.88 0.88 0 1 0 1.76 0a0.88 0.88 0 1 0 -1.76 0zM35.3 16.3a0.88 0.88 0 1 0 1.76 0a0.88 0.88 0 1 0 -1.76 0zM24.9 18.8a0.88 0.88 0 1 0 1.76 0a0.88 0.88 0 1 0 -1.76 0zM26.9 19.0a0.88 0.88 0 1 0 1.76 0a0.88 0.88 0 1 0 -1.76 0zM29.2 18.3a0.88 0.88 0 1 0 1.76 0a0.88 0.88 0 1 0 -1.76 0zM31.7 18.8a0.88 0.88 0 1 0 1.76 0a0.88 0.88 0 1 0 -1.76 0zM35.1 18.0a0.88 0.88 0 1 0 1.76 0a0.88 0.88 0 1 0 -1.76 0zM37.5 18.6a0.88 0.88 0 1 0 1.76 0a0.88 0.88 0 1 0 -1.76 0zM39.9 19.7a0.88 0.88 0 1 0 1.76 0a0.88 0.88 0 1 0 -1.76 0zM25.4 21.5a0.88 0.88 0 1 0 1.76 0a0.88 0.88 0 1 0 -1.76 0zM27.6 20.8a0.88 0.88 0 1 0 1.76 0a0.88 0.88 0 1 0 -1.76 0zM29.5 20.6a0.88 0.88 0 1 0 1.76 0a0.88 0.88 0 1 0 -1.76 0zM33.5 20.8a0.88 0.88 0 1 0 1.76 0a0.88 0.88 0 1 0 -1.76 0zM35.8 20.5a0.88 0.88 0 1 0 1.76 0a0.88 0.88 0 1 0 -1.76 0zM37.7 21.0a0.88 0.88 0 1 0 1.76 0a0.88 0.88 0 1 0 -1.76 0zM39.4 21.6a0.88 0.88 0 1 0 1.76 0a0.88 0.88 0 1 0 -1.76 0zM28.0 22.3a0.88 0.88 0 1 0 1.76 0a0.88 0.88 0 1 0 -1.76 0zM31.4 22.2a0.88 0.88 0 1 0 1.76 0a0.88 0.88 0 1 0 -1.76 0zM35.3 22.4a0.88 0.88 0 1 0 1.76 0a0.88 0.88 0 1 0 -1.76 0zM37.7 22.7a0.88 0.88 0 1 0 1.76 0a0.88 0.88 0 1 0 -1.76 0zM24.1 23.9a0.88 0.88 0 1 0 1.76 0a0.88 0.88 0 1 0 -1.76 0zM25.9 23.7a0.88 0.88 0 1 0 1.76 0a0.88 0.88 0 1 0 -1.76 0zM29.2 23.5a0.88 0.88 0 1 0 1.76 0a0.88 0.88 0 1 0 -1.76 0zM33.3 23.5a0.88 0.88 0 1 0 1.76 0a0.88 0.88 0 1 0 -1.76 0zM37.1 24.6a0.88 0.88 0 1 0 1.76 0a0.88 0.88 0 1 0 -1.76 0zM39.6 24.3a0.88 0.88 0 1 0 1.76 0a0.88 0.88 0 1 0 -1.76 0zM23.1 26.0a0.88 0.88 0 1 0 1.76 0a0.88 0.88 0 1 0 -1.76 0zM25.8 25.8a0.88 0.88 0 1 0 1.76 0a0.88 0.88 0 1 0 -1.76 0zM27.9 24.8a0.88 0.88 0 1 0 1.76 0a0.88 0.88 0 1 0 -1.76 0zM31.4 26.0a0.88 0.88 0 1 0 1.76 0a0.88 0.88 0 1 0 -1.76 0zM33.8 25.6a0.88 0.88 0 1 0 1.76 0a0.88 0.88 0 1 0 -1.76 0zM35.3 26.5a0.88 0.88 0 1 0 1.76 0a0.88 0.88 0 1 0 -1.76 0zM26.3 27.8a0.88 0.88 0 1 0 1.76 0a0.88 0.88 0 1 0 -1.76 0zM29.2 26.7a0.88 0.88 0 1 0 1.76 0a0.88 0.88 0 1 0 -1.76 0zM30.4 28.4a0.88 0.88 0 1 0 1.76 0a0.88 0.88 0 1 0 -1.76 0zM33.3 27.7a0.88 0.88 0 1 0 1.76 0a0.88 0.88 0 1 0 -1.76 0zM35.8 28.2a0.88 0.88 0 1 0 1.76 0a0.88 0.88 0 1 0 -1.76 0zM37.8 28.2a0.88 0.88 0 1 0 1.76 0a0.88 0.88 0 1 0 -1.76 0zM39.0 26.0a0.88 0.88 0 1 0 1.76 0a0.88 0.88 0 1 0 -1.76 0zM30.9 31.1a0.88 0.88 0 1 0 1.76 0a0.88 0.88 0 1 0 -1.76 0zM33.3 29.5a0.88 0.88 0 1 0 1.76 0a0.88 0.88 0 1 0 -1.76 0zM35.0 31.0a0.88 0.88 0 1 0 1.76 0a0.88 0.88 0 1 0 -1.76 0zM33.3 31.8a0.88 0.88 0 1 0 1.76 0a0.88 0.88 0 1 0 -1.76 0zM35.4 32.6a0.88 0.88 0 1 0 1.76 0a0.88 0.88 0 1 0 -1.76 0zM37.8 31.8a0.88 0.88 0 1 0 1.76 0a0.88 0.88 0 1 0 -1.76 0zM32.7 33.0a0.88 0.88 0 1 0 1.76 0a0.88 0.88 0 1 0 -1.76 0zM31.7 34.7a0.88 0.88 0 1 0 1.76 0a0.88 0.88 0 1 0 -1.76 0zM34.0 34.7a0.88 0.88 0 1 0 1.76 0a0.88 0.88 0 1 0 -1.76 0zM36.4 35.3a0.88 0.88 0 1 0 1.76 0a0.88 0.88 0 1 0 -1.76 0zM40.9 33.8a0.88 0.88 0 1 0 1.76 0a0.88 0.88 0 1 0 -1.76 0zM26.9 36.8a0.88 0.88 0 1 0 1.76 0a0.88 0.88 0 1 0 -1.76 0zM31.2 36.6a0.88 0.88 0 1 0 1.76 0a0.88 0.88 0 1 0 -1.76 0zM33.6 36.6a0.88 0.88 0 1 0 1.76 0a0.88 0.88 0 1 0 -1.76 0zM36.0 37.5a0.88 0.88 0 1 0 1.76 0a0.88 0.88 0 1 0 -1.76 0zM37.9 37.8a0.88 0.88 0 1 0 1.76 0a0.88 0.88 0 1 0 -1.76 0zM34.0 38.5a0.88 0.88 0 1 0 1.76 0a0.88 0.88 0 1 0 -1.76 0zM30.5 40.2a0.88 0.88 0 1 0 1.76 0a0.88 0.88 0 1 0 -1.76 0zM32.5 40.4a0.88 0.88 0 1 0 1.76 0a0.88 0.88 0 1 0 -1.76 0zM34.5 40.4a0.88 0.88 0 1 0 1.76 0a0.88 0.88 0 1 0 -1.76 0zM39.4 43.5a0.88 0.88 0 1 0 1.76 0a0.88 0.88 0 1 0 -1.76 0zM41.6 32.0a0.88 0.88 0 1 0 1.76 0a0.88 0.88 0 1 0 -1.76 0zM30.8 33.1a0.88 0.88 0 1 0 1.76 0a0.88 0.88 0 1 0 -1.76 0zM29.1 36.2a0.88 0.88 0 1 0 1.76 0a0.88 0.88 0 1 0 -1.76 0zM25.9 16.5a0.88 0.88 0 1 0 1.76 0a0.88 0.88 0 1 0 -1.76 0zM38.2 29.9a0.88 0.88 0 1 0 1.76 0a0.88 0.88 0 1 0 -1.76 0zM31.2 24.1a0.88 0.88 0 1 0 1.76 0a0.88 0.88 0 1 0 -1.76 0zM37.0 33.5a0.88 0.88 0 1 0 1.76 0a0.88 0.88 0 1 0 -1.76 0zM28.1 28.2a0.88 0.88 0 1 0 1.76 0a0.88 0.88 0 1 0 -1.76 0zM33.7 15.4a0.88 0.88 0 1 0 1.76 0a0.88 0.88 0 1 0 -1.76 0z" fill="#6a2a7c"/></g>
<clipPath id="cp189330"><path d="M225.75 359.20a1.95 1.95 0 1 0 3.9 0a1.95 1.95 0 1 0 -3.9 0zM228.05 358.50a1.95 1.95 0 1 0 3.9 0a1.95 1.95 0 1 0 -3.9 0zM230.35 358.80a1.95 1.95 0 1 0 3.9 0a1.95 1.95 0 1 0 -3.9 0zM232.65 359.20a1.95 1.95 0 1 0 3.9 0a1.95 1.95 0 1 0 -3.9 0zM234.55 360.40a1.95 1.95 0 1 0 3.9 0a1.95 1.95 0 1 0 -3.9 0zM226.55 362.30a1.95 1.95 0 1 0 3.9 0a1.95 1.95 0 1 0 -3.9 0zM228.85 363.10a1.95 1.95 0 1 0 3.9 0a1.95 1.95 0 1 0 -3.9 0zM231.15 362.30a1.95 1.95 0 1 0 3.9 0a1.95 1.95 0 1 0 -3.9 0zM233.45 361.50a1.95 1.95 0 1 0 3.9 0a1.95 1.95 0 1 0 -3.9 0zM234.95 362.70a1.95 1.95 0 1 0 3.9 0a1.95 1.95 0 1 0 -3.9 0zM229.55 366.20a1.95 1.95 0 1 0 3.9 0a1.95 1.95 0 1 0 -3.9 0zM231.85 364.60a1.95 1.95 0 1 0 3.9 0a1.95 1.95 0 1 0 -3.9 0zM223.05 360.40a1.95 1.95 0 1 0 3.9 0a1.95 1.95 0 1 0 -3.9 0z"/></clipPath>
<clipPath id="cp353222"><path d="M375.71 238.55a1.95 1.95 0 1 0 3.9 0a1.95 1.95 0 1 0 -3.9 0zM375.90 243.42a1.95 1.95 0 1 0 3.9 0a1.95 1.95 0 1 0 -3.9 0zM382.70 232.31a1.95 1.95 0 1 0 3.9 0a1.95 1.95 0 1 0 -3.9 0zM388.04 231.21a1.95 1.95 0 1 0 3.9 0a1.95 1.95 0 1 0 -3.9 0zM383.69 235.63a1.95 1.95 0 1 0 3.9 0a1.95 1.95 0 1 0 -3.9 0zM386.33 235.50a1.95 1.95 0 1 0 3.9 0a1.95 1.95 0 1 0 -3.9 0zM378.71 237.42a1.95 1.95 0 1 0 3.9 0a1.95 1.95 0 1 0 -3.9 0zM381.19 237.70a1.95 1.95 0 1 0 3.9 0a1.95 1.95 0 1 0 -3.9 0zM390.35 236.90a1.95 1.95 0 1 0 3.9 0a1.95 1.95 0 1 0 -3.9 0zM394.17 237.23a1.95 1.95 0 1 0 3.9 0a1.95 1.95 0 1 0 -3.9 0zM393.21 240.50a1.95 1.95 0 1 0 3.9 0a1.95 1.95 0 1 0 -3.9 0zM395.71 242.95a1.95 1.95 0 1 0 3.9 0a1.95 1.95 0 1 0 -3.9 0zM376.83 250.99a1.95 1.95 0 1 0 3.9 0a1.95 1.95 0 1 0 -3.9 0zM394.42 246.33a1.95 1.95 0 1 0 3.9 0a1.95 1.95 0 1 0 -3.9 0zM396.64 247.10a1.95 1.95 0 1 0 3.9 0a1.95 1.95 0 1 0 -3.9 0zM398.38 249.63a1.95 1.95 0 1 0 3.9 0a1.95 1.95 0 1 0 -3.9 0zM395.71 250.18a1.95 1.95 0 1 0 3.9 0a1.95 1.95 0 1 0 -3.9 0zM393.03 251.17a1.95 1.95 0 1 0 3.9 0a1.95 1.95 0 1 0 -3.9 0zM392.34 254.94a1.95 1.95 0 1 0 3.9 0a1.95 1.95 0 1 0 -3.9 0zM396.42 252.96a1.95 1.95 0 1 0 3.9 0a1.95 1.95 0 1 0 -3.9 0zM380.96 253.91a1.95 1.95 0 1 0 3.9 0a1.95 1.95 0 1 0 -3.9 0zM384.61 237.91a1.95 1.95 0 1 0 3.9 0a1.95 1.95 0 1 0 -3.9 0zM380.34 239.84a1.95 1.95 0 1 0 3.9 0a1.95 1.95 0 1 0 -3.9 0zM386.08 240.23a1.95 1.95 0 1 0 3.9 0a1.95 1.95 0 1 0 -3.9 0zM377.65 241.71a1.95 1.95 0 1 0 3.9 0a1.95 1.95 0 1 0 -3.9 0zM390.23 241.49a1.95 1.95 0 1 0 3.9 0a1.95 1.95 0 1 0 -3.9 0zM378.10 244.41a1.95 1.95 0 1 0 3.9 0a1.95 1.95 0 1 0 -3.9 0zM380.29 243.69a1.95 1.95 0 1 0 3.9 0a1.95 1.95 0 1 0 -3.9 0zM386.24 243.69a1.95 1.95 0 1 0 3.9 0a1.95 1.95 0 1 0 -3.9 0zM390.40 243.86a1.95 1.95 0 1 0 3.9 0a1.95 1.95 0 1 0 -3.9 0zM384.17 245.12a1.95 1.95 0 1 0 3.9 0a1.95 1.95 0 1 0 -3.9 0zM388.04 245.34a1.95 1.95 0 1 0 3.9 0a1.95 1.95 0 1 0 -3.9 0zM376.80 246.83a1.95 1.95 0 1 0 3.9 0a1.95 1.95 0 1 0 -3.9 0zM381.97 246.39a1.95 1.95 0 1 0 3.9 0a1.95 1.95 0 1 0 -3.9 0zM389.79 247.54a1.95 1.95 0 1 0 3.9 0a1.95 1.95 0 1 0 -3.9 0zM378.55 248.70a1.95 1.95 0 1 0 3.9 0a1.95 1.95 0 1 0 -3.9 0zM384.17 248.92a1.95 1.95 0 1 0 3.9 0a1.95 1.95 0 1 0 -3.9 0zM386.53 248.48a1.95 1.95 0 1 0 3.9 0a1.95 1.95 0 1 0 -3.9 0zM383.10 251.25a1.95 1.95 0 1 0 3.9 0a1.95 1.95 0 1 0 -3.9 0zM388.49 251.14a1.95 1.95 0 1 0 3.9 0a1.95 1.95 0 1 0 -3.9 0zM391.70 248.92a1.95 1.95 0 1 0 3.9 0a1.95 1.95 0 1 0 -3.9 0zM383.60 253.98a1.95 1.95 0 1 0 3.9 0a1.95 1.95 0 1 0 -3.9 0zM385.99 252.41a1.95 1.95 0 1 0 3.9 0a1.95 1.95 0 1 0 -3.9 0zM385.99 254.72a1.95 1.95 0 1 0 3.9 0a1.95 1.95 0 1 0 -3.9 0zM390.93 252.79a1.95 1.95 0 1 0 3.9 0a1.95 1.95 0 1 0 -3.9 0zM389.69 256.43a1.95 1.95 0 1 0 3.9 0a1.95 1.95 0 1 0 -3.9 0z"/></clipPath>
<clipPath id="cp353330"><path d="M382.99 343.23a1.95 1.95 0 1 0 3.9 0a1.95 1.95 0 1 0 -3.9 0zM385.63 343.10a1.95 1.95 0 1 0 3.9 0a1.95 1.95 0 1 0 -3.9 0zM378.01 345.02a1.95 1.95 0 1 0 3.9 0a1.95 1.95 0 1 0 -3.9 0zM380.49 345.30a1.95 1.95 0 1 0 3.9 0a1.95 1.95 0 1 0 -3.9 0zM389.65 344.50a1.95 1.95 0 1 0 3.9 0a1.95 1.95 0 1 0 -3.9 0zM393.47 344.83a1.95 1.95 0 1 0 3.9 0a1.95 1.95 0 1 0 -3.9 0zM392.51 348.10a1.95 1.95 0 1 0 3.9 0a1.95 1.95 0 1 0 -3.9 0zM395.01 350.55a1.95 1.95 0 1 0 3.9 0a1.95 1.95 0 1 0 -3.9 0zM393.72 353.93a1.95 1.95 0 1 0 3.9 0a1.95 1.95 0 1 0 -3.9 0zM395.94 354.70a1.95 1.95 0 1 0 3.9 0a1.95 1.95 0 1 0 -3.9 0zM395.01 357.78a1.95 1.95 0 1 0 3.9 0a1.95 1.95 0 1 0 -3.9 0zM392.33 358.77a1.95 1.95 0 1 0 3.9 0a1.95 1.95 0 1 0 -3.9 0zM383.91 345.51a1.95 1.95 0 1 0 3.9 0a1.95 1.95 0 1 0 -3.9 0zM379.64 347.44a1.95 1.95 0 1 0 3.9 0a1.95 1.95 0 1 0 -3.9 0zM385.38 347.82a1.95 1.95 0 1 0 3.9 0a1.95 1.95 0 1 0 -3.9 0zM376.95 349.31a1.95 1.95 0 1 0 3.9 0a1.95 1.95 0 1 0 -3.9 0zM389.53 349.09a1.95 1.95 0 1 0 3.9 0a1.95 1.95 0 1 0 -3.9 0zM377.40 352.00a1.95 1.95 0 1 0 3.9 0a1.95 1.95 0 1 0 -3.9 0zM379.59 351.29a1.95 1.95 0 1 0 3.9 0a1.95 1.95 0 1 0 -3.9 0zM385.54 351.29a1.95 1.95 0 1 0 3.9 0a1.95 1.95 0 1 0 -3.9 0zM389.70 351.45a1.95 1.95 0 1 0 3.9 0a1.95 1.95 0 1 0 -3.9 0zM383.47 352.72a1.95 1.95 0 1 0 3.9 0a1.95 1.95 0 1 0 -3.9 0zM387.34 352.94a1.95 1.95 0 1 0 3.9 0a1.95 1.95 0 1 0 -3.9 0zM381.27 353.99a1.95 1.95 0 1 0 3.9 0a1.95 1.95 0 1 0 -3.9 0zM389.09 355.14a1.95 1.95 0 1 0 3.9 0a1.95 1.95 0 1 0 -3.9 0zM377.85 356.30a1.95 1.95 0 1 0 3.9 0a1.95 1.95 0 1 0 -3.9 0zM383.47 356.51a1.95 1.95 0 1 0 3.9 0a1.95 1.95 0 1 0 -3.9 0zM385.83 356.07a1.95 1.95 0 1 0 3.9 0a1.95 1.95 0 1 0 -3.9 0zM382.40 358.85a1.95 1.95 0 1 0 3.9 0a1.95 1.95 0 1 0 -3.9 0zM387.79 358.74a1.95 1.95 0 1 0 3.9 0a1.95 1.95 0 1 0 -3.9 0zM391.00 356.51a1.95 1.95 0 1 0 3.9 0a1.95 1.95 0 1 0 -3.9 0zM385.29 360.01a1.95 1.95 0 1 0 3.9 0a1.95 1.95 0 1 0 -3.9 0zM390.23 360.39a1.95 1.95 0 1 0 3.9 0a1.95 1.95 0 1 0 -3.9 0z"/></clipPath>
<clipPath id="cp354436"><path d="M391.15 450.50a1.95 1.95 0 1 0 3.9 0a1.95 1.95 0 1 0 -3.9 0zM394.01 454.10a1.95 1.95 0 1 0 3.9 0a1.95 1.95 0 1 0 -3.9 0zM396.51 456.55a1.95 1.95 0 1 0 3.9 0a1.95 1.95 0 1 0 -3.9 0zM395.22 459.93a1.95 1.95 0 1 0 3.9 0a1.95 1.95 0 1 0 -3.9 0zM385.41 451.51a1.95 1.95 0 1 0 3.9 0a1.95 1.95 0 1 0 -3.9 0zM386.88 453.82a1.95 1.95 0 1 0 3.9 0a1.95 1.95 0 1 0 -3.9 0zM382.77 454.76a1.95 1.95 0 1 0 3.9 0a1.95 1.95 0 1 0 -3.9 0zM391.03 455.09a1.95 1.95 0 1 0 3.9 0a1.95 1.95 0 1 0 -3.9 0zM381.09 457.29a1.95 1.95 0 1 0 3.9 0a1.95 1.95 0 1 0 -3.9 0zM387.04 457.29a1.95 1.95 0 1 0 3.9 0a1.95 1.95 0 1 0 -3.9 0zM391.20 457.45a1.95 1.95 0 1 0 3.9 0a1.95 1.95 0 1 0 -3.9 0zM384.97 458.72a1.95 1.95 0 1 0 3.9 0a1.95 1.95 0 1 0 -3.9 0zM388.84 458.94a1.95 1.95 0 1 0 3.9 0a1.95 1.95 0 1 0 -3.9 0zM382.77 459.99a1.95 1.95 0 1 0 3.9 0a1.95 1.95 0 1 0 -3.9 0zM390.59 461.14a1.95 1.95 0 1 0 3.9 0a1.95 1.95 0 1 0 -3.9 0zM384.97 462.51a1.95 1.95 0 1 0 3.9 0a1.95 1.95 0 1 0 -3.9 0zM387.33 462.07a1.95 1.95 0 1 0 3.9 0a1.95 1.95 0 1 0 -3.9 0zM392.50 462.51a1.95 1.95 0 1 0 3.9 0a1.95 1.95 0 1 0 -3.9 0z"/></clipPath></defs>
<text x="7" y="15.6" font-size="12.4" fill="#000" font-weight="bold" text-anchor="start">A</text>
<text x="207.6" y="15.7" font-size="12.4" fill="#000" font-weight="bold" text-anchor="start">C</text>
<text x="7.6" y="194.2" font-size="12.4" fill="#000" font-weight="bold" text-anchor="start">B</text>
<text x="7.6" y="379.8" font-size="12.4" fill="#000" font-weight="bold" text-anchor="start">D</text>
<text x="183.8" y="194.1" font-size="12.4" fill="#000" font-weight="bold" text-anchor="start">E</text>
<text x="17" y="36" font-size="8.82" fill="#231f20" stroke="#231f20" stroke-width="0.22" font-weight="normal" text-anchor="start" textLength="56" lengthAdjust="spacingAndGlyphs">Map to STRING</text>
<line x1="14.00" y1="39.00" x2="75.00" y2="39.00" stroke="#231f20" stroke-width="0.9"/>
<text x="17.5" y="47" font-size="8.82" fill="#231f20" stroke="#231f20" stroke-width="0.22" font-weight="normal" text-anchor="start" textLength="54.5" lengthAdjust="spacingAndGlyphs">500 candidates</text>
<text x="94.8" y="42.6" font-size="9.2" fill="#231f20" stroke="#231f20" stroke-width="0.22" font-weight="normal" text-anchor="start" textLength="4.4" lengthAdjust="spacingAndGlyphs">?</text>
<circle cx="27.70" cy="60.70" r="3.3" fill="#fff" stroke="#5b8dbd" stroke-width="1"/>
<circle cx="27.70" cy="72.90" r="3.8" fill="#26b24a" stroke="none" stroke-width="1"/>
<circle cx="27.70" cy="85.00" r="3.8" fill="#e08a99" stroke="none" stroke-width="1"/>
<text x="36.2" y="63" font-size="7.98" fill="#231f20" stroke="#231f20" stroke-width="0.22" font-weight="normal" text-anchor="start" textLength="41.7" lengthAdjust="spacingAndGlyphs">Top LysoLow</text>
<text x="36.2" y="75.1" font-size="7.98" fill="#231f20" stroke="#231f20" stroke-width="0.22" font-weight="normal" text-anchor="start" textLength="43.7" lengthAdjust="spacingAndGlyphs">Top LysoHigh</text>
<text x="36.4" y="87.3" font-size="7.98" fill="#231f20" stroke="#231f20" stroke-width="0.22" font-weight="normal" text-anchor="start" textLength="49.6" lengthAdjust="spacingAndGlyphs">Random genes</text>
<line x1="90.40" y1="60.40" x2="101.00" y2="60.40" stroke="#000" stroke-width="1"/>
<path d="M100 58.199999999999996 L103.6 60.4 L100 62.6 Z" fill="#000"/>
<line x1="90.40" y1="72.70" x2="101.00" y2="72.70" stroke="#000" stroke-width="1"/>
<path d="M100 70.5 L103.6 72.7 L100 74.9 Z" fill="#000"/>
<line x1="90.40" y1="85.40" x2="101.00" y2="85.40" stroke="#000" stroke-width="1"/>
<path d="M100 83.2 L103.6 85.4 L100 87.60000000000001 Z" fill="#000"/>
<line x1="127.70" y1="44.40" x2="115.20" y2="57.30" stroke="#231f20" stroke-width="0.9"/>
<line x1="127.70" y1="44.40" x2="136.00" y2="55.40" stroke="#231f20" stroke-width="0.9"/>
<line x1="136.00" y1="55.40" x2="126.90" y2="69.40" stroke="#231f20" stroke-width="0.9"/>
<line x1="115.20" y1="57.30" x2="126.90" y2="69.40" stroke="#231f20" stroke-width="0.9"/>
<line x1="115.20" y1="57.30" x2="112.90" y2="78.50" stroke="#231f20" stroke-width="0.9"/>
<line x1="112.90" y1="78.50" x2="134.60" y2="80.40" stroke="#231f20" stroke-width="0.9"/>
<line x1="126.90" y1="69.40" x2="134.60" y2="80.40" stroke="#231f20" stroke-width="0.9"/>
<line x1="134.60" y1="80.40" x2="145.60" y2="70.00" stroke="#231f20" stroke-width="0.9"/>
<line x1="134.60" y1="80.40" x2="122.90" y2="95.40" stroke="#231f20" stroke-width="0.9"/>
<line x1="134.60" y1="80.40" x2="147.50" y2="96.30" stroke="#231f20" stroke-width="0.9"/>
<line x1="148.10" y1="49.80" x2="164.40" y2="55.40" stroke="#231f20" stroke-width="0.9"/>
<line x1="148.10" y1="49.80" x2="145.60" y2="70.00" stroke="#231f20" stroke-width="0.9"/>
<line x1="145.60" y1="70.00" x2="164.40" y2="55.40" stroke="#231f20" stroke-width="0.9"/>
<line x1="145.60" y1="70.00" x2="161.90" y2="77.70" stroke="#231f20" stroke-width="0.9"/>
<line x1="164.40" y1="55.40" x2="161.90" y2="77.70" stroke="#231f20" stroke-width="0.9"/>
<circle cx="127.70" cy="44.40" r="3.2" fill="#fff" stroke="#5b8dbd" stroke-width="1.05"/>
<circle cx="115.20" cy="57.30" r="3.2" fill="#fff" stroke="#5b8dbd" stroke-width="1.05"/>
<circle cx="136.00" cy="55.40" r="3.55" fill="#e08a99" stroke="none" stroke-width="1"/>
<circle cx="126.90" cy="69.40" r="3.55" fill="#6d6e71" stroke="none" stroke-width="1"/>
<circle cx="112.90" cy="78.50" r="3.2" fill="#fff" stroke="#5b8dbd" stroke-width="1.05"/>
<circle cx="134.60" cy="80.40" r="3.55" fill="#e08a99" stroke="none" stroke-width="1"/>
<circle cx="122.90" cy="95.40" r="3.2" fill="#fff" stroke="#5b8dbd" stroke-width="1.05"/>
<circle cx="147.50" cy="96.30" r="3.55" fill="#6d6e71" stroke="none" stroke-width="1"/>
<circle cx="148.10" cy="49.80" r="3.6" fill="#26b24a" stroke="none" stroke-width="1"/>
<circle cx="164.40" cy="55.40" r="3.6" fill="#26b24a" stroke="none" stroke-width="1"/>
<circle cx="145.60" cy="70.00" r="3.6" fill="#26b24a" stroke="none" stroke-width="1"/>
<circle cx="161.90" cy="77.70" r="3.6" fill="#26b24a" stroke="none" stroke-width="1"/>
<text x="93.7" y="112" font-size="8.29" fill="#231f20" stroke="#231f20" stroke-width="0.22" font-weight="normal" text-anchor="start" textLength="82" lengthAdjust="spacingAndGlyphs">Known protein–protein</text>
<text x="114.2" y="121.3" font-size="8.29" fill="#231f20" stroke="#231f20" stroke-width="0.22" font-weight="normal" text-anchor="start" textLength="41" lengthAdjust="spacingAndGlyphs">interactions</text>
<line x1="41.30" y1="219.40" x2="41.30" y2="304.30" stroke="#000" stroke-width="1.1"/>
<line x1="40.80" y1="303.80" x2="140.40" y2="303.80" stroke="#000" stroke-width="1.1"/>
<line x1="38.30" y1="301.20" x2="41.30" y2="301.20" stroke="#000" stroke-width="0.9"/>
<text x="36" y="304.0" font-size="8.4" fill="#231f20" stroke="#231f20" stroke-width="0.22" font-weight="normal" text-anchor="end" textLength="4.2" lengthAdjust="spacingAndGlyphs">0</text>
<line x1="38.30" y1="276.40" x2="41.30" y2="276.40" stroke="#000" stroke-width="0.9"/>
<text x="36" y="279.2" font-size="8.4" fill="#231f20" stroke="#231f20" stroke-width="0.22" font-weight="normal" text-anchor="end" textLength="4.2" lengthAdjust="spacingAndGlyphs">1</text>
<line x1="38.30" y1="251.60" x2="41.30" y2="251.60" stroke="#000" stroke-width="0.9"/>
<text x="36" y="254.4" font-size="8.4" fill="#231f20" stroke="#231f20" stroke-width="0.22" font-weight="normal" text-anchor="end" textLength="4.2" lengthAdjust="spacingAndGlyphs">2</text>
<line x1="38.30" y1="226.80" x2="41.30" y2="226.80" stroke="#000" stroke-width="0.9"/>
<text x="36" y="229.6" font-size="8.4" fill="#231f20" stroke="#231f20" stroke-width="0.22" font-weight="normal" text-anchor="end" textLength="4.2" lengthAdjust="spacingAndGlyphs">3</text>
<line x1="50.60" y1="303.80" x2="50.60" y2="306.30" stroke="#000" stroke-width="0.9"/>
<text x="50.599999999999994" y="316.2" font-size="8.4" fill="#231f20" stroke="#231f20" stroke-width="0.22" font-weight="normal" text-anchor="middle" textLength="8" lengthAdjust="spacingAndGlyphs">50</text>
<line x1="67.95" y1="303.80" x2="67.95" y2="306.30" stroke="#000" stroke-width="0.9"/>
<text x="67.94999999999999" y="316.2" font-size="8.4" fill="#231f20" stroke="#231f20" stroke-width="0.22" font-weight="normal" text-anchor="middle" textLength="12.3" lengthAdjust="spacingAndGlyphs">100</text>
<line x1="85.30" y1="303.80" x2="85.30" y2="306.30" stroke="#000" stroke-width="0.9"/>
<text x="85.3" y="316.2" font-size="8.4" fill="#231f20" stroke="#231f20" stroke-width="0.22" font-weight="normal" text-anchor="middle" textLength="12.3" lengthAdjust="spacingAndGlyphs">150</text>
<line x1="102.65" y1="303.80" x2="102.65" y2="306.30" stroke="#000" stroke-width="0.9"/>
<text x="102.64999999999999" y="316.2" font-size="8.4" fill="#231f20" stroke="#231f20" stroke-width="0.22" font-weight="normal" text-anchor="middle" textLength="12.3" lengthAdjust="spacingAndGlyphs">200</text>
<line x1="120.00" y1="303.80" x2="120.00" y2="306.30" stroke="#000" stroke-width="0.9"/>
<text x="120.0" y="316.2" font-size="8.4" fill="#231f20" stroke="#231f20" stroke-width="0.22" font-weight="normal" text-anchor="middle" textLength="12.3" lengthAdjust="spacingAndGlyphs">250</text>
<line x1="137.35" y1="303.80" x2="137.35" y2="306.30" stroke="#000" stroke-width="0.9"/>
<text x="137.35" y="316.2" font-size="8.4" fill="#231f20" stroke="#231f20" stroke-width="0.22" font-weight="normal" text-anchor="middle" textLength="12.3" lengthAdjust="spacingAndGlyphs">300</text>
<text x="18.6" y="220.3" font-size="8.61" fill="#231f20" stroke="#231f20" stroke-width="0.22" font-weight="normal" text-anchor="start" textLength="12.5" lengthAdjust="spacingAndGlyphs">×10</text>
<text x="31.6" y="217.6" font-size="6.3" fill="#231f20" stroke="#231f20" stroke-width="0.22" font-weight="normal" text-anchor="start" textLength="6" lengthAdjust="spacingAndGlyphs">–3</text>
<text x="43.3" y="328.8" font-size="8.6" fill="#231f20" stroke="#231f20" stroke-width="0.22" font-weight="normal" text-anchor="start" textLength="92" lengthAdjust="spacingAndGlyphs">Protein–protein interactions</text>
<text transform="translate(24.5,261) rotate(-90)" font-size="8.6" fill="#231f20" stroke="#231f20" stroke-width="0.22" text-anchor="middle" textLength="27" lengthAdjust="spacingAndGlyphs">Density</text>
<path d="M42.90 300.60 C43.53 300.57 45.42 300.92 46.70 300.40 C47.98 299.88 49.32 299.43 50.60 297.50 C51.88 295.57 52.97 293.77 54.40 288.80 C55.83 283.83 57.60 276.03 59.20 267.70 C60.80 259.37 62.72 245.85 64.00 238.80 C65.28 231.75 66.03 228.18 66.90 225.40 C67.77 222.62 68.40 222.10 69.20 222.10 C70.00 222.10 70.63 223.25 71.70 225.40 C72.77 227.55 74.32 230.83 75.60 235.00 C76.88 239.17 78.12 245.27 79.40 250.40 C80.68 255.53 82.02 261.32 83.30 265.80 C84.58 270.28 86.05 273.62 87.10 277.30 C88.15 280.98 88.63 285.50 89.60 287.90 C90.57 290.30 91.55 290.02 92.90 291.70 C94.25 293.38 95.62 296.72 97.70 298.00 C99.78 299.28 102.35 299.00 105.40 299.40 C108.45 299.80 114.23 300.23 116.00 300.40 L116 301 L42.9 301 Z" fill="#f0c3cb"/>
<path d="M42.90 300.60 C43.53 300.57 45.42 300.92 46.70 300.40 C47.98 299.88 49.32 299.43 50.60 297.50 C51.88 295.57 52.97 293.77 54.40 288.80 C55.83 283.83 57.60 276.03 59.20 267.70 C60.80 259.37 62.72 245.85 64.00 238.80 C65.28 231.75 66.03 228.18 66.90 225.40 C67.77 222.62 68.40 222.10 69.20 222.10 C70.00 222.10 70.63 223.25 71.70 225.40 C72.77 227.55 74.32 230.83 75.60 235.00 C76.88 239.17 78.12 245.27 79.40 250.40 C80.68 255.53 82.02 261.32 83.30 265.80 C84.58 270.28 86.05 273.62 87.10 277.30 C88.15 280.98 88.63 285.50 89.60 287.90 C90.57 290.30 91.55 290.02 92.90 291.70 C94.25 293.38 95.62 296.72 97.70 298.00 C99.78 299.28 102.35 299.00 105.40 299.40 C108.45 299.80 114.23 300.23 116.00 300.40" fill="none" stroke="#d33f5b" stroke-width="1.1"/>
<line x1="46.20" y1="219.40" x2="46.20" y2="303.30" stroke="#1e5c99" stroke-width="1.25"/>
<line x1="133.80" y1="219.40" x2="133.80" y2="303.30" stroke="#1e5c99" stroke-width="1.25"/>
<text x="35" y="204.6" font-size="8.4" fill="#3c76ae" stroke="#3c76ae" stroke-width="0.22" font-weight="normal" text-anchor="start" textLength="44.8" lengthAdjust="spacingAndGlyphs">LysoLow (38)</text>
<text x="92.3" y="204.6" font-size="8.4" fill="#3c76ae" stroke="#3c76ae" stroke-width="0.22" font-weight="normal" text-anchor="start" textLength="51.9" lengthAdjust="spacingAndGlyphs">LysoHigh (290)</text>
<path d="M45.3 209.9 L48.5 209.9 L46.9 214.6 Z" fill="#000"/>
<text x="51" y="215" font-size="7.98" fill="#231f20" stroke="#231f20" stroke-width="0.22" font-weight="normal" text-anchor="start" textLength="27.5" lengthAdjust="spacingAndGlyphs">P&lt;0.001</text>
<text x="101.2" y="215" font-size="7.98" fill="#231f20" stroke="#231f20" stroke-width="0.22" font-weight="normal" text-anchor="start" textLength="27.3" lengthAdjust="spacingAndGlyphs">P&lt;0.001</text>
<path d="M131.4 209.9 L134.6 209.9 L133 214.6 Z" fill="#000"/>
<text x="72.2" y="287.9" font-size="7.77" fill="#231f20" stroke="#231f20" stroke-width="0.22" font-weight="normal" text-anchor="middle" textLength="26.9" lengthAdjust="spacingAndGlyphs">Random</text>
<text x="72.1" y="296.5" font-size="7.77" fill="#231f20" stroke="#231f20" stroke-width="0.22" font-weight="normal" text-anchor="middle" textLength="19.2" lengthAdjust="spacingAndGlyphs">genes</text>
<line x1="41.30" y1="390.00" x2="41.30" y2="480.50" stroke="#000" stroke-width="1.1"/>
<line x1="40.80" y1="480.00" x2="140.40" y2="480.00" stroke="#000" stroke-width="1.1"/>
<line x1="38.30" y1="464.00" x2="41.30" y2="464.00" stroke="#000" stroke-width="0.9"/>
<text x="36" y="466.8" font-size="8.4" fill="#231f20" stroke="#231f20" stroke-width="0.22" font-weight="normal" text-anchor="end" textLength="4.2" lengthAdjust="spacingAndGlyphs">5</text>
<line x1="38.30" y1="446.40" x2="41.30" y2="446.40" stroke="#000" stroke-width="0.9"/>
<text x="36" y="449.20000000000005" font-size="8.4" fill="#231f20" stroke="#231f20" stroke-width="0.22" font-weight="normal" text-anchor="end" textLength="8.6" lengthAdjust="spacingAndGlyphs">10</text>
<line x1="38.30" y1="428.80" x2="41.30" y2="428.80" stroke="#000" stroke-width="0.9"/>
<text x="36" y="431.6" font-size="8.4" fill="#231f20" stroke="#231f20" stroke-width="0.22" font-weight="normal" text-anchor="end" textLength="8.6" lengthAdjust="spacingAndGlyphs">15</text>
<line x1="38.30" y1="411.20" x2="41.30" y2="411.20" stroke="#000" stroke-width="0.9"/>
<text x="36" y="414.00000000000006" font-size="8.4" fill="#231f20" stroke="#231f20" stroke-width="0.22" font-weight="normal" text-anchor="end" textLength="8.6" lengthAdjust="spacingAndGlyphs">20</text>
<line x1="38.30" y1="393.60" x2="41.30" y2="393.60" stroke="#000" stroke-width="0.9"/>
<text x="36" y="396.40000000000003" font-size="8.4" fill="#231f20" stroke="#231f20" stroke-width="0.22" font-weight="normal" text-anchor="end" textLength="8.6" lengthAdjust="spacingAndGlyphs">25</text>
<line x1="44.70" y1="480.00" x2="44.70" y2="482.60" stroke="#000" stroke-width="0.9"/>
<text x="44.699999999999996" y="492" font-size="8.4" fill="#231f20" stroke="#231f20" stroke-width="0.22" font-weight="normal" text-anchor="middle">–1</text>
<line x1="68.00" y1="480.00" x2="68.00" y2="482.60" stroke="#000" stroke-width="0.9"/>
<text x="68.0" y="492" font-size="8.4" fill="#231f20" stroke="#231f20" stroke-width="0.22" font-weight="normal" text-anchor="middle">–0.5</text>
<line x1="91.30" y1="480.00" x2="91.30" y2="482.60" stroke="#000" stroke-width="0.9"/>
<text x="91.3" y="492" font-size="8.4" fill="#231f20" stroke="#231f20" stroke-width="0.22" font-weight="normal" text-anchor="middle">0</text>
<line x1="114.60" y1="480.00" x2="114.60" y2="482.60" stroke="#000" stroke-width="0.9"/>
<text x="114.6" y="492" font-size="8.4" fill="#231f20" stroke="#231f20" stroke-width="0.22" font-weight="normal" text-anchor="middle">0.5</text>
<line x1="137.90" y1="480.00" x2="137.90" y2="482.60" stroke="#000" stroke-width="0.9"/>
<text x="137.9" y="492" font-size="8.4" fill="#231f20" stroke="#231f20" stroke-width="0.22" font-weight="normal" text-anchor="middle">1</text>
<text x="41.9" y="500.6" font-size="7.77" fill="#231f20" stroke="#231f20" stroke-width="0.22" font-weight="normal" text-anchor="start" textLength="27.5" lengthAdjust="spacingAndGlyphs">LysoLow</text>
<text x="108.8" y="500.6" font-size="7.77" fill="#231f20" stroke="#231f20" stroke-width="0.22" font-weight="normal" text-anchor="start" textLength="30" lengthAdjust="spacingAndGlyphs">LysoHigh</text>
<line x1="76.00" y1="498.70" x2="102.00" y2="498.70" stroke="#000" stroke-width="1"/>
<path d="M73.3 498.7 L77.3 496.4 L77.3 501 Z" fill="#000"/>
<path d="M104.6 498.7 L100.6 496.4 L100.6 501 Z" fill="#000"/>
<text x="47" y="514.6" font-size="8.6" fill="#231f20" stroke="#231f20" stroke-width="0.22" font-weight="normal" text-anchor="start" textLength="89.5" lengthAdjust="spacingAndGlyphs">GO process expression bias</text>
<g transform="translate(21,435.7) rotate(-90)"><text font-size="8.2" fill="#231f20" stroke="#231f20" stroke-width="0.22" text-anchor="middle">-log<tspan font-size="5.6" dy="1.6">10</tspan><tspan dy="-1.6">(FDR)</tspan></text></g>
<path d="M72 478.6 L72.5 476.8 L77 475.6 L81 474.3 L85 473.5 L89.6 472 L95 469.5 L100 467 L103.1 461.5 L106 458 L107.8 456.8 L110.9 458.4 L113.5 460 L115.5 463.3 L117 460.5 L118.6 459.8 L120.5 461 L121.5 462.5 L123.3 458.4 L125.6 456 L127.2 459 L128.3 463.3 L130.3 462.5 L132 457 L135.7 456.6 L138.3 457.5 L138.5 478.6 Z" fill="#c3c3c6"/>
<circle cx="109.30" cy="393.50" r="1.9" fill="#c3c3c6" stroke="none" stroke-width="1"/>
<circle cx="115.00" cy="414.30" r="1.9" fill="#c3c3c6" stroke="none" stroke-width="1"/>
<circle cx="114.70" cy="417.40" r="1.9" fill="#c3c3c6" stroke="none" stroke-width="1"/>
<circle cx="115.70" cy="420.40" r="1.9" fill="#c3c3c6" stroke="none" stroke-width="1"/>
<circle cx="108.90" cy="424.10" r="1.9" fill="#c3c3c6" stroke="none" stroke-width="1"/>
<circle cx="113.00" cy="424.00" r="1.9" fill="#c3c3c6" stroke="none" stroke-width="1"/>
<circle cx="116.00" cy="423.00" r="1.9" fill="#c3c3c6" stroke="none" stroke-width="1"/>
<circle cx="109.40" cy="425.50" r="1.9" fill="#c3c3c6" stroke="none" stroke-width="1"/>
<circle cx="113.30" cy="427.40" r="1.9" fill="#c3c3c6" stroke="none" stroke-width="1"/>
<circle cx="118.10" cy="426.90" r="1.9" fill="#c3c3c6" stroke="none" stroke-width="1"/>
<circle cx="118.60" cy="429.80" r="1.9" fill="#c3c3c6" stroke="none" stroke-width="1"/>
<circle cx="109.90" cy="434.40" r="1.9" fill="#c3c3c6" stroke="none" stroke-width="1"/>
<circle cx="117.60" cy="437.00" r="1.9" fill="#c3c3c6" stroke="none" stroke-width="1"/>
<circle cx="123.80" cy="433.70" r="1.9" fill="#c3c3c6" stroke="none" stroke-width="1"/>
<circle cx="130.10" cy="434.60" r="1.9" fill="#c3c3c6" stroke="none" stroke-width="1"/>
<circle cx="111.70" cy="446.20" r="1.9" fill="#c3c3c6" stroke="none" stroke-width="1"/>
<circle cx="110.10" cy="451.60" r="1.9" fill="#c3c3c6" stroke="none" stroke-width="1"/>
<circle cx="115.10" cy="450.90" r="1.9" fill="#c3c3c6" stroke="none" stroke-width="1"/>
<circle cx="114.00" cy="454.80" r="1.9" fill="#c3c3c6" stroke="none" stroke-width="1"/>
<circle cx="126.40" cy="450.10" r="1.9" fill="#c3c3c6" stroke="none" stroke-width="1"/>
<circle cx="107.80" cy="456.50" r="1.9" fill="#c3c3c6" stroke="none" stroke-width="1"/>
<circle cx="110.90" cy="457.80" r="1.9" fill="#c3c3c6" stroke="none" stroke-width="1"/>
<circle cx="118.60" cy="459.40" r="1.9" fill="#c3c3c6" stroke="none" stroke-width="1"/>
<circle cx="123.30" cy="457.90" r="1.9" fill="#c3c3c6" stroke="none" stroke-width="1"/>
<circle cx="125.60" cy="455.50" r="1.9" fill="#c3c3c6" stroke="none" stroke-width="1"/>
<circle cx="132.60" cy="456.30" r="1.9" fill="#c3c3c6" stroke="none" stroke-width="1"/>
<circle cx="135.70" cy="456.30" r="1.9" fill="#c3c3c6" stroke="none" stroke-width="1"/>
<circle cx="138.00" cy="457.10" r="1.9" fill="#c3c3c6" stroke="none" stroke-width="1"/>
<circle cx="103.50" cy="461.00" r="1.9" fill="#c3c3c6" stroke="none" stroke-width="1"/>
<circle cx="105.50" cy="458.50" r="1.9" fill="#c3c3c6" stroke="none" stroke-width="1"/>
<circle cx="44.00" cy="476.70" r="1.9" fill="#c3c3c6" stroke="none" stroke-width="1"/>
<circle cx="67.50" cy="476.30" r="1.9" fill="#c3c3c6" stroke="none" stroke-width="1"/>
<circle cx="74.00" cy="476.90" r="1.9" fill="#c3c3c6" stroke="none" stroke-width="1"/>
<circle cx="76.30" cy="475.80" r="1.9" fill="#c3c3c6" stroke="none" stroke-width="1"/>
<circle cx="79.20" cy="474.60" r="1.9" fill="#c3c3c6" stroke="none" stroke-width="1"/>
<circle cx="81.50" cy="473.50" r="1.9" fill="#c3c3c6" stroke="none" stroke-width="1"/>
<circle cx="84.40" cy="473.50" r="1.9" fill="#c3c3c6" stroke="none" stroke-width="1"/>
<circle cx="86.10" cy="474.00" r="1.9" fill="#c3c3c6" stroke="none" stroke-width="1"/>
<circle cx="88.40" cy="474.60" r="1.9" fill="#c3c3c6" stroke="none" stroke-width="1"/>
<circle cx="126.60" cy="452.50" r="1.9" fill="#c3c3c6" stroke="none" stroke-width="1"/>
<circle cx="124.10" cy="403.10" r="2.3" fill="#bcd3d8" stroke="#d33f5b" stroke-width="1.0"/>
<circle cx="129.40" cy="431.50" r="2.3" fill="#bcd3d8" stroke="#d33f5b" stroke-width="1.0"/>
<circle cx="137.20" cy="448.90" r="2.3" fill="#bcd3d8" stroke="#d33f5b" stroke-width="1.0"/>
<circle cx="98.20" cy="465.60" r="2.3" fill="#bcd3d8" stroke="#d33f5b" stroke-width="1.0"/>
<circle cx="96.50" cy="472.10" r="2.3" fill="#bcd3d8" stroke="#d33f5b" stroke-width="1.0"/>
<text x="125.1" y="395.2" font-size="7.14" fill="#231f20" stroke="#231f20" stroke-width="0.22" font-weight="normal" text-anchor="middle" textLength="6.0" lengthAdjust="spacingAndGlyphs">IV</text>
<text x="129.5" y="422.6" font-size="7.14" fill="#231f20" stroke="#231f20" stroke-width="0.22" font-weight="normal" text-anchor="middle" textLength="4.0" lengthAdjust="spacingAndGlyphs">V</text>
<text x="136.8" y="440.4" font-size="7.14" fill="#231f20" stroke="#231f20" stroke-width="0.22" font-weight="normal" text-anchor="middle" textLength="5.3" lengthAdjust="spacingAndGlyphs">VI</text>
<text x="98" y="458.2" font-size="7.14" fill="#231f20" stroke="#231f20" stroke-width="0.22" font-weight="normal" text-anchor="middle" textLength="5.1" lengthAdjust="spacingAndGlyphs">III</text>
<line x1="124.40" y1="397.30" x2="124.40" y2="400.60" stroke="#231f20" stroke-width="0.9"/>
<line x1="129.50" y1="424.80" x2="129.50" y2="429.10" stroke="#231f20" stroke-width="0.9"/>
<line x1="137.00" y1="442.50" x2="137.00" y2="446.40" stroke="#231f20" stroke-width="0.9"/>
<line x1="98.20" y1="460.00" x2="98.20" y2="463.20" stroke="#231f20" stroke-width="0.9"/>
<text x="87.9" y="469.3" font-size="7.35" fill="#231f20" stroke="#231f20" stroke-width="0.22" font-weight="normal" text-anchor="middle">I</text>
<line x1="88.40" y1="470.00" x2="94.50" y2="472.40" stroke="#231f20" stroke-width="0.9"/>
<line x1="98.80" y1="472.20" x2="104.50" y2="469.80" stroke="#231f20" stroke-width="0.9"/>
<text x="108.2" y="471" font-size="7.14" fill="#444" stroke="#444" stroke-width="0.22" font-weight="normal" text-anchor="middle" textLength="3.6" lengthAdjust="spacingAndGlyphs">II</text>
<use href="#pc" x="394.2" y="139.3"/>
<line x1="391.30" y1="63.73" x2="391.30" y2="142.40" stroke="#000" stroke-width="1.1"/>
<line x1="390.80" y1="141.90" x2="470.20" y2="141.90" stroke="#000" stroke-width="1.1"/>
<line x1="388.70" y1="139.30" x2="391.30" y2="139.30" stroke="#000" stroke-width="0.9"/>
<text x="387.7" y="142.10000000000002" font-size="8.4" fill="#231f20" stroke="#231f20" stroke-width="0.22" font-weight="normal" text-anchor="end" textLength="4.2" lengthAdjust="spacingAndGlyphs">0</text>
<line x1="388.70" y1="116.40" x2="391.30" y2="116.40" stroke="#000" stroke-width="0.9"/>
<text x="387.7" y="119.2" font-size="8.4" fill="#231f20" stroke="#231f20" stroke-width="0.22" font-weight="normal" text-anchor="end" textLength="4.2" lengthAdjust="spacingAndGlyphs">5</text>
<line x1="388.70" y1="93.50" x2="391.30" y2="93.50" stroke="#000" stroke-width="0.9"/>
<text x="387.7" y="96.30000000000001" font-size="8.4" fill="#231f20" stroke="#231f20" stroke-width="0.22" font-weight="normal" text-anchor="end" textLength="8.4" lengthAdjust="spacingAndGlyphs">10</text>
<line x1="388.70" y1="70.60" x2="391.30" y2="70.60" stroke="#000" stroke-width="0.9"/>
<text x="387.7" y="73.4" font-size="8.4" fill="#231f20" stroke="#231f20" stroke-width="0.22" font-weight="normal" text-anchor="end" textLength="8.4" lengthAdjust="spacingAndGlyphs">15</text>
<line x1="394.20" y1="141.90" x2="394.20" y2="145.10" stroke="#000" stroke-width="0.9"/>
<text x="394.2" y="153.20000000000002" font-size="8.4" fill="#231f20" stroke="#231f20" stroke-width="0.22" font-weight="normal" text-anchor="middle" textLength="4.2" lengthAdjust="spacingAndGlyphs">0</text>
<line x1="404.67" y1="141.90" x2="404.67" y2="145.10" stroke="#000" stroke-width="0.9"/>
<text x="404.67" y="153.20000000000002" font-size="8.4" fill="#231f20" stroke="#231f20" stroke-width="0.22" font-weight="normal" text-anchor="middle" textLength="4.2" lengthAdjust="spacingAndGlyphs">2</text>
<line x1="415.14" y1="141.90" x2="415.14" y2="145.10" stroke="#000" stroke-width="0.9"/>
<text x="415.14" y="153.20000000000002" font-size="8.4" fill="#231f20" stroke="#231f20" stroke-width="0.22" font-weight="normal" text-anchor="middle" textLength="4.2" lengthAdjust="spacingAndGlyphs">4</text>
<line x1="425.61" y1="141.90" x2="425.61" y2="145.10" stroke="#000" stroke-width="0.9"/>
<text x="425.61" y="153.20000000000002" font-size="8.4" fill="#231f20" stroke="#231f20" stroke-width="0.22" font-weight="normal" text-anchor="middle" textLength="4.2" lengthAdjust="spacingAndGlyphs">6</text>
<line x1="436.08" y1="141.90" x2="436.08" y2="145.10" stroke="#000" stroke-width="0.9"/>
<text x="436.08" y="153.20000000000002" font-size="8.4" fill="#231f20" stroke="#231f20" stroke-width="0.22" font-weight="normal" text-anchor="middle" textLength="4.2" lengthAdjust="spacingAndGlyphs">8</text>
<line x1="446.55" y1="141.90" x2="446.55" y2="145.10" stroke="#000" stroke-width="0.9"/>
<text x="446.55" y="153.20000000000002" font-size="8.4" fill="#231f20" stroke="#231f20" stroke-width="0.22" font-weight="normal" text-anchor="middle" textLength="8.4" lengthAdjust="spacingAndGlyphs">10</text>
<line x1="457.02" y1="141.90" x2="457.02" y2="145.10" stroke="#000" stroke-width="0.9"/>
<text x="457.02" y="153.20000000000002" font-size="8.4" fill="#231f20" stroke="#231f20" stroke-width="0.22" font-weight="normal" text-anchor="middle" textLength="8.4" lengthAdjust="spacingAndGlyphs">12</text>
<line x1="467.49" y1="141.90" x2="467.49" y2="145.10" stroke="#000" stroke-width="0.9"/>
<text x="467.49" y="153.20000000000002" font-size="8.4" fill="#231f20" stroke="#231f20" stroke-width="0.22" font-weight="normal" text-anchor="middle" textLength="8.4" lengthAdjust="spacingAndGlyphs">14</text>
<use href="#pc" x="271.5" y="301.2"/>
<line x1="268.60" y1="225.63" x2="268.60" y2="304.30" stroke="#000" stroke-width="1.1"/>
<line x1="268.10" y1="303.80" x2="347.50" y2="303.80" stroke="#000" stroke-width="1.1"/>
<line x1="266.00" y1="301.20" x2="268.60" y2="301.20" stroke="#000" stroke-width="0.9"/>
<line x1="266.00" y1="278.30" x2="268.60" y2="278.30" stroke="#000" stroke-width="0.9"/>
<line x1="266.00" y1="255.40" x2="268.60" y2="255.40" stroke="#000" stroke-width="0.9"/>
<line x1="266.00" y1="232.50" x2="268.60" y2="232.50" stroke="#000" stroke-width="0.9"/>
<line x1="271.50" y1="303.80" x2="271.50" y2="307.00" stroke="#000" stroke-width="0.9"/>
<line x1="281.97" y1="303.80" x2="281.97" y2="307.00" stroke="#000" stroke-width="0.9"/>
<line x1="292.44" y1="303.80" x2="292.44" y2="307.00" stroke="#000" stroke-width="0.9"/>
<line x1="302.91" y1="303.80" x2="302.91" y2="307.00" stroke="#000" stroke-width="0.9"/>
<line x1="313.38" y1="303.80" x2="313.38" y2="307.00" stroke="#000" stroke-width="0.9"/>
<line x1="323.85" y1="303.80" x2="323.85" y2="307.00" stroke="#000" stroke-width="0.9"/>
<line x1="334.32" y1="303.80" x2="334.32" y2="307.00" stroke="#000" stroke-width="0.9"/>
<line x1="344.79" y1="303.80" x2="344.79" y2="307.00" stroke="#000" stroke-width="0.9"/>
<use href="#pc" x="271.5" y="408.6"/>
<line x1="268.60" y1="333.03" x2="268.60" y2="411.70" stroke="#000" stroke-width="1.1"/>
<line x1="268.10" y1="411.20" x2="347.50" y2="411.20" stroke="#000" stroke-width="1.1"/>
<line x1="266.00" y1="408.60" x2="268.60" y2="408.60" stroke="#000" stroke-width="0.9"/>
<line x1="266.00" y1="385.70" x2="268.60" y2="385.70" stroke="#000" stroke-width="0.9"/>
<line x1="266.00" y1="362.80" x2="268.60" y2="362.80" stroke="#000" stroke-width="0.9"/>
<line x1="266.00" y1="339.90" x2="268.60" y2="339.90" stroke="#000" stroke-width="0.9"/>
<line x1="271.50" y1="411.20" x2="271.50" y2="414.40" stroke="#000" stroke-width="0.9"/>
<line x1="281.97" y1="411.20" x2="281.97" y2="414.40" stroke="#000" stroke-width="0.9"/>
<line x1="292.44" y1="411.20" x2="292.44" y2="414.40" stroke="#000" stroke-width="0.9"/>
<line x1="302.91" y1="411.20" x2="302.91" y2="414.40" stroke="#000" stroke-width="0.9"/>
<line x1="313.38" y1="411.20" x2="313.38" y2="414.40" stroke="#000" stroke-width="0.9"/>
<line x1="323.85" y1="411.20" x2="323.85" y2="414.40" stroke="#000" stroke-width="0.9"/>
<line x1="334.32" y1="411.20" x2="334.32" y2="414.40" stroke="#000" stroke-width="0.9"/>
<line x1="344.79" y1="411.20" x2="344.79" y2="414.40" stroke="#000" stroke-width="0.9"/>
<use href="#pc" x="271.5" y="515.5"/>
<line x1="268.60" y1="439.93" x2="268.60" y2="518.60" stroke="#000" stroke-width="1.1"/>
<line x1="268.10" y1="518.10" x2="347.50" y2="518.10" stroke="#000" stroke-width="1.1"/>
<line x1="266.00" y1="515.50" x2="268.60" y2="515.50" stroke="#000" stroke-width="0.9"/>
<line x1="266.00" y1="492.60" x2="268.60" y2="492.60" stroke="#000" stroke-width="0.9"/>
<line x1="266.00" y1="469.70" x2="268.60" y2="469.70" stroke="#000" stroke-width="0.9"/>
<line x1="266.00" y1="446.80" x2="268.60" y2="446.80" stroke="#000" stroke-width="0.9"/>
<line x1="271.50" y1="518.10" x2="271.50" y2="521.30" stroke="#000" stroke-width="0.9"/>
<line x1="281.97" y1="518.10" x2="281.97" y2="521.30" stroke="#000" stroke-width="0.9"/>
<line x1="292.44" y1="518.10" x2="292.44" y2="521.30" stroke="#000" stroke-width="0.9"/>
<line x1="302.91" y1="518.10" x2="302.91" y2="521.30" stroke="#000" stroke-width="0.9"/>
<line x1="313.38" y1="518.10" x2="313.38" y2="521.30" stroke="#000" stroke-width="0.9"/>
<line x1="323.85" y1="518.10" x2="323.85" y2="521.30" stroke="#000" stroke-width="0.9"/>
<line x1="334.32" y1="518.10" x2="334.32" y2="521.30" stroke="#000" stroke-width="0.9"/>
<line x1="344.79" y1="518.10" x2="344.79" y2="521.30" stroke="#000" stroke-width="0.9"/>
<use href="#pc" x="437.5" y="301.2"/>
<line x1="434.60" y1="225.63" x2="434.60" y2="304.30" stroke="#000" stroke-width="1.1"/>
<line x1="434.10" y1="303.80" x2="513.50" y2="303.80" stroke="#000" stroke-width="1.1"/>
<line x1="432.00" y1="301.20" x2="434.60" y2="301.20" stroke="#000" stroke-width="0.9"/>
<line x1="432.00" y1="278.30" x2="434.60" y2="278.30" stroke="#000" stroke-width="0.9"/>
<line x1="432.00" y1="255.40" x2="434.60" y2="255.40" stroke="#000" stroke-width="0.9"/>
<line x1="432.00" y1="232.50" x2="434.60" y2="232.50" stroke="#000" stroke-width="0.9"/>
<line x1="437.50" y1="303.80" x2="437.50" y2="307.00" stroke="#000" stroke-width="0.9"/>
<line x1="447.97" y1="303.80" x2="447.97" y2="307.00" stroke="#000" stroke-width="0.9"/>
<line x1="458.44" y1="303.80" x2="458.44" y2="307.00" stroke="#000" stroke-width="0.9"/>
<line x1="468.91" y1="303.80" x2="468.91" y2="307.00" stroke="#000" stroke-width="0.9"/>
<line x1="479.38" y1="303.80" x2="479.38" y2="307.00" stroke="#000" stroke-width="0.9"/>
<line x1="489.85" y1="303.80" x2="489.85" y2="307.00" stroke="#000" stroke-width="0.9"/>
<line x1="500.32" y1="303.80" x2="500.32" y2="307.00" stroke="#000" stroke-width="0.9"/>
<line x1="510.79" y1="303.80" x2="510.79" y2="307.00" stroke="#000" stroke-width="0.9"/>
<use href="#pc" x="437.5" y="408.6"/>
<line x1="434.60" y1="333.03" x2="434.60" y2="411.70" stroke="#000" stroke-width="1.1"/>
<line x1="434.10" y1="411.20" x2="513.50" y2="411.20" stroke="#000" stroke-width="1.1"/>
<line x1="432.00" y1="408.60" x2="434.60" y2="408.60" stroke="#000" stroke-width="0.9"/>
<line x1="432.00" y1="385.70" x2="434.60" y2="385.70" stroke="#000" stroke-width="0.9"/>
<line x1="432.00" y1="362.80" x2="434.60" y2="362.80" stroke="#000" stroke-width="0.9"/>
<line x1="432.00" y1="339.90" x2="434.60" y2="339.90" stroke="#000" stroke-width="0.9"/>
<line x1="437.50" y1="411.20" x2="437.50" y2="414.40" stroke="#000" stroke-width="0.9"/>
<line x1="447.97" y1="411.20" x2="447.97" y2="414.40" stroke="#000" stroke-width="0.9"/>
<line x1="458.44" y1="411.20" x2="458.44" y2="414.40" stroke="#000" stroke-width="0.9"/>
<line x1="468.91" y1="411.20" x2="468.91" y2="414.40" stroke="#000" stroke-width="0.9"/>
<line x1="479.38" y1="411.20" x2="479.38" y2="414.40" stroke="#000" stroke-width="0.9"/>
<line x1="489.85" y1="411.20" x2="489.85" y2="414.40" stroke="#000" stroke-width="0.9"/>
<line x1="500.32" y1="411.20" x2="500.32" y2="414.40" stroke="#000" stroke-width="0.9"/>
<line x1="510.79" y1="411.20" x2="510.79" y2="414.40" stroke="#000" stroke-width="0.9"/>
<use href="#pc" x="437.5" y="515.5"/>
<line x1="434.60" y1="439.93" x2="434.60" y2="518.60" stroke="#000" stroke-width="1.1"/>
<line x1="434.10" y1="518.10" x2="513.50" y2="518.10" stroke="#000" stroke-width="1.1"/>
<line x1="432.00" y1="515.50" x2="434.60" y2="515.50" stroke="#000" stroke-width="0.9"/>
<line x1="432.00" y1="492.60" x2="434.60" y2="492.60" stroke="#000" stroke-width="0.9"/>
<line x1="432.00" y1="469.70" x2="434.60" y2="469.70" stroke="#000" stroke-width="0.9"/>
<line x1="432.00" y1="446.80" x2="434.60" y2="446.80" stroke="#000" stroke-width="0.9"/>
<line x1="437.50" y1="518.10" x2="437.50" y2="521.30" stroke="#000" stroke-width="0.9"/>
<line x1="447.97" y1="518.10" x2="447.97" y2="521.30" stroke="#000" stroke-width="0.9"/>
<line x1="458.44" y1="518.10" x2="458.44" y2="521.30" stroke="#000" stroke-width="0.9"/>
<line x1="468.91" y1="518.10" x2="468.91" y2="521.30" stroke="#000" stroke-width="0.9"/>
<line x1="479.38" y1="518.10" x2="479.38" y2="521.30" stroke="#000" stroke-width="0.9"/>
<line x1="489.85" y1="518.10" x2="489.85" y2="521.30" stroke="#000" stroke-width="0.9"/>
<line x1="500.32" y1="518.10" x2="500.32" y2="521.30" stroke="#000" stroke-width="0.9"/>
<line x1="510.79" y1="518.10" x2="510.79" y2="521.30" stroke="#000" stroke-width="0.9"/>
<text x="402.7" y="167" font-size="8.6" fill="#231f20" stroke="#231f20" stroke-width="0.22" font-weight="normal" text-anchor="start" textLength="55.5" lengthAdjust="spacingAndGlyphs">Mean expression</text>
<text transform="translate(371.8,104) rotate(-90)" font-size="8.6" fill="#231f20" stroke="#231f20" stroke-width="0.22" text-anchor="middle" textLength="29" lengthAdjust="spacingAndGlyphs">Variance</text>
<text x="398.8" y="30.8" font-size="9.2" fill="#231f20" stroke="#231f20" stroke-width="0.22" font-weight="normal" text-anchor="start" textLength="65" lengthAdjust="spacingAndGlyphs">Network genes</text>
<text x="407.9" y="42.9" font-size="7.98" fill="#231f20" stroke="#231f20" stroke-width="0.22" font-weight="normal" text-anchor="start" textLength="27.9" lengthAdjust="spacingAndGlyphs">LysoLow</text>
<text x="406" y="53.1" font-size="7.98" fill="#231f20" stroke="#231f20" stroke-width="0.22" font-weight="normal" text-anchor="start" textLength="29.8" lengthAdjust="spacingAndGlyphs">LysoHigh</text>
<circle cx="441.50" cy="40.60" r="2.9" fill="#fff" stroke="#5b8dbd" stroke-width="1"/>
<circle cx="441.50" cy="51.00" r="3.2" fill="#26b24a" stroke="none" stroke-width="1"/>
<text x="447.7" y="42.9" font-size="7.98" fill="#231f20" stroke="#231f20" stroke-width="0.22" font-weight="normal" text-anchor="start" textLength="8.3" lengthAdjust="spacingAndGlyphs">65</text>
<text x="447.7" y="53.1" font-size="7.98" fill="#231f20" stroke="#231f20" stroke-width="0.22" font-weight="normal" text-anchor="start" textLength="11.5" lengthAdjust="spacingAndGlyphs">152</text>
<text x="205.5" y="201.2" font-size="9.2" fill="#231f20" stroke="#231f20" stroke-width="0.22" font-weight="normal" text-anchor="start" textLength="96.1" lengthAdjust="spacingAndGlyphs">LysoHigh and LysoLow</text>
<line x1="200.30" y1="205.20" x2="309.10" y2="205.20" stroke="#000" stroke-width="1"/>
<text x="416.8" y="201.5" font-size="9.2" fill="#231f20" stroke="#231f20" stroke-width="0.22" font-weight="normal" text-anchor="start" textLength="40.2" lengthAdjust="spacingAndGlyphs">LysoHigh</text>
<line x1="384.30" y1="205.30" x2="493.30" y2="205.30" stroke="#000" stroke-width="1"/>
<circle cx="207.10" cy="213.70" r="2.6" fill="#26b24a" stroke="none" stroke-width="1"/>
<text x="212.7" y="216.3" font-size="7.77" fill="#231f20" stroke="#231f20" stroke-width="0.22" font-weight="normal" text-anchor="start" textLength="30" lengthAdjust="spacingAndGlyphs">LysoHigh</text>
<circle cx="262.40" cy="213.70" r="2.6" fill="#fff" stroke="#2f6aa3" stroke-width="0.95"/>
<text x="268.2" y="216.3" font-size="7.77" fill="#231f20" stroke="#231f20" stroke-width="0.22" font-weight="normal" text-anchor="start" textLength="28.8" lengthAdjust="spacingAndGlyphs">LysoLow</text>
<text x="187.5" y="318.1" font-size="9" fill="#231f20" stroke="#231f20" stroke-width="0.22" textLength="86" lengthAdjust="spacingAndGlyphs"><tspan font-weight="bold">I:</tspan> Cell differentiation</text>
<text x="188" y="427" font-size="9" fill="#231f20" stroke="#231f20" stroke-width="0.22" textLength="102" lengthAdjust="spacingAndGlyphs"><tspan font-weight="bold">II:</tspan> Protein ubiquitination</text>
<text x="188" y="533" font-size="9" fill="#231f20" stroke="#231f20" stroke-width="0.22" textLength="94" lengthAdjust="spacingAndGlyphs"><tspan font-weight="bold">III:</tspan> Signal transduction</text>
<text x="358" y="318" font-size="9" fill="#231f20" stroke="#231f20" stroke-width="0.22" textLength="115" lengthAdjust="spacingAndGlyphs"><tspan font-weight="bold">IV:</tspan> DNA metabolic process</text>
<text x="358" y="427" font-size="9" fill="#231f20" stroke="#231f20" stroke-width="0.22" textLength="60" lengthAdjust="spacingAndGlyphs"><tspan font-weight="bold">V:</tspan> DNA repair</text>
<text x="358" y="533" font-size="9" fill="#231f20" stroke="#231f20" stroke-width="0.22" textLength="82.5" lengthAdjust="spacingAndGlyphs"><tspan font-weight="bold">VI:</tspan> DNA replication</text>
<path d="M219.00 25.00L212.90 29.20M219.00 25.00L219.80 32.50M219.80 32.50L225.00 42.70M225.00 42.70L228.80 49.00M228.80 49.00L236.10 49.00M228.80 49.00L225.00 55.40M236.10 49.00L247.10 60.60M247.10 60.60L251.70 59.20M247.10 60.60L246.10 66.10M251.10 55.70L255.35 53.45M251.10 55.70L251.70 59.20M251.10 55.70L255.70 62.30M255.35 53.45L251.70 59.20M255.35 53.45L260.70 51.40M255.35 53.45L263.60 55.80M255.35 53.45L258.80 59.20M255.35 53.45L262.30 59.50M255.35 53.45L260.50 54.99M251.70 59.20L255.70 62.30M255.70 62.30L252.80 65.70M255.70 62.30L253.00 69.20M255.70 62.30L258.80 59.20M255.70 62.30L262.30 59.50M255.70 62.30L259.60 64.10M255.70 62.30L263.50 62.80M255.70 62.30L257.30 68.50M255.70 62.30L260.50 68.10M252.80 65.70L253.00 69.20M252.80 65.70L257.30 68.50M253.00 69.20L247.90 71.50M253.00 69.20L257.35 76.07M253.00 69.20L257.30 68.50M253.00 69.20L255.60 72.30M253.00 69.20L260.40 71.90M247.90 71.50L244.90 83.80M247.90 71.50L255.60 72.30M267.80 42.10L269.55 48.15M267.80 42.10L274.25 47.90M267.80 42.10L277.65 46.40M277.30 40.10L274.25 47.90M277.30 40.10L277.65 46.40M269.55 48.15L274.25 47.90M269.55 48.15L277.65 46.40M269.55 48.15L260.70 51.40M269.55 48.15L265.10 51.90M269.55 48.15L271.20 52.30M269.55 48.15L277.70 51.00M269.55 48.15L263.60 55.80M269.55 48.15L268.50 55.00M269.55 48.15L273.80 56.50M269.55 48.15L274.51 53.02M274.25 47.90L277.65 46.40M274.25 47.90L281.70 54.00M274.25 47.90L271.20 52.30M274.25 47.90L277.70 51.00M274.25 47.90L268.50 55.00M274.25 47.90L277.30 54.60M274.25 47.90L274.51 53.02M277.65 46.40L281.40 50.45M277.65 46.40L288.20 51.05M277.65 46.40L281.70 54.00M277.65 46.40L277.70 51.00M277.65 46.40L273.80 56.50M277.65 46.40L277.30 54.60M277.65 46.40L274.51 53.02M260.70 51.40L265.10 51.90M260.70 51.40L263.60 55.80M260.70 51.40L268.50 55.00M260.70 51.40L258.80 59.20M260.70 51.40L262.30 59.50M260.70 51.40L260.50 54.99M265.10 51.90L271.20 52.30M265.10 51.90L263.60 55.80M265.10 51.90L268.50 55.00M265.10 51.90L273.80 56.50M265.10 51.90L258.80 59.20M265.10 51.90L262.30 59.50M265.10 51.90L266.50 58.20M265.10 51.90L270.80 59.20M265.10 51.90L260.50 54.99M281.40 50.45L288.20 51.05M281.40 50.45L281.70 54.00M281.40 50.45L286.50 57.00M281.40 50.45L277.70 51.00M281.40 50.45L273.80 56.50M281.40 50.45L277.30 54.60M281.40 50.45L276.90 57.70M281.40 50.45L274.51 53.02M288.20 51.05L281.70 54.00M288.20 51.05L286.50 57.00M288.20 51.05L277.30 54.60M281.70 54.00L286.50 57.00M281.70 54.00L290.95 61.45M281.70 54.00L277.70 51.00M281.70 54.00L273.80 56.50M281.70 54.00L277.30 54.60M281.70 54.00L276.90 57.70M281.70 54.00L281.20 58.80M281.70 54.00L278.10 62.30M281.70 54.00L274.51 53.02M286.50 57.00L290.95 61.45M286.50 57.00L277.30 54.60M286.50 57.00L281.20 58.80M286.50 57.00L285.40 60.80M286.50 57.00L281.50 63.10M286.50 57.00L284.60 64.20M290.95 61.45L288.65 67.60M290.95 61.45L292.60 69.00M290.95 61.45L296.30 70.10M290.95 61.45L285.40 60.80M290.95 61.45L284.60 64.20M290.95 61.45L281.50 66.20M257.35 76.07L264.70 81.38M257.35 76.07L257.30 68.50M257.35 76.07L260.50 68.10M257.35 76.07L255.60 72.30M257.35 76.07L260.40 71.90M257.35 76.07L264.10 70.00M257.35 76.07L261.20 75.60M257.35 76.07L266.50 73.50M257.35 76.07L264.43 76.27M288.65 67.60L292.60 69.00M288.65 67.60L296.30 70.10M288.65 67.60L285.40 60.80M288.65 67.60L281.50 63.10M288.65 67.60L284.60 64.20M288.65 67.60L281.50 66.20M288.65 67.60L280.40 69.80M288.65 67.60L285.00 69.20M288.65 67.60L283.80 72.30M292.60 69.00L296.30 70.10M292.60 69.00L295.70 73.60M292.60 69.00L290.95 74.60M292.60 69.00L286.17 76.40M292.60 69.00L288.80 78.80M292.60 69.00L284.60 64.20M292.60 69.00L285.00 69.20M292.60 69.00L283.80 72.30M296.30 70.10L302.40 66.70M296.30 70.10L295.70 73.60M296.30 70.10L290.95 74.60M295.70 73.60L290.95 74.60M290.95 74.60L286.17 76.40M290.95 74.60L286.30 79.85M290.95 74.60L296.70 79.60M290.95 74.60L291.48 83.57M290.95 74.60L294.60 83.30M290.95 74.60L288.80 78.80M290.95 74.60L292.20 79.65M290.95 74.60L285.00 69.20M290.95 74.60L283.80 72.30M290.95 74.60L288.50 83.10M286.17 76.40L286.30 79.85M286.17 76.40L284.95 83.25M286.17 76.40L294.60 83.30M286.17 76.40L288.80 78.80M286.17 76.40L285.00 69.20M286.17 76.40L281.70 76.20M286.17 76.40L283.80 72.30M286.17 76.40L288.50 83.10M286.17 76.40L282.44 79.34M286.30 79.85L284.95 83.25M286.30 79.85L291.48 83.57M286.30 79.85L288.80 78.80M286.30 79.85L292.20 79.65M286.30 79.85L283.55 87.20M286.30 79.85L281.70 76.20M286.30 79.85L281.70 82.90M286.30 79.85L287.30 86.50M286.30 79.85L288.50 83.10M286.30 79.85L282.44 79.34M296.70 79.60L291.48 83.57M296.70 79.60L294.60 83.30M296.70 79.60L288.80 78.80M296.70 79.60L292.20 79.65M284.95 83.25L291.48 83.57M284.95 83.25L288.80 78.80M284.95 83.25L292.20 79.65M284.95 83.25L283.55 87.20M284.95 83.25L281.70 76.20M284.95 83.25L277.50 84.25M284.95 83.25L281.70 82.90M284.95 83.25L287.30 86.50M284.95 83.25L288.50 83.10M284.95 83.25L282.44 79.34M284.95 83.25L280.24 85.97M291.48 83.57L294.60 83.30M291.48 83.57L288.80 78.80M291.48 83.57L292.20 79.65M291.48 83.57L287.30 86.50M291.48 83.57L288.50 83.10M294.60 83.30L288.80 78.80M294.60 83.30L292.20 79.65M294.60 83.30L287.30 86.50M294.60 83.30L288.50 83.10M288.80 78.80L292.20 79.65M288.80 78.80L288.50 83.10M288.80 78.80L282.44 79.34M292.20 79.65L288.50 83.10M292.20 79.65L282.44 79.34M244.90 83.80L239.40 90.10M244.90 83.80L247.70 90.10M264.70 81.38L264.30 86.80M264.70 81.38L261.20 75.60M264.70 81.38L268.50 76.55M264.70 81.38L269.40 81.50M264.70 81.38L272.70 85.00M264.70 81.38L270.80 88.10M264.70 81.38L262.30 91.90M264.70 81.38L269.35 85.16M264.70 81.38L264.43 76.27M264.30 86.80L266.35 112.95M264.30 86.80L268.55 94.90M264.30 86.80L269.40 81.50M264.30 86.80L273.65 82.85M264.30 86.80L272.70 85.00M264.30 86.80L270.80 88.10M264.30 86.80L275.00 88.10M264.30 86.80L262.30 91.90M264.30 86.80L270.00 91.50M264.30 86.80L269.35 85.16M264.30 86.80L266.25 90.77M283.55 87.20L281.50 97.30M283.55 87.20L287.40 97.95M283.55 87.20L281.70 82.90M283.55 87.20L275.00 88.10M283.55 87.20L279.20 89.20M283.55 87.20L287.30 86.50M283.55 87.20L278.50 93.10M283.55 87.20L281.90 93.80M283.55 87.20L288.50 83.10M283.55 87.20L282.44 79.34M283.55 87.20L280.24 85.97M237.70 82.10L232.20 86.70M237.70 82.10L239.40 90.10M232.20 86.70L239.40 90.10M232.20 86.70L231.90 93.80M239.40 90.10L247.70 90.10M239.40 90.10L231.90 93.80M239.40 90.10L237.50 98.20M239.40 90.10L244.60 96.70M247.70 90.10L244.60 96.70M231.90 93.80L237.50 98.20M237.50 98.20L244.60 96.70M255.90 104.55L262.40 106.65M255.90 104.55L255.10 110.85M255.90 104.55L266.35 112.95M262.40 100.60L262.40 106.65M262.40 100.60L266.35 112.95M262.40 100.60L268.55 94.90M262.40 100.60L262.30 91.90M262.40 100.60L268.80 98.10M262.40 100.60L272.30 98.50M262.40 106.65L266.35 112.95M255.10 110.85L266.35 112.95M255.10 110.85L254.80 117.50M243.70 111.10L242.50 117.80M266.35 112.95L266.35 112.95M266.35 112.95L273.60 112.95M266.35 112.95L254.80 117.50M266.35 112.95L262.50 119.40M266.35 112.95L269.10 125.60M266.35 112.95L268.55 94.90M266.35 112.95L270.80 88.10M266.35 112.95L275.00 88.10M266.35 112.95L279.20 89.20M266.35 112.95L262.30 91.90M266.35 112.95L270.00 91.50M266.35 112.95L274.20 91.50M228.70 114.00L237.10 114.60M237.10 114.60L242.50 117.80M242.50 117.80L246.00 118.60M246.00 118.60L246.70 123.60M254.80 117.50L252.50 123.30M236.00 120.90L239.80 122.70M236.00 120.90L228.70 125.00M239.80 122.70L242.50 126.10M246.70 123.60L252.50 123.30M246.70 123.60L242.50 126.10M280.60 117.50L281.70 126.10M280.60 117.50L285.60 114.60M280.60 117.50L289.10 119.50M269.10 125.60L265.60 129.80M281.70 126.10L276.30 128.40M281.70 126.10L289.10 119.50M260.50 128.40L265.60 129.80M260.50 128.40L256.85 133.45M265.60 129.80L264.80 134.00M271.10 131.10L276.30 128.40M271.10 131.10L269.90 136.25M276.30 128.40L277.30 134.15M256.85 133.45L252.70 136.00M264.80 134.00L269.90 136.25M264.80 134.00L263.60 139.40M277.30 134.15L281.65 136.70M247.10 135.10L252.70 136.00M247.10 135.10L239.45 139.50M252.70 136.00L251.60 141.20M269.90 136.25L270.90 142.00M281.65 136.70L288.15 131.55M281.65 136.70L286.30 143.20M239.45 139.50L232.80 145.00M263.60 139.40L258.80 142.00M268.55 94.90L270.80 88.10M268.55 94.90L275.00 88.10M268.55 94.90L262.30 91.90M268.55 94.90L270.00 91.50M268.55 94.90L274.20 91.50M268.55 94.90L275.00 95.00M268.55 94.90L268.80 98.10M268.55 94.90L272.30 98.50M268.55 94.90L275.80 98.50M268.55 94.90L266.25 90.77M281.50 97.30L280.50 101.10M281.50 97.30L280.70 104.70M281.50 97.30L287.40 97.95M281.50 97.30L279.20 89.20M281.50 97.30L278.50 93.10M281.50 97.30L281.90 93.80M281.50 97.30L275.00 95.00M281.50 97.30L272.30 98.50M281.50 97.30L275.80 98.50M281.50 97.30L284.60 104.10M280.50 101.10L280.70 104.70M280.50 101.10L287.40 97.95M280.50 101.10L278.50 93.10M280.50 101.10L281.90 93.80M280.50 101.10L272.30 98.50M280.50 101.10L275.80 98.50M280.70 104.70L275.80 98.50M280.70 104.70L284.60 104.10M284.15 108.32L285.60 114.60M284.15 108.32L289.10 119.50M284.15 108.32L284.60 104.10M299.60 93.00L303.30 99.60M303.30 99.60L310.80 99.60M303.30 99.60L299.60 105.80M310.80 99.60L325.20 99.60M325.20 99.60L332.40 97.50M299.60 105.80L290.60 108.05M287.40 97.95L279.20 89.20M287.40 97.95L281.90 93.80M287.40 97.95L284.60 104.10M290.60 108.05L291.55 113.00M290.60 108.05L289.10 119.50M285.60 114.60L291.55 113.00M285.60 114.60L289.10 119.50M291.55 113.00L289.10 119.50M289.10 119.50L289.10 119.50M289.10 119.50L300.30 119.10M289.10 119.50L295.00 122.90M289.10 119.50L297.00 128.60M289.10 119.50L288.15 131.55M300.30 119.10L295.00 122.90M300.30 119.10L305.80 125.05M310.40 119.10L305.80 125.05M310.40 119.10L317.90 123.60M318.80 115.80L327.40 114.90M318.80 115.80L317.90 123.60M327.40 114.90L335.40 114.90M295.00 122.90L297.00 128.60M305.80 125.05L305.40 135.60M317.90 123.60L325.25 126.50M288.15 131.55L293.00 137.90M286.30 143.20L280.80 147.40M280.80 147.40L286.60 152.40M273.70 151.20L280.00 156.20M286.60 152.40L280.00 156.20M280.00 156.20L279.70 164.00M251.60 141.20L246.60 147.40M258.80 142.00L262.00 149.70M232.80 145.00L226.70 150.10M254.70 149.70L262.00 149.70M305.40 135.60L305.10 139.90M310.60 137.30L310.40 140.40M305.10 139.90L305.40 143.10M310.40 140.40L309.40 144.70M305.40 143.10L309.40 144.70M305.40 143.10L304.60 147.10M309.40 144.70L313.80 144.40M309.40 144.70L309.90 148.30M313.80 144.40L322.10 149.20M325.60 143.10L330.80 147.10M330.80 147.10L326.50 151.20M322.10 149.20L326.50 151.20M322.10 149.20L320.70 156.50M326.50 151.20L329.10 156.50M329.10 156.50L337.50 155.60M329.10 156.50L327.70 164.60M337.50 155.60L335.90 161.70M335.90 161.70L342.90 160.40M271.20 52.30L277.70 51.00M271.20 52.30L263.60 55.80M271.20 52.30L268.50 55.00M271.20 52.30L273.80 56.50M271.20 52.30L277.30 54.60M271.20 52.30L266.50 58.20M271.20 52.30L274.51 53.02M277.70 51.00L268.50 55.00M277.70 51.00L273.80 56.50M277.70 51.00L277.30 54.60M277.70 51.00L276.90 57.70M277.70 51.00L281.20 58.80M277.70 51.00L274.51 53.02M263.60 55.80L268.50 55.00M263.60 55.80L258.80 59.20M263.60 55.80L262.30 59.50M263.60 55.80L266.50 58.20M263.60 55.80L270.80 59.20M263.60 55.80L263.50 62.80M263.60 55.80L266.90 62.50M263.60 55.80L260.50 54.99M268.50 55.00L273.80 56.50M268.50 55.00L262.30 59.50M268.50 55.00L266.50 58.20M268.50 55.00L270.80 59.20M268.50 55.00L260.50 54.99M268.50 55.00L274.51 53.02M273.80 56.50L277.30 54.60M273.80 56.50L266.50 58.20M273.80 56.50L270.80 59.20M273.80 56.50L276.90 57.70M273.80 56.50L274.10 62.80M273.80 56.50L278.10 62.30M273.80 56.50L274.51 53.02M277.30 54.60L270.80 59.20M277.30 54.60L276.90 57.70M277.30 54.60L281.20 58.80M277.30 54.60L278.10 62.30M277.30 54.60L274.51 53.02M258.80 59.20L262.30 59.50M258.80 59.20L259.60 64.10M258.80 59.20L263.50 62.80M258.80 59.20L260.50 54.99M262.30 59.50L266.50 58.20M262.30 59.50L259.60 64.10M262.30 59.50L263.50 62.80M262.30 59.50L266.90 62.50M262.30 59.50L260.50 54.99M266.50 58.20L270.80 59.20M266.50 58.20L263.50 62.80M266.50 58.20L266.90 62.50M266.50 58.20L264.20 65.60M270.80 59.20L266.90 62.50M270.80 59.20L274.10 62.80M270.80 59.20L270.40 65.40M270.80 59.20L274.51 53.02M276.90 57.70L281.20 58.80M276.90 57.70L274.10 62.80M276.90 57.70L278.10 62.30M276.90 57.70L281.50 63.10M276.90 57.70L274.51 53.02M281.20 58.80L285.40 60.80M281.20 58.80L274.10 62.80M281.20 58.80L278.10 62.30M281.20 58.80L281.50 63.10M281.20 58.80L284.60 64.20M281.20 58.80L277.30 65.80M281.20 58.80L281.50 66.20M285.40 60.80L278.10 62.30M285.40 60.80L281.50 63.10M285.40 60.80L284.60 64.20M285.40 60.80L281.50 66.20M259.60 64.10L263.50 62.80M259.60 64.10L266.90 62.50M259.60 64.10L264.20 65.60M259.60 64.10L257.30 68.50M259.60 64.10L260.50 68.10M259.60 64.10L266.50 67.70M259.60 64.10L260.40 71.90M259.60 64.10L264.10 70.00M259.60 64.10L260.50 54.99M263.50 62.80L266.90 62.50M263.50 62.80L264.20 65.60M263.50 62.80L270.40 65.40M263.50 62.80L257.30 68.50M263.50 62.80L260.50 68.10M263.50 62.80L266.50 67.70M263.50 62.80L264.10 70.00M263.50 62.80L260.50 54.99M266.90 62.50L274.10 62.80M266.90 62.50L264.20 65.60M266.90 62.50L270.40 65.40M266.90 62.50L266.50 67.70M266.90 62.50L269.91 68.76M274.10 62.80L278.10 62.30M274.10 62.80L281.50 63.10M274.10 62.80L270.40 65.40M274.10 62.80L277.30 65.80M274.10 62.80L273.80 67.70M274.10 62.80L269.91 68.76M278.10 62.30L281.50 63.10M278.10 62.30L277.30 65.80M278.10 62.30L281.50 66.20M278.10 62.30L273.80 67.70M278.10 62.30L280.40 69.80M281.50 63.10L284.60 64.20M281.50 63.10L277.30 65.80M281.50 63.10L281.50 66.20M281.50 63.10L280.40 69.80M281.50 63.10L285.00 69.20M284.60 64.20L277.30 65.80M284.60 64.20L281.50 66.20M284.60 64.20L280.40 69.80M284.60 64.20L285.00 69.20M284.60 64.20L283.80 72.30M264.20 65.60L270.40 65.40M264.20 65.60L257.30 68.50M264.20 65.60L260.50 68.10M264.20 65.60L266.50 67.70M264.20 65.60L264.10 70.00M264.20 65.60L269.91 68.76M270.40 65.40L266.50 67.70M270.40 65.40L273.80 67.70M270.40 65.40L264.10 70.00M270.40 65.40L270.40 72.30M270.40 65.40L269.91 68.76M277.30 65.80L281.50 66.20M277.30 65.80L273.80 67.70M277.30 65.80L280.40 69.80M277.30 65.80L285.00 69.20M277.30 65.80L274.60 71.50M277.30 65.80L269.91 68.76M281.50 66.20L280.40 69.80M281.50 66.20L285.00 69.20M281.50 66.20L283.80 72.30M257.30 68.50L260.50 68.10M257.30 68.50L255.60 72.30M257.30 68.50L260.40 71.90M257.30 68.50L264.10 70.00M260.50 68.10L266.50 67.70M260.50 68.10L255.60 72.30M260.50 68.10L260.40 71.90M260.50 68.10L264.10 70.00M260.50 68.10L266.50 73.50M266.50 67.70L260.40 71.90M266.50 67.70L264.10 70.00M266.50 67.70L270.40 72.30M266.50 67.70L266.50 73.50M266.50 67.70L269.91 68.76M273.80 67.70L280.40 69.80M273.80 67.70L270.40 72.30M273.80 67.70L274.60 71.50M273.80 67.70L277.30 73.10M273.80 67.70L273.80 75.40M273.80 67.70L269.91 68.76M280.40 69.80L285.00 69.20M280.40 69.80L274.60 71.50M280.40 69.80L277.30 73.10M280.40 69.80L278.10 76.35M280.40 69.80L281.70 76.20M280.40 69.80L283.80 72.30M285.00 69.20L281.70 76.20M285.00 69.20L283.80 72.30M255.60 72.30L260.40 71.90M255.60 72.30L264.10 70.00M255.60 72.30L261.20 75.60M260.40 71.90L264.10 70.00M260.40 71.90L261.20 75.60M260.40 71.90L266.50 73.50M260.40 71.90L264.43 76.27M264.10 70.00L270.40 72.30M264.10 70.00L261.20 75.60M264.10 70.00L266.50 73.50M264.10 70.00L269.91 68.76M264.10 70.00L264.43 76.27M270.40 72.30L274.60 71.50M270.40 72.30L261.20 75.60M270.40 72.30L266.50 73.50M270.40 72.30L268.50 76.55M270.40 72.30L273.80 75.40M270.40 72.30L273.65 78.65M270.40 72.30L269.91 68.76M270.40 72.30L264.43 76.27M274.60 71.50L277.30 73.10M274.60 71.50L266.50 73.50M274.60 71.50L268.50 76.55M274.60 71.50L273.80 75.40M274.60 71.50L278.10 76.35M274.60 71.50L269.91 68.76M277.30 73.10L273.80 75.40M277.30 73.10L278.10 76.35M277.30 73.10L281.70 76.20M277.30 73.10L283.80 72.30M277.30 73.10L273.65 78.65M261.20 75.60L266.50 73.50M261.20 75.60L268.50 76.55M261.20 75.60L264.43 76.27M266.50 73.50L268.50 76.55M266.50 73.50L273.80 75.40M266.50 73.50L269.40 81.50M266.50 73.50L269.91 68.76M266.50 73.50L264.43 76.27M268.50 76.55L273.80 75.40M268.50 76.55L269.40 81.50M268.50 76.55L273.65 78.65M268.50 76.55L273.65 82.85M268.50 76.55L269.91 68.76M268.50 76.55L264.43 76.27M273.80 75.40L278.10 76.35M273.80 75.40L273.65 78.65M273.80 75.40L276.75 81.35M278.10 76.35L281.70 76.20M278.10 76.35L283.80 72.30M278.10 76.35L273.65 78.65M278.10 76.35L276.75 81.35M278.10 76.35L273.65 82.85M278.10 76.35L281.70 82.90M278.10 76.35L282.44 79.34M281.70 76.20L283.80 72.30M281.70 76.20L276.75 81.35M281.70 76.20L282.44 79.34M283.80 72.30L282.44 79.34M269.40 81.50L273.65 78.65M269.40 81.50L273.65 82.85M269.40 81.50L272.70 85.00M269.40 81.50L270.80 88.10M269.40 81.50L269.35 85.16M269.40 81.50L264.43 76.27M273.65 78.65L276.75 81.35M273.65 78.65L273.65 82.85M273.65 78.65L277.50 84.25M273.65 78.65L272.70 85.00M276.75 81.35L273.65 82.85M276.75 81.35L277.50 84.25M276.75 81.35L281.70 82.90M276.75 81.35L272.70 85.00M276.75 81.35L279.20 89.20M273.65 82.85L277.50 84.25M273.65 82.85L272.70 85.00M273.65 82.85L270.80 88.10M273.65 82.85L275.00 88.10M273.65 82.85L269.35 85.16M273.65 82.85L280.24 85.97M277.50 84.25L281.70 82.90M277.50 84.25L272.70 85.00M277.50 84.25L270.80 88.10M277.50 84.25L275.00 88.10M277.50 84.25L279.20 89.20M277.50 84.25L269.35 85.16M277.50 84.25L282.44 79.34M277.50 84.25L280.24 85.97M281.70 82.90L279.20 89.20M281.70 82.90L287.30 86.50M281.70 82.90L282.44 79.34M281.70 82.90L280.24 85.97M272.70 85.00L270.80 88.10M272.70 85.00L275.00 88.10M272.70 85.00L279.20 89.20M272.70 85.00L274.20 91.50M272.70 85.00L269.35 85.16M272.70 85.00L266.25 90.77M270.80 88.10L275.00 88.10M270.80 88.10L270.00 91.50M270.80 88.10L274.20 91.50M270.80 88.10L275.00 95.00M270.80 88.10L268.80 98.10M270.80 88.10L269.35 85.16M270.80 88.10L266.25 90.77M275.00 88.10L279.20 89.20M275.00 88.10L270.00 91.50M275.00 88.10L274.20 91.50M275.00 88.10L278.50 93.10M275.00 88.10L275.00 95.00M275.00 88.10L269.35 85.16M275.00 88.10L280.24 85.97M279.20 89.20L287.30 86.50M279.20 89.20L274.20 91.50M279.20 89.20L278.50 93.10M279.20 89.20L281.90 93.80M279.20 89.20L275.00 95.00M279.20 89.20L275.80 98.50M279.20 89.20L280.24 85.97M287.30 86.50L281.90 93.80M287.30 86.50L288.50 83.10M262.30 91.90L270.00 91.50M262.30 91.90L268.80 98.10M262.30 91.90L269.35 85.16M262.30 91.90L266.25 90.77M270.00 91.50L274.20 91.50M270.00 91.50L275.00 95.00M270.00 91.50L268.80 98.10M270.00 91.50L272.30 98.50M270.00 91.50L269.35 85.16M270.00 91.50L266.25 90.77M274.20 91.50L278.50 93.10M274.20 91.50L275.00 95.00M274.20 91.50L272.30 98.50M274.20 91.50L275.80 98.50M274.20 91.50L269.35 85.16M278.50 93.10L281.90 93.80M278.50 93.10L275.00 95.00M278.50 93.10L268.80 98.10M278.50 93.10L272.30 98.50M278.50 93.10L275.80 98.50M278.50 93.10L280.24 85.97M281.90 93.80L275.00 95.00M281.90 93.80L275.80 98.50M281.90 93.80L280.24 85.97M275.00 95.00L268.80 98.10M275.00 95.00L272.30 98.50M275.00 95.00L275.80 98.50M268.80 98.10L272.30 98.50M268.80 98.10L275.80 98.50M268.80 98.10L266.25 90.77M272.30 98.50L275.80 98.50M272.30 98.50L266.25 90.77M288.50 83.10L282.44 79.34M269.35 85.16L266.25 90.77M282.44 79.34L280.24 85.97M269.91 68.76L264.43 76.27" stroke="#a9b4ba" stroke-width="0.55" fill="none"/>
<path d="M217.55 25.00a1.45 1.45 0 1 0 2.9 0a1.45 1.45 0 1 0 -2.9 0zM218.35 32.50a1.45 1.45 0 1 0 2.9 0a1.45 1.45 0 1 0 -2.9 0zM223.55 42.70a1.45 1.45 0 1 0 2.9 0a1.45 1.45 0 1 0 -2.9 0zM227.35 49.00a1.45 1.45 0 1 0 2.9 0a1.45 1.45 0 1 0 -2.9 0zM234.65 49.00a1.45 1.45 0 1 0 2.9 0a1.45 1.45 0 1 0 -2.9 0zM249.65 55.70a1.45 1.45 0 1 0 2.9 0a1.45 1.45 0 1 0 -2.9 0zM244.65 66.10a1.45 1.45 0 1 0 2.9 0a1.45 1.45 0 1 0 -2.9 0zM251.55 69.20a1.45 1.45 0 1 0 2.9 0a1.45 1.45 0 1 0 -2.9 0zM246.45 71.50a1.45 1.45 0 1 0 2.9 0a1.45 1.45 0 1 0 -2.9 0zM275.85 40.10a1.45 1.45 0 1 0 2.9 0a1.45 1.45 0 1 0 -2.9 0zM263.65 51.90a1.45 1.45 0 1 0 2.9 0a1.45 1.45 0 1 0 -2.9 0zM286.75 51.05a1.45 1.45 0 1 0 2.9 0a1.45 1.45 0 1 0 -2.9 0zM280.25 54.00a1.45 1.45 0 1 0 2.9 0a1.45 1.45 0 1 0 -2.9 0zM291.15 69.00a1.45 1.45 0 1 0 2.9 0a1.45 1.45 0 1 0 -2.9 0zM294.85 70.10a1.45 1.45 0 1 0 2.9 0a1.45 1.45 0 1 0 -2.9 0zM300.95 66.70a1.45 1.45 0 1 0 2.9 0a1.45 1.45 0 1 0 -2.9 0zM294.25 73.60a1.45 1.45 0 1 0 2.9 0a1.45 1.45 0 1 0 -2.9 0zM289.50 74.60a1.45 1.45 0 1 0 2.9 0a1.45 1.45 0 1 0 -2.9 0zM284.72 76.40a1.45 1.45 0 1 0 2.9 0a1.45 1.45 0 1 0 -2.9 0zM284.85 79.85a1.45 1.45 0 1 0 2.9 0a1.45 1.45 0 1 0 -2.9 0zM295.25 79.60a1.45 1.45 0 1 0 2.9 0a1.45 1.45 0 1 0 -2.9 0zM283.50 83.25a1.45 1.45 0 1 0 2.9 0a1.45 1.45 0 1 0 -2.9 0zM290.03 83.57a1.45 1.45 0 1 0 2.9 0a1.45 1.45 0 1 0 -2.9 0zM243.45 83.80a1.45 1.45 0 1 0 2.9 0a1.45 1.45 0 1 0 -2.9 0zM236.25 82.10a1.45 1.45 0 1 0 2.9 0a1.45 1.45 0 1 0 -2.9 0zM237.95 90.10a1.45 1.45 0 1 0 2.9 0a1.45 1.45 0 1 0 -2.9 0zM230.45 93.80a1.45 1.45 0 1 0 2.9 0a1.45 1.45 0 1 0 -2.9 0zM254.45 104.55a1.45 1.45 0 1 0 2.9 0a1.45 1.45 0 1 0 -2.9 0zM242.25 111.10a1.45 1.45 0 1 0 2.9 0a1.45 1.45 0 1 0 -2.9 0zM264.90 112.95a1.45 1.45 0 1 0 2.9 0a1.45 1.45 0 1 0 -2.9 0zM272.15 112.95a1.45 1.45 0 1 0 2.9 0a1.45 1.45 0 1 0 -2.9 0zM234.55 120.90a1.45 1.45 0 1 0 2.9 0a1.45 1.45 0 1 0 -2.9 0zM251.05 123.30a1.45 1.45 0 1 0 2.9 0a1.45 1.45 0 1 0 -2.9 0zM261.05 119.40a1.45 1.45 0 1 0 2.9 0a1.45 1.45 0 1 0 -2.9 0zM279.15 117.50a1.45 1.45 0 1 0 2.9 0a1.45 1.45 0 1 0 -2.9 0zM267.65 125.60a1.45 1.45 0 1 0 2.9 0a1.45 1.45 0 1 0 -2.9 0zM280.25 126.10a1.45 1.45 0 1 0 2.9 0a1.45 1.45 0 1 0 -2.9 0zM264.15 129.80a1.45 1.45 0 1 0 2.9 0a1.45 1.45 0 1 0 -2.9 0zM269.65 131.10a1.45 1.45 0 1 0 2.9 0a1.45 1.45 0 1 0 -2.9 0zM255.40 133.45a1.45 1.45 0 1 0 2.9 0a1.45 1.45 0 1 0 -2.9 0zM263.35 134.00a1.45 1.45 0 1 0 2.9 0a1.45 1.45 0 1 0 -2.9 0zM262.15 139.40a1.45 1.45 0 1 0 2.9 0a1.45 1.45 0 1 0 -2.9 0zM267.10 94.90a1.45 1.45 0 1 0 2.9 0a1.45 1.45 0 1 0 -2.9 0zM280.05 97.30a1.45 1.45 0 1 0 2.9 0a1.45 1.45 0 1 0 -2.9 0zM279.05 101.10a1.45 1.45 0 1 0 2.9 0a1.45 1.45 0 1 0 -2.9 0zM323.75 99.60a1.45 1.45 0 1 0 2.9 0a1.45 1.45 0 1 0 -2.9 0zM330.95 97.50a1.45 1.45 0 1 0 2.9 0a1.45 1.45 0 1 0 -2.9 0zM298.15 105.80a1.45 1.45 0 1 0 2.9 0a1.45 1.45 0 1 0 -2.9 0zM285.95 97.95a1.45 1.45 0 1 0 2.9 0a1.45 1.45 0 1 0 -2.9 0zM289.15 108.05a1.45 1.45 0 1 0 2.9 0a1.45 1.45 0 1 0 -2.9 0zM308.95 119.10a1.45 1.45 0 1 0 2.9 0a1.45 1.45 0 1 0 -2.9 0zM325.95 114.90a1.45 1.45 0 1 0 2.9 0a1.45 1.45 0 1 0 -2.9 0zM333.95 114.90a1.45 1.45 0 1 0 2.9 0a1.45 1.45 0 1 0 -2.9 0zM316.45 123.60a1.45 1.45 0 1 0 2.9 0a1.45 1.45 0 1 0 -2.9 0zM323.80 126.50a1.45 1.45 0 1 0 2.9 0a1.45 1.45 0 1 0 -2.9 0zM272.25 151.20a1.45 1.45 0 1 0 2.9 0a1.45 1.45 0 1 0 -2.9 0zM285.15 152.40a1.45 1.45 0 1 0 2.9 0a1.45 1.45 0 1 0 -2.9 0zM278.25 164.00a1.45 1.45 0 1 0 2.9 0a1.45 1.45 0 1 0 -2.9 0zM269.45 142.00a1.45 1.45 0 1 0 2.9 0a1.45 1.45 0 1 0 -2.9 0zM245.15 147.40a1.45 1.45 0 1 0 2.9 0a1.45 1.45 0 1 0 -2.9 0zM253.25 149.70a1.45 1.45 0 1 0 2.9 0a1.45 1.45 0 1 0 -2.9 0zM309.15 137.30a1.45 1.45 0 1 0 2.9 0a1.45 1.45 0 1 0 -2.9 0zM319.25 156.50a1.45 1.45 0 1 0 2.9 0a1.45 1.45 0 1 0 -2.9 0zM341.45 160.40a1.45 1.45 0 1 0 2.9 0a1.45 1.45 0 1 0 -2.9 0zM326.25 164.60a1.45 1.45 0 1 0 2.9 0a1.45 1.45 0 1 0 -2.9 0z" fill="#fff" stroke="#5b8dbd" stroke-width="0.9"/>
<path d="M211.40 29.20a1.5 1.5 0 1 0 3 0a1.5 1.5 0 1 0 -3 0zM223.50 55.40a1.5 1.5 0 1 0 3 0a1.5 1.5 0 1 0 -3 0zM245.60 60.60a1.5 1.5 0 1 0 3 0a1.5 1.5 0 1 0 -3 0zM253.85 53.45a1.5 1.5 0 1 0 3 0a1.5 1.5 0 1 0 -3 0zM250.20 59.20a1.5 1.5 0 1 0 3 0a1.5 1.5 0 1 0 -3 0zM254.20 62.30a1.5 1.5 0 1 0 3 0a1.5 1.5 0 1 0 -3 0zM251.30 65.70a1.5 1.5 0 1 0 3 0a1.5 1.5 0 1 0 -3 0zM266.30 42.10a1.5 1.5 0 1 0 3 0a1.5 1.5 0 1 0 -3 0zM268.05 48.15a1.5 1.5 0 1 0 3 0a1.5 1.5 0 1 0 -3 0zM272.75 47.90a1.5 1.5 0 1 0 3 0a1.5 1.5 0 1 0 -3 0zM276.15 46.40a1.5 1.5 0 1 0 3 0a1.5 1.5 0 1 0 -3 0zM259.20 51.40a1.5 1.5 0 1 0 3 0a1.5 1.5 0 1 0 -3 0zM279.90 50.45a1.5 1.5 0 1 0 3 0a1.5 1.5 0 1 0 -3 0zM285.00 57.00a1.5 1.5 0 1 0 3 0a1.5 1.5 0 1 0 -3 0zM289.45 61.45a1.5 1.5 0 1 0 3 0a1.5 1.5 0 1 0 -3 0zM255.85 76.07a1.5 1.5 0 1 0 3 0a1.5 1.5 0 1 0 -3 0zM287.15 67.60a1.5 1.5 0 1 0 3 0a1.5 1.5 0 1 0 -3 0zM293.10 83.30a1.5 1.5 0 1 0 3 0a1.5 1.5 0 1 0 -3 0zM287.30 78.80a1.5 1.5 0 1 0 3 0a1.5 1.5 0 1 0 -3 0zM290.70 79.65a1.5 1.5 0 1 0 3 0a1.5 1.5 0 1 0 -3 0zM263.20 81.38a1.5 1.5 0 1 0 3 0a1.5 1.5 0 1 0 -3 0zM262.80 86.80a1.5 1.5 0 1 0 3 0a1.5 1.5 0 1 0 -3 0zM282.05 87.20a1.5 1.5 0 1 0 3 0a1.5 1.5 0 1 0 -3 0zM230.70 86.70a1.5 1.5 0 1 0 3 0a1.5 1.5 0 1 0 -3 0zM246.20 90.10a1.5 1.5 0 1 0 3 0a1.5 1.5 0 1 0 -3 0zM236.00 98.20a1.5 1.5 0 1 0 3 0a1.5 1.5 0 1 0 -3 0zM243.10 96.70a1.5 1.5 0 1 0 3 0a1.5 1.5 0 1 0 -3 0zM260.90 100.60a1.5 1.5 0 1 0 3 0a1.5 1.5 0 1 0 -3 0zM260.90 106.65a1.5 1.5 0 1 0 3 0a1.5 1.5 0 1 0 -3 0zM253.60 110.85a1.5 1.5 0 1 0 3 0a1.5 1.5 0 1 0 -3 0zM227.20 114.00a1.5 1.5 0 1 0 3 0a1.5 1.5 0 1 0 -3 0zM235.60 114.60a1.5 1.5 0 1 0 3 0a1.5 1.5 0 1 0 -3 0zM241.00 117.80a1.5 1.5 0 1 0 3 0a1.5 1.5 0 1 0 -3 0zM244.50 118.60a1.5 1.5 0 1 0 3 0a1.5 1.5 0 1 0 -3 0zM253.30 117.50a1.5 1.5 0 1 0 3 0a1.5 1.5 0 1 0 -3 0zM238.30 122.70a1.5 1.5 0 1 0 3 0a1.5 1.5 0 1 0 -3 0zM245.20 123.60a1.5 1.5 0 1 0 3 0a1.5 1.5 0 1 0 -3 0zM227.20 125.00a1.5 1.5 0 1 0 3 0a1.5 1.5 0 1 0 -3 0zM241.00 126.10a1.5 1.5 0 1 0 3 0a1.5 1.5 0 1 0 -3 0zM259.00 128.40a1.5 1.5 0 1 0 3 0a1.5 1.5 0 1 0 -3 0zM274.80 128.40a1.5 1.5 0 1 0 3 0a1.5 1.5 0 1 0 -3 0zM275.80 134.15a1.5 1.5 0 1 0 3 0a1.5 1.5 0 1 0 -3 0zM245.60 135.10a1.5 1.5 0 1 0 3 0a1.5 1.5 0 1 0 -3 0zM251.20 136.00a1.5 1.5 0 1 0 3 0a1.5 1.5 0 1 0 -3 0zM268.40 136.25a1.5 1.5 0 1 0 3 0a1.5 1.5 0 1 0 -3 0zM280.15 136.70a1.5 1.5 0 1 0 3 0a1.5 1.5 0 1 0 -3 0zM237.95 139.50a1.5 1.5 0 1 0 3 0a1.5 1.5 0 1 0 -3 0zM279.20 104.70a1.5 1.5 0 1 0 3 0a1.5 1.5 0 1 0 -3 0zM282.65 108.32a1.5 1.5 0 1 0 3 0a1.5 1.5 0 1 0 -3 0zM298.10 93.00a1.5 1.5 0 1 0 3 0a1.5 1.5 0 1 0 -3 0zM301.80 99.60a1.5 1.5 0 1 0 3 0a1.5 1.5 0 1 0 -3 0zM309.30 99.60a1.5 1.5 0 1 0 3 0a1.5 1.5 0 1 0 -3 0zM284.10 114.60a1.5 1.5 0 1 0 3 0a1.5 1.5 0 1 0 -3 0zM290.05 113.00a1.5 1.5 0 1 0 3 0a1.5 1.5 0 1 0 -3 0zM287.60 119.50a1.5 1.5 0 1 0 3 0a1.5 1.5 0 1 0 -3 0zM298.80 119.10a1.5 1.5 0 1 0 3 0a1.5 1.5 0 1 0 -3 0zM317.30 115.80a1.5 1.5 0 1 0 3 0a1.5 1.5 0 1 0 -3 0zM293.50 122.90a1.5 1.5 0 1 0 3 0a1.5 1.5 0 1 0 -3 0zM304.30 125.05a1.5 1.5 0 1 0 3 0a1.5 1.5 0 1 0 -3 0zM295.50 128.60a1.5 1.5 0 1 0 3 0a1.5 1.5 0 1 0 -3 0zM286.65 131.55a1.5 1.5 0 1 0 3 0a1.5 1.5 0 1 0 -3 0zM291.50 137.90a1.5 1.5 0 1 0 3 0a1.5 1.5 0 1 0 -3 0zM284.80 143.20a1.5 1.5 0 1 0 3 0a1.5 1.5 0 1 0 -3 0zM279.30 147.40a1.5 1.5 0 1 0 3 0a1.5 1.5 0 1 0 -3 0zM278.50 156.20a1.5 1.5 0 1 0 3 0a1.5 1.5 0 1 0 -3 0zM250.10 141.20a1.5 1.5 0 1 0 3 0a1.5 1.5 0 1 0 -3 0zM257.30 142.00a1.5 1.5 0 1 0 3 0a1.5 1.5 0 1 0 -3 0zM231.30 145.00a1.5 1.5 0 1 0 3 0a1.5 1.5 0 1 0 -3 0zM225.20 150.10a1.5 1.5 0 1 0 3 0a1.5 1.5 0 1 0 -3 0zM260.50 149.70a1.5 1.5 0 1 0 3 0a1.5 1.5 0 1 0 -3 0zM303.90 135.60a1.5 1.5 0 1 0 3 0a1.5 1.5 0 1 0 -3 0zM303.60 139.90a1.5 1.5 0 1 0 3 0a1.5 1.5 0 1 0 -3 0zM308.90 140.40a1.5 1.5 0 1 0 3 0a1.5 1.5 0 1 0 -3 0zM303.90 143.10a1.5 1.5 0 1 0 3 0a1.5 1.5 0 1 0 -3 0zM307.90 144.70a1.5 1.5 0 1 0 3 0a1.5 1.5 0 1 0 -3 0zM312.30 144.40a1.5 1.5 0 1 0 3 0a1.5 1.5 0 1 0 -3 0zM303.10 147.10a1.5 1.5 0 1 0 3 0a1.5 1.5 0 1 0 -3 0zM308.40 148.30a1.5 1.5 0 1 0 3 0a1.5 1.5 0 1 0 -3 0zM324.10 143.10a1.5 1.5 0 1 0 3 0a1.5 1.5 0 1 0 -3 0zM329.30 147.10a1.5 1.5 0 1 0 3 0a1.5 1.5 0 1 0 -3 0zM320.60 149.20a1.5 1.5 0 1 0 3 0a1.5 1.5 0 1 0 -3 0zM325.00 151.20a1.5 1.5 0 1 0 3 0a1.5 1.5 0 1 0 -3 0zM327.60 156.50a1.5 1.5 0 1 0 3 0a1.5 1.5 0 1 0 -3 0zM336.00 155.60a1.5 1.5 0 1 0 3 0a1.5 1.5 0 1 0 -3 0zM334.40 161.70a1.5 1.5 0 1 0 3 0a1.5 1.5 0 1 0 -3 0zM269.70 52.30a1.5 1.5 0 1 0 3 0a1.5 1.5 0 1 0 -3 0zM276.20 51.00a1.5 1.5 0 1 0 3 0a1.5 1.5 0 1 0 -3 0zM262.10 55.80a1.5 1.5 0 1 0 3 0a1.5 1.5 0 1 0 -3 0zM267.00 55.00a1.5 1.5 0 1 0 3 0a1.5 1.5 0 1 0 -3 0zM272.30 56.50a1.5 1.5 0 1 0 3 0a1.5 1.5 0 1 0 -3 0zM275.80 54.60a1.5 1.5 0 1 0 3 0a1.5 1.5 0 1 0 -3 0zM257.30 59.20a1.5 1.5 0 1 0 3 0a1.5 1.5 0 1 0 -3 0zM260.80 59.50a1.5 1.5 0 1 0 3 0a1.5 1.5 0 1 0 -3 0zM265.00 58.20a1.5 1.5 0 1 0 3 0a1.5 1.5 0 1 0 -3 0zM269.30 59.20a1.5 1.5 0 1 0 3 0a1.5 1.5 0 1 0 -3 0zM275.40 57.70a1.5 1.5 0 1 0 3 0a1.5 1.5 0 1 0 -3 0zM279.70 58.80a1.5 1.5 0 1 0 3 0a1.5 1.5 0 1 0 -3 0zM283.90 60.80a1.5 1.5 0 1 0 3 0a1.5 1.5 0 1 0 -3 0zM258.10 64.10a1.5 1.5 0 1 0 3 0a1.5 1.5 0 1 0 -3 0zM262.00 62.80a1.5 1.5 0 1 0 3 0a1.5 1.5 0 1 0 -3 0zM265.40 62.50a1.5 1.5 0 1 0 3 0a1.5 1.5 0 1 0 -3 0zM272.60 62.80a1.5 1.5 0 1 0 3 0a1.5 1.5 0 1 0 -3 0zM276.60 62.30a1.5 1.5 0 1 0 3 0a1.5 1.5 0 1 0 -3 0zM280.00 63.10a1.5 1.5 0 1 0 3 0a1.5 1.5 0 1 0 -3 0zM283.10 64.20a1.5 1.5 0 1 0 3 0a1.5 1.5 0 1 0 -3 0zM262.70 65.60a1.5 1.5 0 1 0 3 0a1.5 1.5 0 1 0 -3 0zM268.90 65.40a1.5 1.5 0 1 0 3 0a1.5 1.5 0 1 0 -3 0zM275.80 65.80a1.5 1.5 0 1 0 3 0a1.5 1.5 0 1 0 -3 0zM280.00 66.20a1.5 1.5 0 1 0 3 0a1.5 1.5 0 1 0 -3 0zM255.80 68.50a1.5 1.5 0 1 0 3 0a1.5 1.5 0 1 0 -3 0zM259.00 68.10a1.5 1.5 0 1 0 3 0a1.5 1.5 0 1 0 -3 0zM265.00 67.70a1.5 1.5 0 1 0 3 0a1.5 1.5 0 1 0 -3 0zM272.30 67.70a1.5 1.5 0 1 0 3 0a1.5 1.5 0 1 0 -3 0zM278.90 69.80a1.5 1.5 0 1 0 3 0a1.5 1.5 0 1 0 -3 0zM283.50 69.20a1.5 1.5 0 1 0 3 0a1.5 1.5 0 1 0 -3 0zM254.10 72.30a1.5 1.5 0 1 0 3 0a1.5 1.5 0 1 0 -3 0zM258.90 71.90a1.5 1.5 0 1 0 3 0a1.5 1.5 0 1 0 -3 0zM262.60 70.00a1.5 1.5 0 1 0 3 0a1.5 1.5 0 1 0 -3 0zM268.90 72.30a1.5 1.5 0 1 0 3 0a1.5 1.5 0 1 0 -3 0zM273.10 71.50a1.5 1.5 0 1 0 3 0a1.5 1.5 0 1 0 -3 0zM275.80 73.10a1.5 1.5 0 1 0 3 0a1.5 1.5 0 1 0 -3 0zM259.70 75.60a1.5 1.5 0 1 0 3 0a1.5 1.5 0 1 0 -3 0zM265.00 73.50a1.5 1.5 0 1 0 3 0a1.5 1.5 0 1 0 -3 0zM267.00 76.55a1.5 1.5 0 1 0 3 0a1.5 1.5 0 1 0 -3 0zM272.30 75.40a1.5 1.5 0 1 0 3 0a1.5 1.5 0 1 0 -3 0zM276.60 76.35a1.5 1.5 0 1 0 3 0a1.5 1.5 0 1 0 -3 0zM280.20 76.20a1.5 1.5 0 1 0 3 0a1.5 1.5 0 1 0 -3 0zM282.30 72.30a1.5 1.5 0 1 0 3 0a1.5 1.5 0 1 0 -3 0zM267.90 81.50a1.5 1.5 0 1 0 3 0a1.5 1.5 0 1 0 -3 0zM272.15 78.65a1.5 1.5 0 1 0 3 0a1.5 1.5 0 1 0 -3 0zM275.25 81.35a1.5 1.5 0 1 0 3 0a1.5 1.5 0 1 0 -3 0zM272.15 82.85a1.5 1.5 0 1 0 3 0a1.5 1.5 0 1 0 -3 0zM276.00 84.25a1.5 1.5 0 1 0 3 0a1.5 1.5 0 1 0 -3 0zM280.20 82.90a1.5 1.5 0 1 0 3 0a1.5 1.5 0 1 0 -3 0zM271.20 85.00a1.5 1.5 0 1 0 3 0a1.5 1.5 0 1 0 -3 0zM269.30 88.10a1.5 1.5 0 1 0 3 0a1.5 1.5 0 1 0 -3 0zM273.50 88.10a1.5 1.5 0 1 0 3 0a1.5 1.5 0 1 0 -3 0zM277.70 89.20a1.5 1.5 0 1 0 3 0a1.5 1.5 0 1 0 -3 0zM285.80 86.50a1.5 1.5 0 1 0 3 0a1.5 1.5 0 1 0 -3 0zM260.80 91.90a1.5 1.5 0 1 0 3 0a1.5 1.5 0 1 0 -3 0zM268.50 91.50a1.5 1.5 0 1 0 3 0a1.5 1.5 0 1 0 -3 0zM272.70 91.50a1.5 1.5 0 1 0 3 0a1.5 1.5 0 1 0 -3 0zM277.00 93.10a1.5 1.5 0 1 0 3 0a1.5 1.5 0 1 0 -3 0zM280.40 93.80a1.5 1.5 0 1 0 3 0a1.5 1.5 0 1 0 -3 0zM273.50 95.00a1.5 1.5 0 1 0 3 0a1.5 1.5 0 1 0 -3 0zM267.30 98.10a1.5 1.5 0 1 0 3 0a1.5 1.5 0 1 0 -3 0zM270.80 98.50a1.5 1.5 0 1 0 3 0a1.5 1.5 0 1 0 -3 0zM274.30 98.50a1.5 1.5 0 1 0 3 0a1.5 1.5 0 1 0 -3 0zM283.10 104.10a1.5 1.5 0 1 0 3 0a1.5 1.5 0 1 0 -3 0zM287.00 83.10a1.5 1.5 0 1 0 3 0a1.5 1.5 0 1 0 -3 0zM267.85 85.16a1.5 1.5 0 1 0 3 0a1.5 1.5 0 1 0 -3 0zM264.75 90.77a1.5 1.5 0 1 0 3 0a1.5 1.5 0 1 0 -3 0zM259.00 54.99a1.5 1.5 0 1 0 3 0a1.5 1.5 0 1 0 -3 0zM280.94 79.34a1.5 1.5 0 1 0 3 0a1.5 1.5 0 1 0 -3 0zM268.41 68.76a1.5 1.5 0 1 0 3 0a1.5 1.5 0 1 0 -3 0zM278.74 85.97a1.5 1.5 0 1 0 3 0a1.5 1.5 0 1 0 -3 0zM262.93 76.27a1.5 1.5 0 1 0 3 0a1.5 1.5 0 1 0 -3 0zM273.01 53.02a1.5 1.5 0 1 0 3 0a1.5 1.5 0 1 0 -3 0z" fill="#4b0f5f"/>
<use href="#ee" x="189.9" y="223.6"/>
<path d="M214.95 238.10a1.95 1.95 0 1 0 3.9 0a1.95 1.95 0 1 0 -3.9 0zM222.35 235.70a1.95 1.95 0 1 0 3.9 0a1.95 1.95 0 1 0 -3.9 0zM230.05 238.10a1.95 1.95 0 1 0 3.9 0a1.95 1.95 0 1 0 -3.9 0zM226.35 239.50a1.95 1.95 0 1 0 3.9 0a1.95 1.95 0 1 0 -3.9 0zM213.75 242.80a1.95 1.95 0 1 0 3.9 0a1.95 1.95 0 1 0 -3.9 0zM217.45 240.60a1.95 1.95 0 1 0 3.9 0a1.95 1.95 0 1 0 -3.9 0zM217.95 246.50a1.95 1.95 0 1 0 3.9 0a1.95 1.95 0 1 0 -3.9 0zM232.25 247.20a1.95 1.95 0 1 0 3.9 0a1.95 1.95 0 1 0 -3.9 0zM238.15 246.50a1.95 1.95 0 1 0 3.9 0a1.95 1.95 0 1 0 -3.9 0zM216.75 254.60a1.95 1.95 0 1 0 3.9 0a1.95 1.95 0 1 0 -3.9 0zM224.15 254.60a1.95 1.95 0 1 0 3.9 0a1.95 1.95 0 1 0 -3.9 0zM227.85 256.10a1.95 1.95 0 1 0 3.9 0a1.95 1.95 0 1 0 -3.9 0zM231.85 255.80a1.95 1.95 0 1 0 3.9 0a1.95 1.95 0 1 0 -3.9 0zM215.25 260.20a1.95 1.95 0 1 0 3.9 0a1.95 1.95 0 1 0 -3.9 0zM227.35 259.10a1.95 1.95 0 1 0 3.9 0a1.95 1.95 0 1 0 -3.9 0zM201.95 263.80a1.95 1.95 0 1 0 3.9 0a1.95 1.95 0 1 0 -3.9 0zM238.15 264.20a1.95 1.95 0 1 0 3.9 0a1.95 1.95 0 1 0 -3.9 0zM250.45 264.70a1.95 1.95 0 1 0 3.9 0a1.95 1.95 0 1 0 -3.9 0zM254.85 263.80a1.95 1.95 0 1 0 3.9 0a1.95 1.95 0 1 0 -3.9 0zM215.25 268.70a1.95 1.95 0 1 0 3.9 0a1.95 1.95 0 1 0 -3.9 0zM225.25 265.30a1.95 1.95 0 1 0 3.9 0a1.95 1.95 0 1 0 -3.9 0zM228.55 267.20a1.95 1.95 0 1 0 3.9 0a1.95 1.95 0 1 0 -3.9 0zM231.55 269.40a1.95 1.95 0 1 0 3.9 0a1.95 1.95 0 1 0 -3.9 0zM235.95 268.20a1.95 1.95 0 1 0 3.9 0a1.95 1.95 0 1 0 -3.9 0zM201.15 272.40a1.95 1.95 0 1 0 3.9 0a1.95 1.95 0 1 0 -3.9 0zM205.65 271.20a1.95 1.95 0 1 0 3.9 0a1.95 1.95 0 1 0 -3.9 0zM221.85 272.10a1.95 1.95 0 1 0 3.9 0a1.95 1.95 0 1 0 -3.9 0zM226.35 275.00a1.95 1.95 0 1 0 3.9 0a1.95 1.95 0 1 0 -3.9 0zM230.05 272.70a1.95 1.95 0 1 0 3.9 0a1.95 1.95 0 1 0 -3.9 0zM247.05 273.60a1.95 1.95 0 1 0 3.9 0a1.95 1.95 0 1 0 -3.9 0zM215.25 275.60a1.95 1.95 0 1 0 3.9 0a1.95 1.95 0 1 0 -3.9 0zM197.45 278.60a1.95 1.95 0 1 0 3.9 0a1.95 1.95 0 1 0 -3.9 0zM210.05 278.00a1.95 1.95 0 1 0 3.9 0a1.95 1.95 0 1 0 -3.9 0zM201.65 277.10a1.95 1.95 0 1 0 3.9 0a1.95 1.95 0 1 0 -3.9 0zM215.25 279.80a1.95 1.95 0 1 0 3.9 0a1.95 1.95 0 1 0 -3.9 0zM224.15 280.50a1.95 1.95 0 1 0 3.9 0a1.95 1.95 0 1 0 -3.9 0zM227.35 279.00a1.95 1.95 0 1 0 3.9 0a1.95 1.95 0 1 0 -3.9 0zM233.75 277.10a1.95 1.95 0 1 0 3.9 0a1.95 1.95 0 1 0 -3.9 0zM246.05 278.60a1.95 1.95 0 1 0 3.9 0a1.95 1.95 0 1 0 -3.9 0zM207.15 284.20a1.95 1.95 0 1 0 3.9 0a1.95 1.95 0 1 0 -3.9 0zM211.55 283.50a1.95 1.95 0 1 0 3.9 0a1.95 1.95 0 1 0 -3.9 0zM213.75 285.00a1.95 1.95 0 1 0 3.9 0a1.95 1.95 0 1 0 -3.9 0zM219.65 284.50a1.95 1.95 0 1 0 3.9 0a1.95 1.95 0 1 0 -3.9 0zM226.35 285.40a1.95 1.95 0 1 0 3.9 0a1.95 1.95 0 1 0 -3.9 0zM232.25 285.70a1.95 1.95 0 1 0 3.9 0a1.95 1.95 0 1 0 -3.9 0zM223.35 281.00a1.95 1.95 0 1 0 3.9 0a1.95 1.95 0 1 0 -3.9 0zM241.85 287.90a1.95 1.95 0 1 0 3.9 0a1.95 1.95 0 1 0 -3.9 0zM199.25 289.40a1.95 1.95 0 1 0 3.9 0a1.95 1.95 0 1 0 -3.9 0zM206.65 291.30a1.95 1.95 0 1 0 3.9 0a1.95 1.95 0 1 0 -3.9 0zM213.75 288.40a1.95 1.95 0 1 0 3.9 0a1.95 1.95 0 1 0 -3.9 0zM215.25 292.30a1.95 1.95 0 1 0 3.9 0a1.95 1.95 0 1 0 -3.9 0zM221.85 293.10a1.95 1.95 0 1 0 3.9 0a1.95 1.95 0 1 0 -3.9 0zM225.55 290.90a1.95 1.95 0 1 0 3.9 0a1.95 1.95 0 1 0 -3.9 0z" fill="#f2cfe0"/>
<use href="#en" x="189.9" y="223.6"/>
<path d="M214.95 238.10a1.95 1.95 0 1 0 3.9 0a1.95 1.95 0 1 0 -3.9 0zM222.35 235.70a1.95 1.95 0 1 0 3.9 0a1.95 1.95 0 1 0 -3.9 0zM230.05 238.10a1.95 1.95 0 1 0 3.9 0a1.95 1.95 0 1 0 -3.9 0zM226.35 239.50a1.95 1.95 0 1 0 3.9 0a1.95 1.95 0 1 0 -3.9 0zM213.75 242.80a1.95 1.95 0 1 0 3.9 0a1.95 1.95 0 1 0 -3.9 0zM217.45 240.60a1.95 1.95 0 1 0 3.9 0a1.95 1.95 0 1 0 -3.9 0zM217.95 246.50a1.95 1.95 0 1 0 3.9 0a1.95 1.95 0 1 0 -3.9 0zM232.25 247.20a1.95 1.95 0 1 0 3.9 0a1.95 1.95 0 1 0 -3.9 0zM238.15 246.50a1.95 1.95 0 1 0 3.9 0a1.95 1.95 0 1 0 -3.9 0zM216.75 254.60a1.95 1.95 0 1 0 3.9 0a1.95 1.95 0 1 0 -3.9 0zM224.15 254.60a1.95 1.95 0 1 0 3.9 0a1.95 1.95 0 1 0 -3.9 0zM227.85 256.10a1.95 1.95 0 1 0 3.9 0a1.95 1.95 0 1 0 -3.9 0zM231.85 255.80a1.95 1.95 0 1 0 3.9 0a1.95 1.95 0 1 0 -3.9 0zM215.25 260.20a1.95 1.95 0 1 0 3.9 0a1.95 1.95 0 1 0 -3.9 0zM227.35 259.10a1.95 1.95 0 1 0 3.9 0a1.95 1.95 0 1 0 -3.9 0zM201.95 263.80a1.95 1.95 0 1 0 3.9 0a1.95 1.95 0 1 0 -3.9 0zM238.15 264.20a1.95 1.95 0 1 0 3.9 0a1.95 1.95 0 1 0 -3.9 0zM250.45 264.70a1.95 1.95 0 1 0 3.9 0a1.95 1.95 0 1 0 -3.9 0zM254.85 263.80a1.95 1.95 0 1 0 3.9 0a1.95 1.95 0 1 0 -3.9 0zM215.25 268.70a1.95 1.95 0 1 0 3.9 0a1.95 1.95 0 1 0 -3.9 0zM225.25 265.30a1.95 1.95 0 1 0 3.9 0a1.95 1.95 0 1 0 -3.9 0zM228.55 267.20a1.95 1.95 0 1 0 3.9 0a1.95 1.95 0 1 0 -3.9 0zM231.55 269.40a1.95 1.95 0 1 0 3.9 0a1.95 1.95 0 1 0 -3.9 0zM235.95 268.20a1.95 1.95 0 1 0 3.9 0a1.95 1.95 0 1 0 -3.9 0zM201.15 272.40a1.95 1.95 0 1 0 3.9 0a1.95 1.95 0 1 0 -3.9 0zM205.65 271.20a1.95 1.95 0 1 0 3.9 0a1.95 1.95 0 1 0 -3.9 0zM221.85 272.10a1.95 1.95 0 1 0 3.9 0a1.95 1.95 0 1 0 -3.9 0zM226.35 275.00a1.95 1.95 0 1 0 3.9 0a1.95 1.95 0 1 0 -3.9 0zM230.05 272.70a1.95 1.95 0 1 0 3.9 0a1.95 1.95 0 1 0 -3.9 0zM247.05 273.60a1.95 1.95 0 1 0 3.9 0a1.95 1.95 0 1 0 -3.9 0zM215.25 275.60a1.95 1.95 0 1 0 3.9 0a1.95 1.95 0 1 0 -3.9 0zM197.45 278.60a1.95 1.95 0 1 0 3.9 0a1.95 1.95 0 1 0 -3.9 0zM210.05 278.00a1.95 1.95 0 1 0 3.9 0a1.95 1.95 0 1 0 -3.9 0zM201.65 277.10a1.95 1.95 0 1 0 3.9 0a1.95 1.95 0 1 0 -3.9 0zM215.25 279.80a1.95 1.95 0 1 0 3.9 0a1.95 1.95 0 1 0 -3.9 0zM224.15 280.50a1.95 1.95 0 1 0 3.9 0a1.95 1.95 0 1 0 -3.9 0zM227.35 279.00a1.95 1.95 0 1 0 3.9 0a1.95 1.95 0 1 0 -3.9 0zM233.75 277.10a1.95 1.95 0 1 0 3.9 0a1.95 1.95 0 1 0 -3.9 0zM246.05 278.60a1.95 1.95 0 1 0 3.9 0a1.95 1.95 0 1 0 -3.9 0zM207.15 284.20a1.95 1.95 0 1 0 3.9 0a1.95 1.95 0 1 0 -3.9 0zM211.55 283.50a1.95 1.95 0 1 0 3.9 0a1.95 1.95 0 1 0 -3.9 0zM213.75 285.00a1.95 1.95 0 1 0 3.9 0a1.95 1.95 0 1 0 -3.9 0zM219.65 284.50a1.95 1.95 0 1 0 3.9 0a1.95 1.95 0 1 0 -3.9 0zM226.35 285.40a1.95 1.95 0 1 0 3.9 0a1.95 1.95 0 1 0 -3.9 0zM232.25 285.70a1.95 1.95 0 1 0 3.9 0a1.95 1.95 0 1 0 -3.9 0zM223.35 281.00a1.95 1.95 0 1 0 3.9 0a1.95 1.95 0 1 0 -3.9 0zM241.85 287.90a1.95 1.95 0 1 0 3.9 0a1.95 1.95 0 1 0 -3.9 0zM199.25 289.40a1.95 1.95 0 1 0 3.9 0a1.95 1.95 0 1 0 -3.9 0zM206.65 291.30a1.95 1.95 0 1 0 3.9 0a1.95 1.95 0 1 0 -3.9 0zM213.75 288.40a1.95 1.95 0 1 0 3.9 0a1.95 1.95 0 1 0 -3.9 0zM215.25 292.30a1.95 1.95 0 1 0 3.9 0a1.95 1.95 0 1 0 -3.9 0zM221.85 293.10a1.95 1.95 0 1 0 3.9 0a1.95 1.95 0 1 0 -3.9 0zM225.55 290.90a1.95 1.95 0 1 0 3.9 0a1.95 1.95 0 1 0 -3.9 0z" fill="none" stroke="#0f5692" stroke-width="1.15"/>
<use href="#ee" x="189.5" y="330.8"/>
<use href="#en" x="189.5" y="330.8"/>
<path d="M225.75 359.20a1.95 1.95 0 1 0 3.9 0a1.95 1.95 0 1 0 -3.9 0zM228.05 358.50a1.95 1.95 0 1 0 3.9 0a1.95 1.95 0 1 0 -3.9 0zM230.35 358.80a1.95 1.95 0 1 0 3.9 0a1.95 1.95 0 1 0 -3.9 0zM232.65 359.20a1.95 1.95 0 1 0 3.9 0a1.95 1.95 0 1 0 -3.9 0zM234.55 360.40a1.95 1.95 0 1 0 3.9 0a1.95 1.95 0 1 0 -3.9 0zM226.55 362.30a1.95 1.95 0 1 0 3.9 0a1.95 1.95 0 1 0 -3.9 0zM228.85 363.10a1.95 1.95 0 1 0 3.9 0a1.95 1.95 0 1 0 -3.9 0zM231.15 362.30a1.95 1.95 0 1 0 3.9 0a1.95 1.95 0 1 0 -3.9 0zM233.45 361.50a1.95 1.95 0 1 0 3.9 0a1.95 1.95 0 1 0 -3.9 0zM234.95 362.70a1.95 1.95 0 1 0 3.9 0a1.95 1.95 0 1 0 -3.9 0zM229.55 366.20a1.95 1.95 0 1 0 3.9 0a1.95 1.95 0 1 0 -3.9 0zM231.85 364.60a1.95 1.95 0 1 0 3.9 0a1.95 1.95 0 1 0 -3.9 0zM223.05 360.40a1.95 1.95 0 1 0 3.9 0a1.95 1.95 0 1 0 -3.9 0z" fill="#2a6394" stroke="#0f5692" stroke-width="1.15"/>
<g clip-path="url(#cp189330)"><use href="#enp" x="189.5" y="330.8"/></g>
<circle cx="217.30" cy="350.40" r="2.0" fill="#f2cfe0" stroke="#0f5692" stroke-width="1.05"/>
<circle cx="217.30" cy="350.40" r="0.65" fill="#8a3d8f" stroke="none" stroke-width="1"/>
<circle cx="240.00" cy="354.20" r="2.0" fill="#f2cfe0" stroke="#0f5692" stroke-width="1.05"/>
<circle cx="240.00" cy="354.20" r="0.65" fill="#8a3d8f" stroke="none" stroke-width="1"/>
<circle cx="221.50" cy="357.30" r="2.0" fill="#f2cfe0" stroke="#0f5692" stroke-width="1.05"/>
<circle cx="221.50" cy="357.30" r="0.65" fill="#8a3d8f" stroke="none" stroke-width="1"/>
<use href="#ee" x="192.6" y="438.8"/>
<path d="M220.45 448.30a1.95 1.95 0 1 0 3.9 0a1.95 1.95 0 1 0 -3.9 0zM209.05 461.30a1.95 1.95 0 1 0 3.9 0a1.95 1.95 0 1 0 -3.9 0zM219.65 462.40a1.95 1.95 0 1 0 3.9 0a1.95 1.95 0 1 0 -3.9 0zM224.85 461.30a1.95 1.95 0 1 0 3.9 0a1.95 1.95 0 1 0 -3.9 0zM228.55 463.80a1.95 1.95 0 1 0 3.9 0a1.95 1.95 0 1 0 -3.9 0zM235.95 463.40a1.95 1.95 0 1 0 3.9 0a1.95 1.95 0 1 0 -3.9 0zM235.25 466.10a1.95 1.95 0 1 0 3.9 0a1.95 1.95 0 1 0 -3.9 0zM218.95 469.80a1.95 1.95 0 1 0 3.9 0a1.95 1.95 0 1 0 -3.9 0zM222.65 467.50a1.95 1.95 0 1 0 3.9 0a1.95 1.95 0 1 0 -3.9 0zM226.35 469.80a1.95 1.95 0 1 0 3.9 0a1.95 1.95 0 1 0 -3.9 0zM201.15 472.00a1.95 1.95 0 1 0 3.9 0a1.95 1.95 0 1 0 -3.9 0zM207.85 470.50a1.95 1.95 0 1 0 3.9 0a1.95 1.95 0 1 0 -3.9 0zM204.85 474.20a1.95 1.95 0 1 0 3.9 0a1.95 1.95 0 1 0 -3.9 0zM201.15 476.40a1.95 1.95 0 1 0 3.9 0a1.95 1.95 0 1 0 -3.9 0zM204.15 478.60a1.95 1.95 0 1 0 3.9 0a1.95 1.95 0 1 0 -3.9 0zM207.85 477.90a1.95 1.95 0 1 0 3.9 0a1.95 1.95 0 1 0 -3.9 0zM221.15 478.60a1.95 1.95 0 1 0 3.9 0a1.95 1.95 0 1 0 -3.9 0zM227.05 479.40a1.95 1.95 0 1 0 3.9 0a1.95 1.95 0 1 0 -3.9 0zM217.45 483.10a1.95 1.95 0 1 0 3.9 0a1.95 1.95 0 1 0 -3.9 0zM229.25 483.10a1.95 1.95 0 1 0 3.9 0a1.95 1.95 0 1 0 -3.9 0zM233.05 483.80a1.95 1.95 0 1 0 3.9 0a1.95 1.95 0 1 0 -3.9 0zM203.45 486.80a1.95 1.95 0 1 0 3.9 0a1.95 1.95 0 1 0 -3.9 0zM207.85 486.00a1.95 1.95 0 1 0 3.9 0a1.95 1.95 0 1 0 -3.9 0zM219.65 486.80a1.95 1.95 0 1 0 3.9 0a1.95 1.95 0 1 0 -3.9 0zM224.15 486.80a1.95 1.95 0 1 0 3.9 0a1.95 1.95 0 1 0 -3.9 0zM232.25 487.50a1.95 1.95 0 1 0 3.9 0a1.95 1.95 0 1 0 -3.9 0zM199.75 493.40a1.95 1.95 0 1 0 3.9 0a1.95 1.95 0 1 0 -3.9 0zM204.15 491.20a1.95 1.95 0 1 0 3.9 0a1.95 1.95 0 1 0 -3.9 0zM208.55 490.50a1.95 1.95 0 1 0 3.9 0a1.95 1.95 0 1 0 -3.9 0zM213.75 489.70a1.95 1.95 0 1 0 3.9 0a1.95 1.95 0 1 0 -3.9 0zM218.15 490.50a1.95 1.95 0 1 0 3.9 0a1.95 1.95 0 1 0 -3.9 0zM222.65 491.20a1.95 1.95 0 1 0 3.9 0a1.95 1.95 0 1 0 -3.9 0zM228.55 489.70a1.95 1.95 0 1 0 3.9 0a1.95 1.95 0 1 0 -3.9 0zM234.45 489.70a1.95 1.95 0 1 0 3.9 0a1.95 1.95 0 1 0 -3.9 0zM238.95 490.50a1.95 1.95 0 1 0 3.9 0a1.95 1.95 0 1 0 -3.9 0zM244.05 490.00a1.95 1.95 0 1 0 3.9 0a1.95 1.95 0 1 0 -3.9 0zM247.75 492.70a1.95 1.95 0 1 0 3.9 0a1.95 1.95 0 1 0 -3.9 0zM257.35 487.50a1.95 1.95 0 1 0 3.9 0a1.95 1.95 0 1 0 -3.9 0zM207.85 494.90a1.95 1.95 0 1 0 3.9 0a1.95 1.95 0 1 0 -3.9 0zM212.25 493.40a1.95 1.95 0 1 0 3.9 0a1.95 1.95 0 1 0 -3.9 0zM216.75 494.90a1.95 1.95 0 1 0 3.9 0a1.95 1.95 0 1 0 -3.9 0zM221.85 493.40a1.95 1.95 0 1 0 3.9 0a1.95 1.95 0 1 0 -3.9 0zM228.55 494.20a1.95 1.95 0 1 0 3.9 0a1.95 1.95 0 1 0 -3.9 0zM241.15 493.40a1.95 1.95 0 1 0 3.9 0a1.95 1.95 0 1 0 -3.9 0zM205.65 500.80a1.95 1.95 0 1 0 3.9 0a1.95 1.95 0 1 0 -3.9 0zM211.55 498.60a1.95 1.95 0 1 0 3.9 0a1.95 1.95 0 1 0 -3.9 0zM216.75 498.60a1.95 1.95 0 1 0 3.9 0a1.95 1.95 0 1 0 -3.9 0zM221.85 498.60a1.95 1.95 0 1 0 3.9 0a1.95 1.95 0 1 0 -3.9 0zM226.35 497.90a1.95 1.95 0 1 0 3.9 0a1.95 1.95 0 1 0 -3.9 0zM201.15 503.80a1.95 1.95 0 1 0 3.9 0a1.95 1.95 0 1 0 -3.9 0zM209.35 504.50a1.95 1.95 0 1 0 3.9 0a1.95 1.95 0 1 0 -3.9 0zM217.45 506.70a1.95 1.95 0 1 0 3.9 0a1.95 1.95 0 1 0 -3.9 0zM222.65 502.30a1.95 1.95 0 1 0 3.9 0a1.95 1.95 0 1 0 -3.9 0zM227.05 513.40a1.95 1.95 0 1 0 3.9 0a1.95 1.95 0 1 0 -3.9 0z" fill="#f2cfe0"/>
<use href="#en" x="192.6" y="438.8"/>
<path d="M220.45 448.30a1.95 1.95 0 1 0 3.9 0a1.95 1.95 0 1 0 -3.9 0zM209.05 461.30a1.95 1.95 0 1 0 3.9 0a1.95 1.95 0 1 0 -3.9 0zM219.65 462.40a1.95 1.95 0 1 0 3.9 0a1.95 1.95 0 1 0 -3.9 0zM224.85 461.30a1.95 1.95 0 1 0 3.9 0a1.95 1.95 0 1 0 -3.9 0zM228.55 463.80a1.95 1.95 0 1 0 3.9 0a1.95 1.95 0 1 0 -3.9 0zM235.95 463.40a1.95 1.95 0 1 0 3.9 0a1.95 1.95 0 1 0 -3.9 0zM235.25 466.10a1.95 1.95 0 1 0 3.9 0a1.95 1.95 0 1 0 -3.9 0zM218.95 469.80a1.95 1.95 0 1 0 3.9 0a1.95 1.95 0 1 0 -3.9 0zM222.65 467.50a1.95 1.95 0 1 0 3.9 0a1.95 1.95 0 1 0 -3.9 0zM226.35 469.80a1.95 1.95 0 1 0 3.9 0a1.95 1.95 0 1 0 -3.9 0zM201.15 472.00a1.95 1.95 0 1 0 3.9 0a1.95 1.95 0 1 0 -3.9 0zM207.85 470.50a1.95 1.95 0 1 0 3.9 0a1.95 1.95 0 1 0 -3.9 0zM204.85 474.20a1.95 1.95 0 1 0 3.9 0a1.95 1.95 0 1 0 -3.9 0zM201.15 476.40a1.95 1.95 0 1 0 3.9 0a1.95 1.95 0 1 0 -3.9 0zM204.15 478.60a1.95 1.95 0 1 0 3.9 0a1.95 1.95 0 1 0 -3.9 0zM207.85 477.90a1.95 1.95 0 1 0 3.9 0a1.95 1.95 0 1 0 -3.9 0zM221.15 478.60a1.95 1.95 0 1 0 3.9 0a1.95 1.95 0 1 0 -3.9 0zM227.05 479.40a1.95 1.95 0 1 0 3.9 0a1.95 1.95 0 1 0 -3.9 0zM217.45 483.10a1.95 1.95 0 1 0 3.9 0a1.95 1.95 0 1 0 -3.9 0zM229.25 483.10a1.95 1.95 0 1 0 3.9 0a1.95 1.95 0 1 0 -3.9 0zM233.05 483.80a1.95 1.95 0 1 0 3.9 0a1.95 1.95 0 1 0 -3.9 0zM203.45 486.80a1.95 1.95 0 1 0 3.9 0a1.95 1.95 0 1 0 -3.9 0zM207.85 486.00a1.95 1.95 0 1 0 3.9 0a1.95 1.95 0 1 0 -3.9 0zM219.65 486.80a1.95 1.95 0 1 0 3.9 0a1.95 1.95 0 1 0 -3.9 0zM224.15 486.80a1.95 1.95 0 1 0 3.9 0a1.95 1.95 0 1 0 -3.9 0zM232.25 487.50a1.95 1.95 0 1 0 3.9 0a1.95 1.95 0 1 0 -3.9 0zM199.75 493.40a1.95 1.95 0 1 0 3.9 0a1.95 1.95 0 1 0 -3.9 0zM204.15 491.20a1.95 1.95 0 1 0 3.9 0a1.95 1.95 0 1 0 -3.9 0zM208.55 490.50a1.95 1.95 0 1 0 3.9 0a1.95 1.95 0 1 0 -3.9 0zM213.75 489.70a1.95 1.95 0 1 0 3.9 0a1.95 1.95 0 1 0 -3.9 0zM218.15 490.50a1.95 1.95 0 1 0 3.9 0a1.95 1.95 0 1 0 -3.9 0zM222.65 491.20a1.95 1.95 0 1 0 3.9 0a1.95 1.95 0 1 0 -3.9 0zM228.55 489.70a1.95 1.95 0 1 0 3.9 0a1.95 1.95 0 1 0 -3.9 0zM234.45 489.70a1.95 1.95 0 1 0 3.9 0a1.95 1.95 0 1 0 -3.9 0zM238.95 490.50a1.95 1.95 0 1 0 3.9 0a1.95 1.95 0 1 0 -3.9 0zM244.05 490.00a1.95 1.95 0 1 0 3.9 0a1.95 1.95 0 1 0 -3.9 0zM247.75 492.70a1.95 1.95 0 1 0 3.9 0a1.95 1.95 0 1 0 -3.9 0zM257.35 487.50a1.95 1.95 0 1 0 3.9 0a1.95 1.95 0 1 0 -3.9 0zM207.85 494.90a1.95 1.95 0 1 0 3.9 0a1.95 1.95 0 1 0 -3.9 0zM212.25 493.40a1.95 1.95 0 1 0 3.9 0a1.95 1.95 0 1 0 -3.9 0zM216.75 494.90a1.95 1.95 0 1 0 3.9 0a1.95 1.95 0 1 0 -3.9 0zM221.85 493.40a1.95 1.95 0 1 0 3.9 0a1.95 1.95 0 1 0 -3.9 0zM228.55 494.20a1.95 1.95 0 1 0 3.9 0a1.95 1.95 0 1 0 -3.9 0zM241.15 493.40a1.95 1.95 0 1 0 3.9 0a1.95 1.95 0 1 0 -3.9 0zM205.65 500.80a1.95 1.95 0 1 0 3.9 0a1.95 1.95 0 1 0 -3.9 0zM211.55 498.60a1.95 1.95 0 1 0 3.9 0a1.95 1.95 0 1 0 -3.9 0zM216.75 498.60a1.95 1.95 0 1 0 3.9 0a1.95 1.95 0 1 0 -3.9 0zM221.85 498.60a1.95 1.95 0 1 0 3.9 0a1.95 1.95 0 1 0 -3.9 0zM226.35 497.90a1.95 1.95 0 1 0 3.9 0a1.95 1.95 0 1 0 -3.9 0zM201.15 503.80a1.95 1.95 0 1 0 3.9 0a1.95 1.95 0 1 0 -3.9 0zM209.35 504.50a1.95 1.95 0 1 0 3.9 0a1.95 1.95 0 1 0 -3.9 0zM217.45 506.70a1.95 1.95 0 1 0 3.9 0a1.95 1.95 0 1 0 -3.9 0zM222.65 502.30a1.95 1.95 0 1 0 3.9 0a1.95 1.95 0 1 0 -3.9 0zM227.05 513.40a1.95 1.95 0 1 0 3.9 0a1.95 1.95 0 1 0 -3.9 0z" fill="none" stroke="#0f5692" stroke-width="1.15"/>
<use href="#ee" x="353.8" y="222.9"/>
<use href="#en" x="353.8" y="222.9"/>
<path d="M375.71 238.55a1.95 1.95 0 1 0 3.9 0a1.95 1.95 0 1 0 -3.9 0zM375.90 243.42a1.95 1.95 0 1 0 3.9 0a1.95 1.95 0 1 0 -3.9 0zM382.70 232.31a1.95 1.95 0 1 0 3.9 0a1.95 1.95 0 1 0 -3.9 0zM388.04 231.21a1.95 1.95 0 1 0 3.9 0a1.95 1.95 0 1 0 -3.9 0zM383.69 235.63a1.95 1.95 0 1 0 3.9 0a1.95 1.95 0 1 0 -3.9 0zM386.33 235.50a1.95 1.95 0 1 0 3.9 0a1.95 1.95 0 1 0 -3.9 0zM378.71 237.42a1.95 1.95 0 1 0 3.9 0a1.95 1.95 0 1 0 -3.9 0zM381.19 237.70a1.95 1.95 0 1 0 3.9 0a1.95 1.95 0 1 0 -3.9 0zM390.35 236.90a1.95 1.95 0 1 0 3.9 0a1.95 1.95 0 1 0 -3.9 0zM394.17 237.23a1.95 1.95 0 1 0 3.9 0a1.95 1.95 0 1 0 -3.9 0zM393.21 240.50a1.95 1.95 0 1 0 3.9 0a1.95 1.95 0 1 0 -3.9 0zM395.71 242.95a1.95 1.95 0 1 0 3.9 0a1.95 1.95 0 1 0 -3.9 0zM376.83 250.99a1.95 1.95 0 1 0 3.9 0a1.95 1.95 0 1 0 -3.9 0zM394.42 246.33a1.95 1.95 0 1 0 3.9 0a1.95 1.95 0 1 0 -3.9 0zM396.64 247.10a1.95 1.95 0 1 0 3.9 0a1.95 1.95 0 1 0 -3.9 0zM398.38 249.63a1.95 1.95 0 1 0 3.9 0a1.95 1.95 0 1 0 -3.9 0zM395.71 250.18a1.95 1.95 0 1 0 3.9 0a1.95 1.95 0 1 0 -3.9 0zM393.03 251.17a1.95 1.95 0 1 0 3.9 0a1.95 1.95 0 1 0 -3.9 0zM392.34 254.94a1.95 1.95 0 1 0 3.9 0a1.95 1.95 0 1 0 -3.9 0zM396.42 252.96a1.95 1.95 0 1 0 3.9 0a1.95 1.95 0 1 0 -3.9 0zM380.96 253.91a1.95 1.95 0 1 0 3.9 0a1.95 1.95 0 1 0 -3.9 0zM384.61 237.91a1.95 1.95 0 1 0 3.9 0a1.95 1.95 0 1 0 -3.9 0zM380.34 239.84a1.95 1.95 0 1 0 3.9 0a1.95 1.95 0 1 0 -3.9 0zM386.08 240.23a1.95 1.95 0 1 0 3.9 0a1.95 1.95 0 1 0 -3.9 0zM377.65 241.71a1.95 1.95 0 1 0 3.9 0a1.95 1.95 0 1 0 -3.9 0zM390.23 241.49a1.95 1.95 0 1 0 3.9 0a1.95 1.95 0 1 0 -3.9 0zM378.10 244.41a1.95 1.95 0 1 0 3.9 0a1.95 1.95 0 1 0 -3.9 0zM380.29 243.69a1.95 1.95 0 1 0 3.9 0a1.95 1.95 0 1 0 -3.9 0zM386.24 243.69a1.95 1.95 0 1 0 3.9 0a1.95 1.95 0 1 0 -3.9 0zM390.40 243.86a1.95 1.95 0 1 0 3.9 0a1.95 1.95 0 1 0 -3.9 0zM384.17 245.12a1.95 1.95 0 1 0 3.9 0a1.95 1.95 0 1 0 -3.9 0zM388.04 245.34a1.95 1.95 0 1 0 3.9 0a1.95 1.95 0 1 0 -3.9 0zM376.80 246.83a1.95 1.95 0 1 0 3.9 0a1.95 1.95 0 1 0 -3.9 0zM381.97 246.39a1.95 1.95 0 1 0 3.9 0a1.95 1.95 0 1 0 -3.9 0zM389.79 247.54a1.95 1.95 0 1 0 3.9 0a1.95 1.95 0 1 0 -3.9 0zM378.55 248.70a1.95 1.95 0 1 0 3.9 0a1.95 1.95 0 1 0 -3.9 0zM384.17 248.92a1.95 1.95 0 1 0 3.9 0a1.95 1.95 0 1 0 -3.9 0zM386.53 248.48a1.95 1.95 0 1 0 3.9 0a1.95 1.95 0 1 0 -3.9 0zM383.10 251.25a1.95 1.95 0 1 0 3.9 0a1.95 1.95 0 1 0 -3.9 0zM388.49 251.14a1.95 1.95 0 1 0 3.9 0a1.95 1.95 0 1 0 -3.9 0zM391.70 248.92a1.95 1.95 0 1 0 3.9 0a1.95 1.95 0 1 0 -3.9 0zM383.60 253.98a1.95 1.95 0 1 0 3.9 0a1.95 1.95 0 1 0 -3.9 0zM385.99 252.41a1.95 1.95 0 1 0 3.9 0a1.95 1.95 0 1 0 -3.9 0zM385.99 254.72a1.95 1.95 0 1 0 3.9 0a1.95 1.95 0 1 0 -3.9 0zM390.93 252.79a1.95 1.95 0 1 0 3.9 0a1.95 1.95 0 1 0 -3.9 0zM389.69 256.43a1.95 1.95 0 1 0 3.9 0a1.95 1.95 0 1 0 -3.9 0z" fill="#2a6394" stroke="#0f5692" stroke-width="1.15"/>
<g clip-path="url(#cp353222)"><use href="#enp" x="353.8" y="222.9"/></g>
<use href="#ee" x="353.1" y="330.5"/>
<use href="#en" x="353.1" y="330.5"/>
<path d="M382.99 343.23a1.95 1.95 0 1 0 3.9 0a1.95 1.95 0 1 0 -3.9 0zM385.63 343.10a1.95 1.95 0 1 0 3.9 0a1.95 1.95 0 1 0 -3.9 0zM378.01 345.02a1.95 1.95 0 1 0 3.9 0a1.95 1.95 0 1 0 -3.9 0zM380.49 345.30a1.95 1.95 0 1 0 3.9 0a1.95 1.95 0 1 0 -3.9 0zM389.65 344.50a1.95 1.95 0 1 0 3.9 0a1.95 1.95 0 1 0 -3.9 0zM393.47 344.83a1.95 1.95 0 1 0 3.9 0a1.95 1.95 0 1 0 -3.9 0zM392.51 348.10a1.95 1.95 0 1 0 3.9 0a1.95 1.95 0 1 0 -3.9 0zM395.01 350.55a1.95 1.95 0 1 0 3.9 0a1.95 1.95 0 1 0 -3.9 0zM393.72 353.93a1.95 1.95 0 1 0 3.9 0a1.95 1.95 0 1 0 -3.9 0zM395.94 354.70a1.95 1.95 0 1 0 3.9 0a1.95 1.95 0 1 0 -3.9 0zM395.01 357.78a1.95 1.95 0 1 0 3.9 0a1.95 1.95 0 1 0 -3.9 0zM392.33 358.77a1.95 1.95 0 1 0 3.9 0a1.95 1.95 0 1 0 -3.9 0zM383.91 345.51a1.95 1.95 0 1 0 3.9 0a1.95 1.95 0 1 0 -3.9 0zM379.64 347.44a1.95 1.95 0 1 0 3.9 0a1.95 1.95 0 1 0 -3.9 0zM385.38 347.82a1.95 1.95 0 1 0 3.9 0a1.95 1.95 0 1 0 -3.9 0zM376.95 349.31a1.95 1.95 0 1 0 3.9 0a1.95 1.95 0 1 0 -3.9 0zM389.53 349.09a1.95 1.95 0 1 0 3.9 0a1.95 1.95 0 1 0 -3.9 0zM377.40 352.00a1.95 1.95 0 1 0 3.9 0a1.95 1.95 0 1 0 -3.9 0zM379.59 351.29a1.95 1.95 0 1 0 3.9 0a1.95 1.95 0 1 0 -3.9 0zM385.54 351.29a1.95 1.95 0 1 0 3.9 0a1.95 1.95 0 1 0 -3.9 0zM389.70 351.45a1.95 1.95 0 1 0 3.9 0a1.95 1.95 0 1 0 -3.9 0zM383.47 352.72a1.95 1.95 0 1 0 3.9 0a1.95 1.95 0 1 0 -3.9 0zM387.34 352.94a1.95 1.95 0 1 0 3.9 0a1.95 1.95 0 1 0 -3.9 0zM381.27 353.99a1.95 1.95 0 1 0 3.9 0a1.95 1.95 0 1 0 -3.9 0zM389.09 355.14a1.95 1.95 0 1 0 3.9 0a1.95 1.95 0 1 0 -3.9 0zM377.85 356.30a1.95 1.95 0 1 0 3.9 0a1.95 1.95 0 1 0 -3.9 0zM383.47 356.51a1.95 1.95 0 1 0 3.9 0a1.95 1.95 0 1 0 -3.9 0zM385.83 356.07a1.95 1.95 0 1 0 3.9 0a1.95 1.95 0 1 0 -3.9 0zM382.40 358.85a1.95 1.95 0 1 0 3.9 0a1.95 1.95 0 1 0 -3.9 0zM387.79 358.74a1.95 1.95 0 1 0 3.9 0a1.95 1.95 0 1 0 -3.9 0zM391.00 356.51a1.95 1.95 0 1 0 3.9 0a1.95 1.95 0 1 0 -3.9 0zM385.29 360.01a1.95 1.95 0 1 0 3.9 0a1.95 1.95 0 1 0 -3.9 0zM390.23 360.39a1.95 1.95 0 1 0 3.9 0a1.95 1.95 0 1 0 -3.9 0z" fill="#2a6394" stroke="#0f5692" stroke-width="1.15"/>
<g clip-path="url(#cp353330)"><use href="#enp" x="353.1" y="330.5"/></g>
<use href="#ee" x="354.6" y="436.5"/>
<use href="#en" x="354.6" y="436.5"/>
<path d="M391.15 450.50a1.95 1.95 0 1 0 3.9 0a1.95 1.95 0 1 0 -3.9 0zM394.01 454.10a1.95 1.95 0 1 0 3.9 0a1.95 1.95 0 1 0 -3.9 0zM396.51 456.55a1.95 1.95 0 1 0 3.9 0a1.95 1.95 0 1 0 -3.9 0zM395.22 459.93a1.95 1.95 0 1 0 3.9 0a1.95 1.95 0 1 0 -3.9 0zM385.41 451.51a1.95 1.95 0 1 0 3.9 0a1.95 1.95 0 1 0 -3.9 0zM386.88 453.82a1.95 1.95 0 1 0 3.9 0a1.95 1.95 0 1 0 -3.9 0zM382.77 454.76a1.95 1.95 0 1 0 3.9 0a1.95 1.95 0 1 0 -3.9 0zM391.03 455.09a1.95 1.95 0 1 0 3.9 0a1.95 1.95 0 1 0 -3.9 0zM381.09 457.29a1.95 1.95 0 1 0 3.9 0a1.95 1.95 0 1 0 -3.9 0zM387.04 457.29a1.95 1.95 0 1 0 3.9 0a1.95 1.95 0 1 0 -3.9 0zM391.20 457.45a1.95 1.95 0 1 0 3.9 0a1.95 1.95 0 1 0 -3.9 0zM384.97 458.72a1.95 1.95 0 1 0 3.9 0a1.95 1.95 0 1 0 -3.9 0zM388.84 458.94a1.95 1.95 0 1 0 3.9 0a1.95 1.95 0 1 0 -3.9 0zM382.77 459.99a1.95 1.95 0 1 0 3.9 0a1.95 1.95 0 1 0 -3.9 0zM390.59 461.14a1.95 1.95 0 1 0 3.9 0a1.95 1.95 0 1 0 -3.9 0zM384.97 462.51a1.95 1.95 0 1 0 3.9 0a1.95 1.95 0 1 0 -3.9 0zM387.33 462.07a1.95 1.95 0 1 0 3.9 0a1.95 1.95 0 1 0 -3.9 0zM392.50 462.51a1.95 1.95 0 1 0 3.9 0a1.95 1.95 0 1 0 -3.9 0z" fill="#2a6394" stroke="#0f5692" stroke-width="1.15"/>
<g clip-path="url(#cp354436)"><use href="#enp" x="354.6" y="436.5"/></g>
<circle cx="416.91" cy="263.93" r="2.0" fill="#f2cfe0" stroke="#0f5692" stroke-width="1.05"/>
<circle cx="416.91" cy="263.93" r="0.65" fill="#8a3d8f" stroke="none" stroke-width="1"/>
<circle cx="420.96" cy="262.77" r="2.0" fill="#f2cfe0" stroke="#0f5692" stroke-width="1.05"/>
<circle cx="420.96" cy="262.77" r="0.65" fill="#8a3d8f" stroke="none" stroke-width="1"/>
<circle cx="376.06" cy="276.97" r="2.0" fill="#f2cfe0" stroke="#0f5692" stroke-width="1.05"/>
<circle cx="376.06" cy="276.97" r="0.65" fill="#8a3d8f" stroke="none" stroke-width="1"/>
<circle cx="398.82" cy="285.00" r="2.0" fill="#f2cfe0" stroke="#0f5692" stroke-width="1.05"/>
<circle cx="398.82" cy="285.00" r="0.65" fill="#8a3d8f" stroke="none" stroke-width="1"/>
<circle cx="398.12" cy="392.60" r="2.0" fill="#f2cfe0" stroke="#0f5692" stroke-width="1.05"/>
<circle cx="398.12" cy="392.60" r="0.65" fill="#8a3d8f" stroke="none" stroke-width="1"/>
<path d="M418.68 101.29a2.5 2.5 0 1 0 5.0 0a2.5 2.5 0 1 0 -5.0 0zM421.66 101.56a2.5 2.5 0 1 0 5.0 0a2.5 2.5 0 1 0 -5.0 0zM424.75 101.04a2.5 2.5 0 1 0 5.0 0a2.5 2.5 0 1 0 -5.0 0zM428.41 101.68a2.5 2.5 0 1 0 5.0 0a2.5 2.5 0 1 0 -5.0 0zM419.46 104.64a2.5 2.5 0 1 0 5.0 0a2.5 2.5 0 1 0 -5.0 0zM422.01 104.33a2.5 2.5 0 1 0 5.0 0a2.5 2.5 0 1 0 -5.0 0zM424.44 103.91a2.5 2.5 0 1 0 5.0 0a2.5 2.5 0 1 0 -5.0 0zM428.36 104.12a2.5 2.5 0 1 0 5.0 0a2.5 2.5 0 1 0 -5.0 0zM430.61 104.28a2.5 2.5 0 1 0 5.0 0a2.5 2.5 0 1 0 -5.0 0zM419.58 106.94a2.5 2.5 0 1 0 5.0 0a2.5 2.5 0 1 0 -5.0 0zM421.87 106.43a2.5 2.5 0 1 0 5.0 0a2.5 2.5 0 1 0 -5.0 0zM425.00 107.41a2.5 2.5 0 1 0 5.0 0a2.5 2.5 0 1 0 -5.0 0zM428.32 106.88a2.5 2.5 0 1 0 5.0 0a2.5 2.5 0 1 0 -5.0 0zM431.43 106.51a2.5 2.5 0 1 0 5.0 0a2.5 2.5 0 1 0 -5.0 0zM419.37 109.46a2.5 2.5 0 1 0 5.0 0a2.5 2.5 0 1 0 -5.0 0zM422.07 109.35a2.5 2.5 0 1 0 5.0 0a2.5 2.5 0 1 0 -5.0 0zM424.47 109.88a2.5 2.5 0 1 0 5.0 0a2.5 2.5 0 1 0 -5.0 0zM428.08 109.08a2.5 2.5 0 1 0 5.0 0a2.5 2.5 0 1 0 -5.0 0zM431.01 109.42a2.5 2.5 0 1 0 5.0 0a2.5 2.5 0 1 0 -5.0 0zM419.36 112.43a2.5 2.5 0 1 0 5.0 0a2.5 2.5 0 1 0 -5.0 0zM421.71 112.46a2.5 2.5 0 1 0 5.0 0a2.5 2.5 0 1 0 -5.0 0zM425.21 111.55a2.5 2.5 0 1 0 5.0 0a2.5 2.5 0 1 0 -5.0 0zM427.42 111.47a2.5 2.5 0 1 0 5.0 0a2.5 2.5 0 1 0 -5.0 0zM431.31 111.75a2.5 2.5 0 1 0 5.0 0a2.5 2.5 0 1 0 -5.0 0zM433.53 112.20a2.5 2.5 0 1 0 5.0 0a2.5 2.5 0 1 0 -5.0 0zM418.43 114.52a2.5 2.5 0 1 0 5.0 0a2.5 2.5 0 1 0 -5.0 0zM421.91 114.29a2.5 2.5 0 1 0 5.0 0a2.5 2.5 0 1 0 -5.0 0zM424.53 115.14a2.5 2.5 0 1 0 5.0 0a2.5 2.5 0 1 0 -5.0 0zM428.01 114.31a2.5 2.5 0 1 0 5.0 0a2.5 2.5 0 1 0 -5.0 0zM431.13 115.04a2.5 2.5 0 1 0 5.0 0a2.5 2.5 0 1 0 -5.0 0zM433.42 114.08a2.5 2.5 0 1 0 5.0 0a2.5 2.5 0 1 0 -5.0 0zM436.58 114.92a2.5 2.5 0 1 0 5.0 0a2.5 2.5 0 1 0 -5.0 0zM418.67 117.45a2.5 2.5 0 1 0 5.0 0a2.5 2.5 0 1 0 -5.0 0zM421.87 117.36a2.5 2.5 0 1 0 5.0 0a2.5 2.5 0 1 0 -5.0 0zM424.79 117.43a2.5 2.5 0 1 0 5.0 0a2.5 2.5 0 1 0 -5.0 0zM427.47 117.03a2.5 2.5 0 1 0 5.0 0a2.5 2.5 0 1 0 -5.0 0zM431.56 117.72a2.5 2.5 0 1 0 5.0 0a2.5 2.5 0 1 0 -5.0 0zM433.77 117.70a2.5 2.5 0 1 0 5.0 0a2.5 2.5 0 1 0 -5.0 0zM436.77 117.80a2.5 2.5 0 1 0 5.0 0a2.5 2.5 0 1 0 -5.0 0zM416.38 120.43a2.5 2.5 0 1 0 5.0 0a2.5 2.5 0 1 0 -5.0 0zM419.08 119.49a2.5 2.5 0 1 0 5.0 0a2.5 2.5 0 1 0 -5.0 0zM422.44 120.45a2.5 2.5 0 1 0 5.0 0a2.5 2.5 0 1 0 -5.0 0zM425.24 119.89a2.5 2.5 0 1 0 5.0 0a2.5 2.5 0 1 0 -5.0 0zM427.85 119.70a2.5 2.5 0 1 0 5.0 0a2.5 2.5 0 1 0 -5.0 0zM430.65 120.09a2.5 2.5 0 1 0 5.0 0a2.5 2.5 0 1 0 -5.0 0zM433.92 119.51a2.5 2.5 0 1 0 5.0 0a2.5 2.5 0 1 0 -5.0 0zM409.79 122.94a2.5 2.5 0 1 0 5.0 0a2.5 2.5 0 1 0 -5.0 0zM413.48 121.91a2.5 2.5 0 1 0 5.0 0a2.5 2.5 0 1 0 -5.0 0zM415.64 122.28a2.5 2.5 0 1 0 5.0 0a2.5 2.5 0 1 0 -5.0 0zM419.58 122.83a2.5 2.5 0 1 0 5.0 0a2.5 2.5 0 1 0 -5.0 0zM421.81 122.15a2.5 2.5 0 1 0 5.0 0a2.5 2.5 0 1 0 -5.0 0zM425.21 122.90a2.5 2.5 0 1 0 5.0 0a2.5 2.5 0 1 0 -5.0 0zM428.52 122.30a2.5 2.5 0 1 0 5.0 0a2.5 2.5 0 1 0 -5.0 0zM431.46 122.71a2.5 2.5 0 1 0 5.0 0a2.5 2.5 0 1 0 -5.0 0zM433.98 123.07a2.5 2.5 0 1 0 5.0 0a2.5 2.5 0 1 0 -5.0 0zM410.49 124.76a2.5 2.5 0 1 0 5.0 0a2.5 2.5 0 1 0 -5.0 0zM413.31 125.22a2.5 2.5 0 1 0 5.0 0a2.5 2.5 0 1 0 -5.0 0zM416.41 124.94a2.5 2.5 0 1 0 5.0 0a2.5 2.5 0 1 0 -5.0 0zM418.81 124.85a2.5 2.5 0 1 0 5.0 0a2.5 2.5 0 1 0 -5.0 0zM422.44 125.22a2.5 2.5 0 1 0 5.0 0a2.5 2.5 0 1 0 -5.0 0zM425.55 125.56a2.5 2.5 0 1 0 5.0 0a2.5 2.5 0 1 0 -5.0 0zM427.56 125.16a2.5 2.5 0 1 0 5.0 0a2.5 2.5 0 1 0 -5.0 0zM430.53 124.55a2.5 2.5 0 1 0 5.0 0a2.5 2.5 0 1 0 -5.0 0zM410.34 127.56a2.5 2.5 0 1 0 5.0 0a2.5 2.5 0 1 0 -5.0 0zM422.51 127.66a2.5 2.5 0 1 0 5.0 0a2.5 2.5 0 1 0 -5.0 0zM424.73 128.05a2.5 2.5 0 1 0 5.0 0a2.5 2.5 0 1 0 -5.0 0zM428.39 127.12a2.5 2.5 0 1 0 5.0 0a2.5 2.5 0 1 0 -5.0 0zM431.20 127.22a2.5 2.5 0 1 0 5.0 0a2.5 2.5 0 1 0 -5.0 0zM422.49 130.07a2.5 2.5 0 1 0 5.0 0a2.5 2.5 0 1 0 -5.0 0zM424.70 130.29a2.5 2.5 0 1 0 5.0 0a2.5 2.5 0 1 0 -5.0 0zM427.52 130.50a2.5 2.5 0 1 0 5.0 0a2.5 2.5 0 1 0 -5.0 0zM430.45 129.73a2.5 2.5 0 1 0 5.0 0a2.5 2.5 0 1 0 -5.0 0zM424.71 132.98a2.5 2.5 0 1 0 5.0 0a2.5 2.5 0 1 0 -5.0 0zM427.77 132.63a2.5 2.5 0 1 0 5.0 0a2.5 2.5 0 1 0 -5.0 0zM417.10 75.40a2.5 2.5 0 1 0 5.0 0a2.5 2.5 0 1 0 -5.0 0zM427.90 79.10a2.5 2.5 0 1 0 5.0 0a2.5 2.5 0 1 0 -5.0 0zM413.30 81.50a2.5 2.5 0 1 0 5.0 0a2.5 2.5 0 1 0 -5.0 0zM414.00 84.60a2.5 2.5 0 1 0 5.0 0a2.5 2.5 0 1 0 -5.0 0zM416.00 86.50a2.5 2.5 0 1 0 5.0 0a2.5 2.5 0 1 0 -5.0 0zM419.80 88.10a2.5 2.5 0 1 0 5.0 0a2.5 2.5 0 1 0 -5.0 0zM416.70 90.00a2.5 2.5 0 1 0 5.0 0a2.5 2.5 0 1 0 -5.0 0zM419.00 90.80a2.5 2.5 0 1 0 5.0 0a2.5 2.5 0 1 0 -5.0 0zM424.80 91.50a2.5 2.5 0 1 0 5.0 0a2.5 2.5 0 1 0 -5.0 0zM412.50 94.60a2.5 2.5 0 1 0 5.0 0a2.5 2.5 0 1 0 -5.0 0zM415.60 94.60a2.5 2.5 0 1 0 5.0 0a2.5 2.5 0 1 0 -5.0 0zM414.00 96.50a2.5 2.5 0 1 0 5.0 0a2.5 2.5 0 1 0 -5.0 0zM417.90 95.80a2.5 2.5 0 1 0 5.0 0a2.5 2.5 0 1 0 -5.0 0zM416.30 97.30a2.5 2.5 0 1 0 5.0 0a2.5 2.5 0 1 0 -5.0 0zM420.20 100.80a2.5 2.5 0 1 0 5.0 0a2.5 2.5 0 1 0 -5.0 0zM429.40 102.30a2.5 2.5 0 1 0 5.0 0a2.5 2.5 0 1 0 -5.0 0zM424.00 103.50a2.5 2.5 0 1 0 5.0 0a2.5 2.5 0 1 0 -5.0 0zM397.10 115.40a2.5 2.5 0 1 0 5.0 0a2.5 2.5 0 1 0 -5.0 0zM436.30 114.20a2.5 2.5 0 1 0 5.0 0a2.5 2.5 0 1 0 -5.0 0zM437.50 119.60a2.5 2.5 0 1 0 5.0 0a2.5 2.5 0 1 0 -5.0 0zM431.50 128.00a2.5 2.5 0 1 0 5.0 0a2.5 2.5 0 1 0 -5.0 0zM407.50 129.50a2.5 2.5 0 1 0 5.0 0a2.5 2.5 0 1 0 -5.0 0zM409.50 131.00a2.5 2.5 0 1 0 5.0 0a2.5 2.5 0 1 0 -5.0 0z" fill="#26b24a"/>
<path d="M429.20 62.70a2.9 2.9 0 1 0 5.8 0a2.9 2.9 0 1 0 -5.8 0z" fill="#26b24a"/>
<circle cx="394.50" cy="137.50" r="2.4" fill="#fff" stroke="#4079b2" stroke-width="1.0"/>
<circle cx="395.30" cy="134.50" r="2.4" fill="#fff" stroke="#4079b2" stroke-width="1.0"/>
<circle cx="396.00" cy="131.30" r="2.4" fill="#fff" stroke="#4079b2" stroke-width="1.0"/>
<circle cx="397.00" cy="128.00" r="2.4" fill="#fff" stroke="#4079b2" stroke-width="1.0"/>
<circle cx="398.00" cy="125.00" r="2.4" fill="#fff" stroke="#4079b2" stroke-width="1.0"/>
<circle cx="399.00" cy="122.00" r="2.4" fill="#fff" stroke="#4079b2" stroke-width="1.0"/>
<circle cx="400.30" cy="118.50" r="2.4" fill="#fff" stroke="#4079b2" stroke-width="1.0"/>
<circle cx="401.80" cy="115.00" r="2.4" fill="#fff" stroke="#4079b2" stroke-width="1.0"/>
<circle cx="403.00" cy="112.00" r="2.4" fill="#fff" stroke="#4079b2" stroke-width="1.0"/>
<circle cx="404.30" cy="108.50" r="2.4" fill="#fff" stroke="#4079b2" stroke-width="1.0"/>
<circle cx="405.50" cy="105.00" r="2.4" fill="#fff" stroke="#4079b2" stroke-width="1.0"/>
<circle cx="406.80" cy="101.80" r="2.4" fill="#fff" stroke="#4079b2" stroke-width="1.0"/>
<circle cx="408.00" cy="99.00" r="2.4" fill="#fff" stroke="#4079b2" stroke-width="1.0"/>
<circle cx="410.00" cy="97.50" r="2.4" fill="#fff" stroke="#4079b2" stroke-width="1.0"/>
<circle cx="399.50" cy="131.00" r="2.4" fill="#fff" stroke="#4079b2" stroke-width="1.0"/>
<circle cx="401.00" cy="127.00" r="2.4" fill="#fff" stroke="#4079b2" stroke-width="1.0"/>
<circle cx="403.00" cy="123.50" r="2.4" fill="#fff" stroke="#4079b2" stroke-width="1.0"/>
<circle cx="404.50" cy="119.50" r="2.4" fill="#fff" stroke="#4079b2" stroke-width="1.0"/>
<circle cx="406.00" cy="116.00" r="2.4" fill="#fff" stroke="#4079b2" stroke-width="1.0"/>
<circle cx="407.50" cy="112.50" r="2.4" fill="#fff" stroke="#4079b2" stroke-width="1.0"/>
<circle cx="409.00" cy="109.00" r="2.4" fill="#fff" stroke="#4079b2" stroke-width="1.0"/>
<circle cx="410.00" cy="105.50" r="2.4" fill="#fff" stroke="#4079b2" stroke-width="1.0"/>
<circle cx="411.00" cy="102.00" r="2.4" fill="#fff" stroke="#4079b2" stroke-width="1.0"/>
<circle cx="412.50" cy="99.50" r="2.4" fill="#fff" stroke="#4079b2" stroke-width="1.0"/>
<circle cx="414.20" cy="112.20" r="2.4" fill="#fff" stroke="#4079b2" stroke-width="1.0"/>
<circle cx="415.50" cy="114.50" r="2.4" fill="#fff" stroke="#4079b2" stroke-width="1.0"/>
<circle cx="419.20" cy="116.80" r="2.4" fill="#fff" stroke="#4079b2" stroke-width="1.0"/>
<circle cx="423.40" cy="115.40" r="2.4" fill="#fff" stroke="#4079b2" stroke-width="1.0"/>
<circle cx="416.00" cy="105.20" r="2.4" fill="#fff" stroke="#4079b2" stroke-width="1.0"/>
<circle cx="418.30" cy="106.60" r="2.4" fill="#fff" stroke="#4079b2" stroke-width="1.0"/>
<circle cx="428.50" cy="124.60" r="2.4" fill="#fff" stroke="#4079b2" stroke-width="1.0"/>
<circle cx="404.00" cy="126.00" r="2.4" fill="#fff" stroke="#4079b2" stroke-width="1.0"/>
<circle cx="410.00" cy="111.70" r="2.4" fill="#fff" stroke="#4079b2" stroke-width="1.0"/>
<circle cx="413.80" cy="111.50" r="2.4" fill="#fff" stroke="#4079b2" stroke-width="1.0"/>
<circle cx="418.80" cy="116.50" r="2.4" fill="#fff" stroke="#4079b2" stroke-width="1.0"/>
<circle cx="413.70" cy="120.50" r="2.3" fill="#fff" stroke="none" stroke-width="1"/>
<path d="M292.85 257.20a2.55 2.55 0 1 0 5.1 0a2.55 2.55 0 1 0 -5.1 0zM292.45 260.00a2.55 2.55 0 1 0 5.1 0a2.55 2.55 0 1 0 -5.1 0zM297.85 267.20a2.55 2.55 0 1 0 5.1 0a2.55 2.55 0 1 0 -5.1 0zM302.85 268.30a2.55 2.55 0 1 0 5.1 0a2.55 2.55 0 1 0 -5.1 0zM300.05 267.70a2.55 2.55 0 1 0 5.1 0a2.55 2.55 0 1 0 -5.1 0zM275.05 277.20a2.55 2.55 0 1 0 5.1 0a2.55 2.55 0 1 0 -5.1 0zM290.05 281.00a2.55 2.55 0 1 0 5.1 0a2.55 2.55 0 1 0 -5.1 0zM293.95 273.80a2.55 2.55 0 1 0 5.1 0a2.55 2.55 0 1 0 -5.1 0zM295.65 277.20a2.55 2.55 0 1 0 5.1 0a2.55 2.55 0 1 0 -5.1 0zM297.25 280.50a2.55 2.55 0 1 0 5.1 0a2.55 2.55 0 1 0 -5.1 0zM298.95 283.20a2.55 2.55 0 1 0 5.1 0a2.55 2.55 0 1 0 -5.1 0zM301.15 281.60a2.55 2.55 0 1 0 5.1 0a2.55 2.55 0 1 0 -5.1 0zM300.55 285.50a2.55 2.55 0 1 0 5.1 0a2.55 2.55 0 1 0 -5.1 0zM302.25 287.10a2.55 2.55 0 1 0 5.1 0a2.55 2.55 0 1 0 -5.1 0zM303.35 291.60a2.55 2.55 0 1 0 5.1 0a2.55 2.55 0 1 0 -5.1 0zM305.55 289.30a2.55 2.55 0 1 0 5.1 0a2.55 2.55 0 1 0 -5.1 0zM272.85 285.50a2.55 2.55 0 1 0 5.1 0a2.55 2.55 0 1 0 -5.1 0zM271.75 287.10a2.55 2.55 0 1 0 5.1 0a2.55 2.55 0 1 0 -5.1 0z" fill="#26b24a"/>
<path d="M306.00 225.30a2.6 2.6 0 1 0 5.2 0a2.6 2.6 0 1 0 -5.2 0z" fill="#26b24a"/>
<circle cx="286.50" cy="263.30" r="2.6" fill="#fff" stroke="#0f5692" stroke-width="1.25"/>
<circle cx="284.60" cy="269.60" r="2.6" fill="#fff" stroke="#0f5692" stroke-width="1.25"/>
<circle cx="280.40" cy="273.30" r="2.6" fill="#fff" stroke="#0f5692" stroke-width="1.25"/>
<circle cx="291.00" cy="273.30" r="2.6" fill="#fff" stroke="#0f5692" stroke-width="1.25"/>
<circle cx="295.70" cy="268.10" r="2.6" fill="#fff" stroke="#0f5692" stroke-width="1.25"/>
<circle cx="281.90" cy="281.60" r="2.6" fill="#fff" stroke="#0f5692" stroke-width="1.25"/>
<circle cx="275.40" cy="289.30" r="2.6" fill="#fff" stroke="#0f5692" stroke-width="1.25"/>
<circle cx="274.30" cy="292.50" r="2.6" fill="#fff" stroke="#0f5692" stroke-width="1.25"/>
<circle cx="272.90" cy="296.20" r="2.6" fill="#fff" stroke="#0f5692" stroke-width="1.25"/>
<circle cx="271.50" cy="300.40" r="2.6" fill="#fff" stroke="#0f5692" stroke-width="1.25"/>
<circle cx="275.00" cy="291.00" r="2.6" fill="#fff" stroke="#0f5692" stroke-width="1.25"/>
<circle cx="273.60" cy="294.50" r="2.6" fill="#fff" stroke="#0f5692" stroke-width="1.25"/>
<circle cx="305.70" cy="286.60" r="2.4" fill="#fff" stroke="none" stroke-width="1"/>
<path d="M292.55 367.60a2.55 2.55 0 1 0 5.1 0a2.55 2.55 0 1 0 -5.1 0zM306.15 372.60a2.55 2.55 0 1 0 5.1 0a2.55 2.55 0 1 0 -5.1 0zM304.95 378.20a2.55 2.55 0 1 0 5.1 0a2.55 2.55 0 1 0 -5.1 0zM292.15 381.60a2.55 2.55 0 1 0 5.1 0a2.55 2.55 0 1 0 -5.1 0zM300.25 388.60a2.55 2.55 0 1 0 5.1 0a2.55 2.55 0 1 0 -5.1 0zM304.65 391.70a2.55 2.55 0 1 0 5.1 0a2.55 2.55 0 1 0 -5.1 0z" fill="#26b24a"/>
<circle cx="284.70" cy="377.40" r="2.6" fill="#fff" stroke="#0f5692" stroke-width="1.25"/>
<circle cx="283.90" cy="380.80" r="2.6" fill="#fff" stroke="#0f5692" stroke-width="1.25"/>
<circle cx="291.20" cy="381.60" r="2.6" fill="#fff" stroke="#0f5692" stroke-width="1.25"/>
<circle cx="285.40" cy="385.10" r="2.6" fill="#fff" stroke="#0f5692" stroke-width="1.25"/>
<circle cx="282.30" cy="389.80" r="2.6" fill="#fff" stroke="#0f5692" stroke-width="1.25"/>
<circle cx="274.10" cy="403.30" r="2.6" fill="#fff" stroke="#0f5692" stroke-width="1.25"/>
<circle cx="272.50" cy="407.50" r="2.6" fill="#fff" stroke="#0f5692" stroke-width="1.25"/>
<path d="M290.05 458.40a2.55 2.55 0 1 0 5.1 0a2.55 2.55 0 1 0 -5.1 0zM288.75 470.70a2.55 2.55 0 1 0 5.1 0a2.55 2.55 0 1 0 -5.1 0zM296.45 477.20a2.55 2.55 0 1 0 5.1 0a2.55 2.55 0 1 0 -5.1 0zM304.65 484.30a2.55 2.55 0 1 0 5.1 0a2.55 2.55 0 1 0 -5.1 0zM291.25 488.20a2.55 2.55 0 1 0 5.1 0a2.55 2.55 0 1 0 -5.1 0zM295.15 492.70a2.55 2.55 0 1 0 5.1 0a2.55 2.55 0 1 0 -5.1 0zM297.75 494.70a2.55 2.55 0 1 0 5.1 0a2.55 2.55 0 1 0 -5.1 0zM300.35 494.00a2.55 2.55 0 1 0 5.1 0a2.55 2.55 0 1 0 -5.1 0zM301.05 496.60a2.55 2.55 0 1 0 5.1 0a2.55 2.55 0 1 0 -5.1 0zM299.05 497.90a2.55 2.55 0 1 0 5.1 0a2.55 2.55 0 1 0 -5.1 0zM304.25 504.40a2.55 2.55 0 1 0 5.1 0a2.55 2.55 0 1 0 -5.1 0zM306.15 505.70a2.55 2.55 0 1 0 5.1 0a2.55 2.55 0 1 0 -5.1 0zM275.15 491.50a2.55 2.55 0 1 0 5.1 0a2.55 2.55 0 1 0 -5.1 0zM273.15 499.20a2.55 2.55 0 1 0 5.1 0a2.55 2.55 0 1 0 -5.1 0zM293.45 490.00a2.55 2.55 0 1 0 5.1 0a2.55 2.55 0 1 0 -5.1 0zM302.45 499.00a2.55 2.55 0 1 0 5.1 0a2.55 2.55 0 1 0 -5.1 0z" fill="#26b24a"/>
<circle cx="284.10" cy="476.60" r="2.6" fill="#fff" stroke="#0f5692" stroke-width="1.25"/>
<circle cx="287.40" cy="477.90" r="2.6" fill="#fff" stroke="#0f5692" stroke-width="1.25"/>
<circle cx="286.10" cy="481.10" r="2.6" fill="#fff" stroke="#0f5692" stroke-width="1.25"/>
<circle cx="286.70" cy="483.90" r="2.6" fill="#fff" stroke="#0f5692" stroke-width="1.25"/>
<circle cx="292.90" cy="481.10" r="2.6" fill="#fff" stroke="#0f5692" stroke-width="1.25"/>
<circle cx="295.50" cy="483.00" r="2.6" fill="#fff" stroke="#0f5692" stroke-width="1.25"/>
<circle cx="281.30" cy="488.90" r="2.6" fill="#fff" stroke="#0f5692" stroke-width="1.25"/>
<circle cx="295.80" cy="490.40" r="2.6" fill="#fff" stroke="#0f5692" stroke-width="1.25"/>
<circle cx="279.00" cy="496.00" r="2.6" fill="#fff" stroke="#0f5692" stroke-width="1.25"/>
<circle cx="281.50" cy="496.00" r="2.6" fill="#fff" stroke="#0f5692" stroke-width="1.25"/>
<circle cx="290.60" cy="496.60" r="2.6" fill="#fff" stroke="#0f5692" stroke-width="1.25"/>
<circle cx="305.50" cy="501.20" r="2.6" fill="#fff" stroke="#0f5692" stroke-width="1.25"/>
<circle cx="276.40" cy="503.10" r="2.6" fill="#fff" stroke="#0f5692" stroke-width="1.25"/>
<circle cx="274.00" cy="507.00" r="2.6" fill="#fff" stroke="#0f5692" stroke-width="1.25"/>
<circle cx="273.10" cy="510.90" r="2.6" fill="#fff" stroke="#0f5692" stroke-width="1.25"/>
<circle cx="271.80" cy="514.80" r="2.6" fill="#fff" stroke="#0f5692" stroke-width="1.25"/>
<path d="M470.05 241.20a2.55 2.55 0 1 0 5.1 0a2.55 2.55 0 1 0 -5.1 0zM456.95 249.10a2.55 2.55 0 1 0 5.1 0a2.55 2.55 0 1 0 -5.1 0zM461.65 250.70a2.55 2.55 0 1 0 5.1 0a2.55 2.55 0 1 0 -5.1 0zM457.75 253.80a2.55 2.55 0 1 0 5.1 0a2.55 2.55 0 1 0 -5.1 0zM455.35 255.40a2.55 2.55 0 1 0 5.1 0a2.55 2.55 0 1 0 -5.1 0zM462.45 255.40a2.55 2.55 0 1 0 5.1 0a2.55 2.55 0 1 0 -5.1 0zM467.15 253.80a2.55 2.55 0 1 0 5.1 0a2.55 2.55 0 1 0 -5.1 0zM460.15 257.70a2.55 2.55 0 1 0 5.1 0a2.55 2.55 0 1 0 -5.1 0zM461.65 250.80a2.55 2.55 0 1 0 5.1 0a2.55 2.55 0 1 0 -5.1 0zM466.45 253.50a2.55 2.55 0 1 0 5.1 0a2.55 2.55 0 1 0 -5.1 0zM458.85 256.30a2.55 2.55 0 1 0 5.1 0a2.55 2.55 0 1 0 -5.1 0zM461.65 257.70a2.55 2.55 0 1 0 5.1 0a2.55 2.55 0 1 0 -5.1 0zM471.15 264.80a2.55 2.55 0 1 0 5.1 0a2.55 2.55 0 1 0 -5.1 0zM464.85 268.70a2.55 2.55 0 1 0 5.1 0a2.55 2.55 0 1 0 -5.1 0zM468.75 270.30a2.55 2.55 0 1 0 5.1 0a2.55 2.55 0 1 0 -5.1 0zM471.95 267.20a2.55 2.55 0 1 0 5.1 0a2.55 2.55 0 1 0 -5.1 0zM467.15 273.50a2.55 2.55 0 1 0 5.1 0a2.55 2.55 0 1 0 -5.1 0zM463.25 274.20a2.55 2.55 0 1 0 5.1 0a2.55 2.55 0 1 0 -5.1 0zM470.35 274.20a2.55 2.55 0 1 0 5.1 0a2.55 2.55 0 1 0 -5.1 0zM460.15 275.00a2.55 2.55 0 1 0 5.1 0a2.55 2.55 0 1 0 -5.1 0zM457.75 276.60a2.55 2.55 0 1 0 5.1 0a2.55 2.55 0 1 0 -5.1 0zM471.15 278.20a2.55 2.55 0 1 0 5.1 0a2.55 2.55 0 1 0 -5.1 0zM466.45 280.50a2.55 2.55 0 1 0 5.1 0a2.55 2.55 0 1 0 -5.1 0zM476.65 279.70a2.55 2.55 0 1 0 5.1 0a2.55 2.55 0 1 0 -5.1 0zM478.15 275.80a2.55 2.55 0 1 0 5.1 0a2.55 2.55 0 1 0 -5.1 0zM443.65 275.80a2.55 2.55 0 1 0 5.1 0a2.55 2.55 0 1 0 -5.1 0zM452.75 279.40a2.55 2.55 0 1 0 5.1 0a2.55 2.55 0 1 0 -5.1 0zM460.15 284.50a2.55 2.55 0 1 0 5.1 0a2.55 2.55 0 1 0 -5.1 0zM470.65 286.80a2.55 2.55 0 1 0 5.1 0a2.55 2.55 0 1 0 -5.1 0zM471.35 264.30a2.55 2.55 0 1 0 5.1 0a2.55 2.55 0 1 0 -5.1 0zM463.65 268.80a2.55 2.55 0 1 0 5.1 0a2.55 2.55 0 1 0 -5.1 0zM467.85 270.20a2.55 2.55 0 1 0 5.1 0a2.55 2.55 0 1 0 -5.1 0zM469.95 272.20a2.55 2.55 0 1 0 5.1 0a2.55 2.55 0 1 0 -5.1 0zM466.45 274.30a2.55 2.55 0 1 0 5.1 0a2.55 2.55 0 1 0 -5.1 0zM468.55 277.80a2.55 2.55 0 1 0 5.1 0a2.55 2.55 0 1 0 -5.1 0zM465.75 281.20a2.55 2.55 0 1 0 5.1 0a2.55 2.55 0 1 0 -5.1 0zM478.25 276.40a2.55 2.55 0 1 0 5.1 0a2.55 2.55 0 1 0 -5.1 0zM474.75 279.20a2.55 2.55 0 1 0 5.1 0a2.55 2.55 0 1 0 -5.1 0zM478.95 281.90a2.55 2.55 0 1 0 5.1 0a2.55 2.55 0 1 0 -5.1 0zM460.25 285.10a2.55 2.55 0 1 0 5.1 0a2.55 2.55 0 1 0 -5.1 0z" fill="#26b24a"/>
<path d="M471.70 225.50a2.8 2.8 0 1 0 5.6 0a2.8 2.8 0 1 0 -5.6 0z" fill="#26b24a"/>
<circle cx="439.10" cy="290.00" r="2.6" fill="#fff" stroke="#0f5692" stroke-width="1.25"/>
<circle cx="439.10" cy="293.10" r="2.6" fill="#fff" stroke="#0f5692" stroke-width="1.25"/>
<circle cx="438.30" cy="297.00" r="2.6" fill="#fff" stroke="#0f5692" stroke-width="1.25"/>
<circle cx="437.50" cy="300.20" r="2.6" fill="#fff" stroke="#0f5692" stroke-width="1.25"/>
<path d="M470.15 349.40a2.55 2.55 0 1 0 5.1 0a2.55 2.55 0 1 0 -5.1 0zM457.45 356.70a2.55 2.55 0 1 0 5.1 0a2.55 2.55 0 1 0 -5.1 0zM462.05 358.30a2.55 2.55 0 1 0 5.1 0a2.55 2.55 0 1 0 -5.1 0zM455.85 362.90a2.55 2.55 0 1 0 5.1 0a2.55 2.55 0 1 0 -5.1 0zM459.75 362.90a2.55 2.55 0 1 0 5.1 0a2.55 2.55 0 1 0 -5.1 0zM462.85 361.40a2.55 2.55 0 1 0 5.1 0a2.55 2.55 0 1 0 -5.1 0zM458.15 366.00a2.55 2.55 0 1 0 5.1 0a2.55 2.55 0 1 0 -5.1 0zM461.25 365.30a2.55 2.55 0 1 0 5.1 0a2.55 2.55 0 1 0 -5.1 0zM471.65 372.70a2.55 2.55 0 1 0 5.1 0a2.55 2.55 0 1 0 -5.1 0zM463.65 376.90a2.55 2.55 0 1 0 5.1 0a2.55 2.55 0 1 0 -5.1 0zM469.05 378.50a2.55 2.55 0 1 0 5.1 0a2.55 2.55 0 1 0 -5.1 0zM470.55 377.70a2.55 2.55 0 1 0 5.1 0a2.55 2.55 0 1 0 -5.1 0zM466.75 380.80a2.55 2.55 0 1 0 5.1 0a2.55 2.55 0 1 0 -5.1 0zM470.55 381.60a2.55 2.55 0 1 0 5.1 0a2.55 2.55 0 1 0 -5.1 0zM468.25 384.70a2.55 2.55 0 1 0 5.1 0a2.55 2.55 0 1 0 -5.1 0zM456.65 380.80a2.55 2.55 0 1 0 5.1 0a2.55 2.55 0 1 0 -5.1 0zM455.05 382.00a2.55 2.55 0 1 0 5.1 0a2.55 2.55 0 1 0 -5.1 0zM460.55 386.70a2.55 2.55 0 1 0 5.1 0a2.55 2.55 0 1 0 -5.1 0zM466.75 389.30a2.55 2.55 0 1 0 5.1 0a2.55 2.55 0 1 0 -5.1 0zM452.75 387.00a2.55 2.55 0 1 0 5.1 0a2.55 2.55 0 1 0 -5.1 0zM451.95 387.80a2.55 2.55 0 1 0 5.1 0a2.55 2.55 0 1 0 -5.1 0zM460.15 393.20a2.55 2.55 0 1 0 5.1 0a2.55 2.55 0 1 0 -5.1 0zM471.05 394.80a2.55 2.55 0 1 0 5.1 0a2.55 2.55 0 1 0 -5.1 0z" fill="#26b24a"/>
<circle cx="439.00" cy="401.00" r="2.6" fill="#fff" stroke="#0f5692" stroke-width="1.25"/>
<path d="M457.45 464.20a2.55 2.55 0 1 0 5.1 0a2.55 2.55 0 1 0 -5.1 0zM461.75 465.10a2.55 2.55 0 1 0 5.1 0a2.55 2.55 0 1 0 -5.1 0zM466.95 467.70a2.55 2.55 0 1 0 5.1 0a2.55 2.55 0 1 0 -5.1 0zM456.55 470.80a2.55 2.55 0 1 0 5.1 0a2.55 2.55 0 1 0 -5.1 0zM462.15 469.40a2.55 2.55 0 1 0 5.1 0a2.55 2.55 0 1 0 -5.1 0zM463.85 483.30a2.55 2.55 0 1 0 5.1 0a2.55 2.55 0 1 0 -5.1 0zM468.75 481.50a2.55 2.55 0 1 0 5.1 0a2.55 2.55 0 1 0 -5.1 0zM470.45 485.00a2.55 2.55 0 1 0 5.1 0a2.55 2.55 0 1 0 -5.1 0zM466.95 487.60a2.55 2.55 0 1 0 5.1 0a2.55 2.55 0 1 0 -5.1 0zM469.55 488.40a2.55 2.55 0 1 0 5.1 0a2.55 2.55 0 1 0 -5.1 0zM458.35 488.40a2.55 2.55 0 1 0 5.1 0a2.55 2.55 0 1 0 -5.1 0zM459.15 491.90a2.55 2.55 0 1 0 5.1 0a2.55 2.55 0 1 0 -5.1 0zM475.65 493.60a2.55 2.55 0 1 0 5.1 0a2.55 2.55 0 1 0 -5.1 0zM479.05 491.00a2.55 2.55 0 1 0 5.1 0a2.55 2.55 0 1 0 -5.1 0zM479.05 496.20a2.55 2.55 0 1 0 5.1 0a2.55 2.55 0 1 0 -5.1 0z" fill="#26b24a"/>
<use href="#dl" x="394.2" y="139.3"/>
<use href="#dl" x="271.5" y="301.2"/>
<use href="#dl" x="271.5" y="408.6"/>
<use href="#dl" x="271.5" y="515.5"/>
<use href="#dl" x="437.5" y="301.2"/>
<use href="#dl" x="437.5" y="408.6"/>
<use href="#dl" x="437.5" y="515.5"/>
<rect x="0.5" y="0.5" width="519" height="540" fill="none" stroke="#000" stroke-width="1.2"/>
</svg></body></html>
